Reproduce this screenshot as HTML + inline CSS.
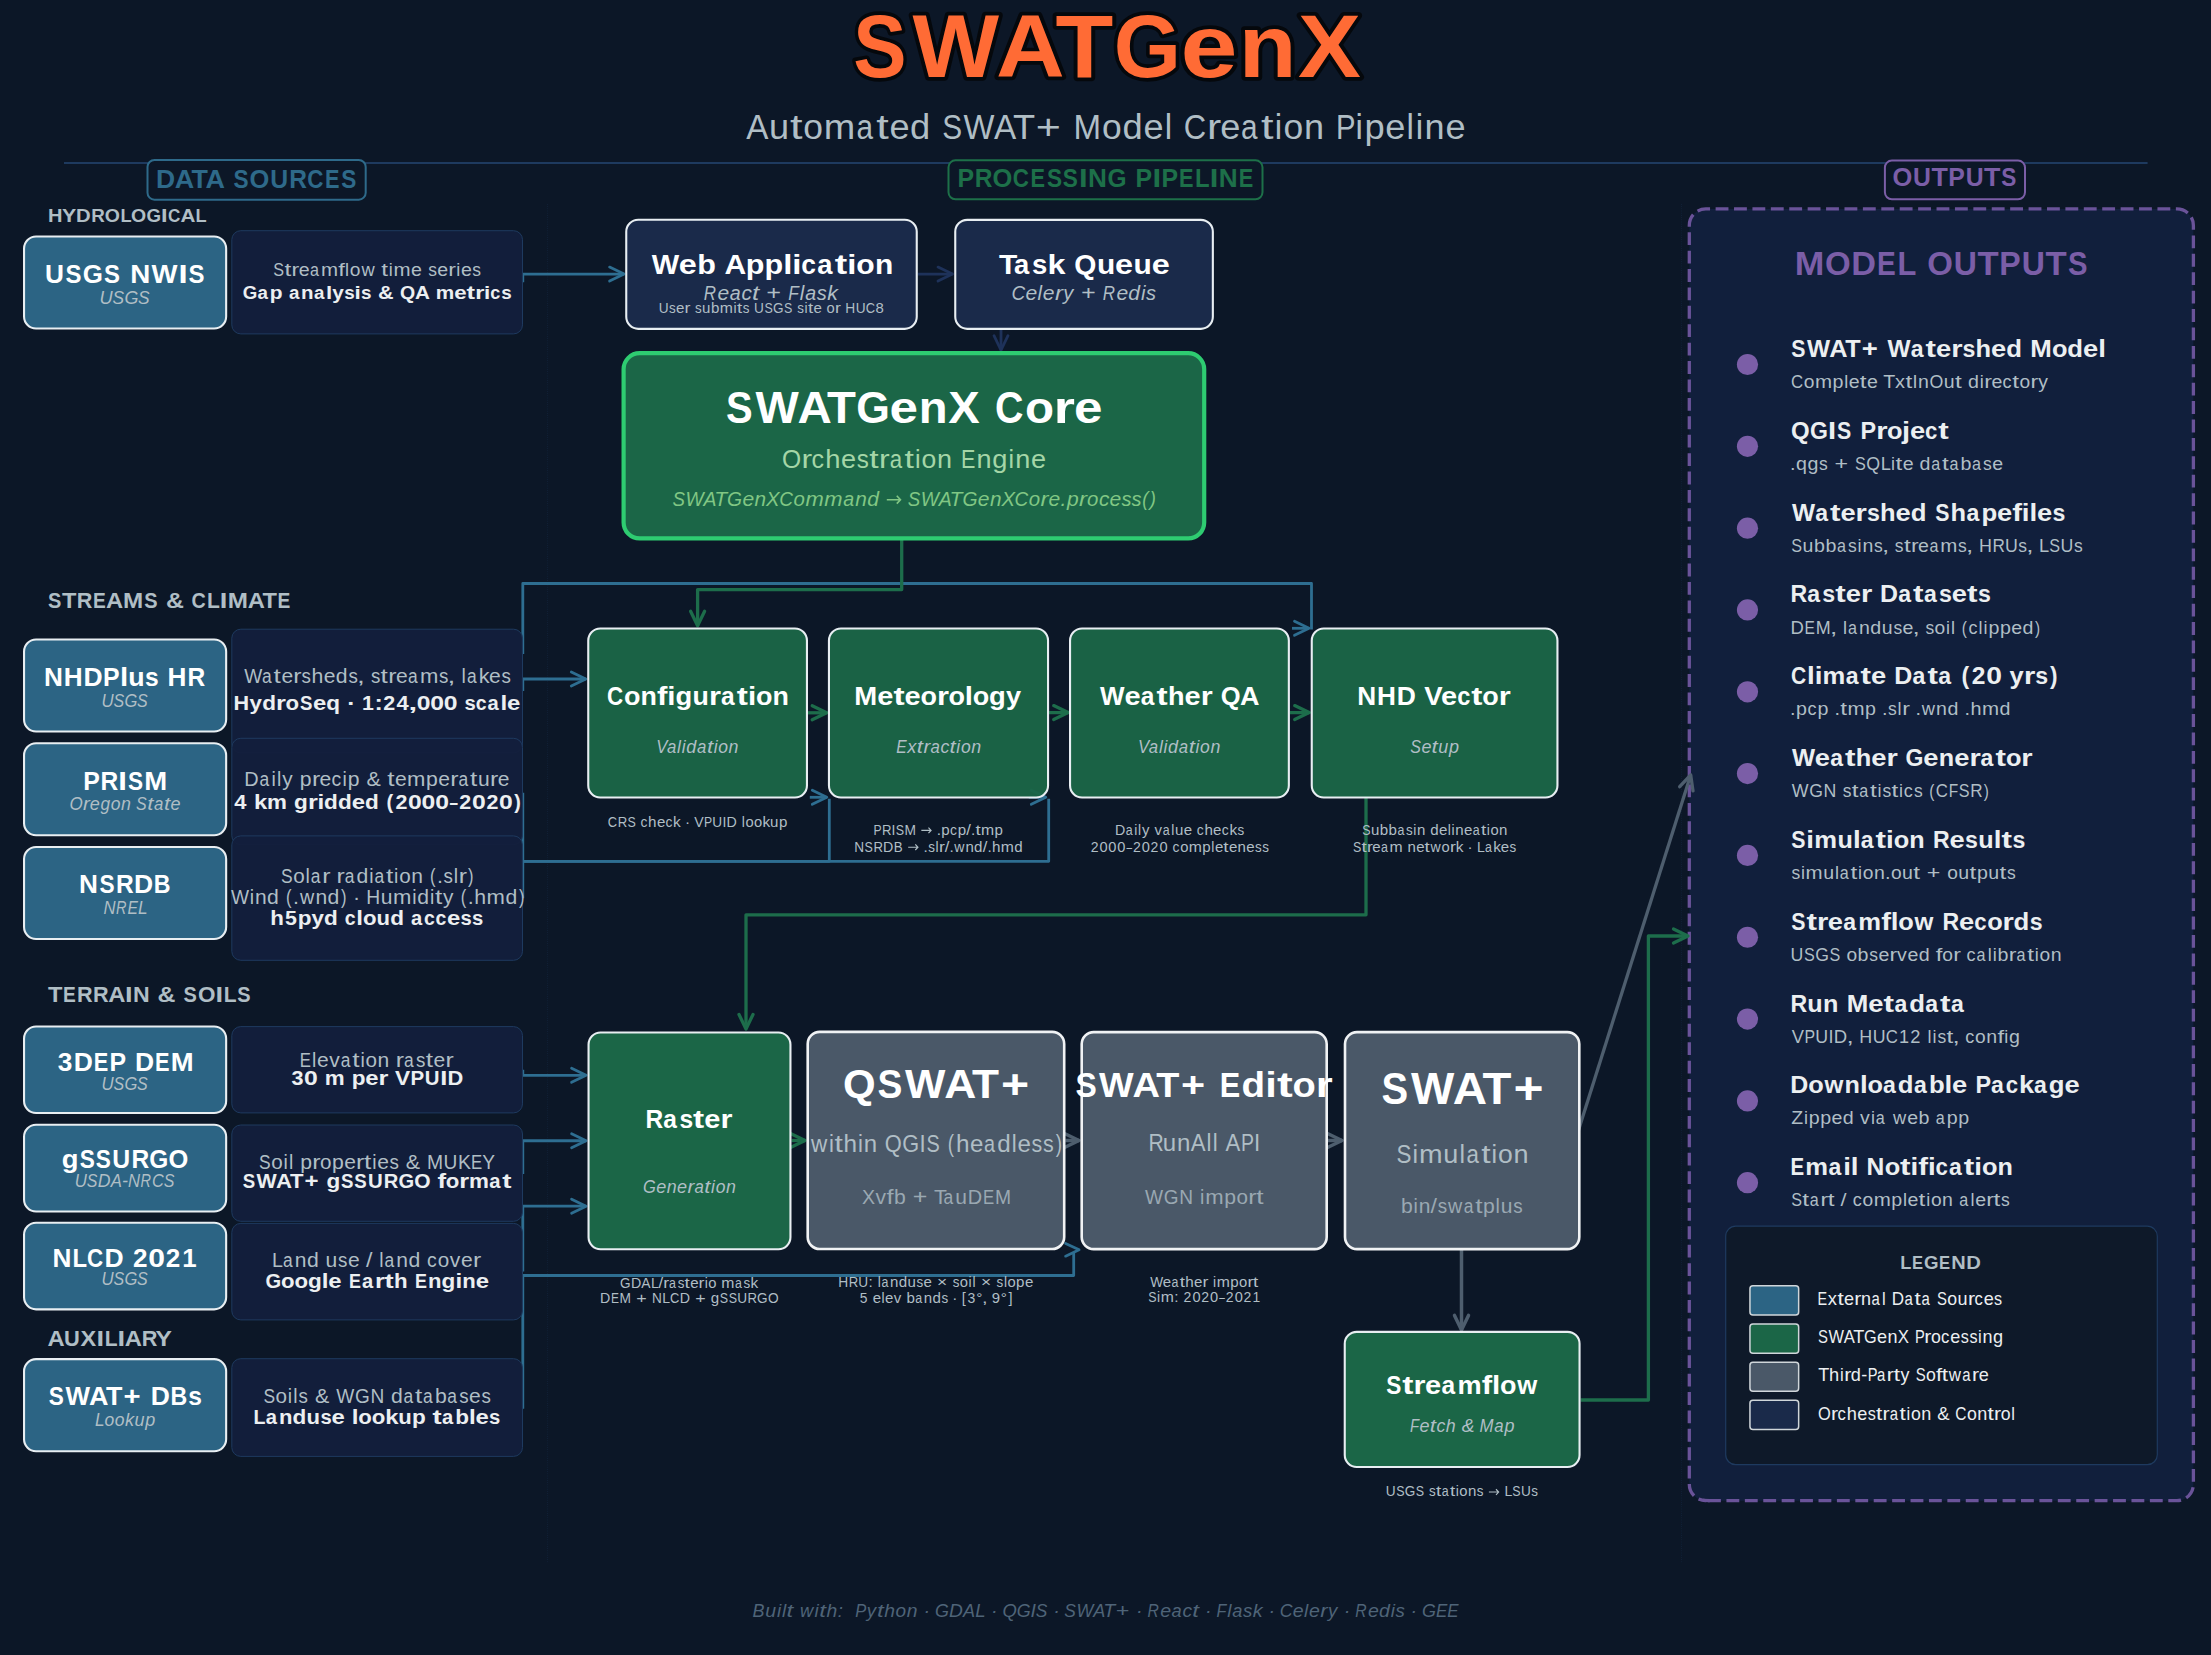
<!DOCTYPE html>
<html><head><meta charset="utf-8"><title>SWATGenX</title>
<style>html,body{margin:0;padding:0;background:#0c1727;}svg{display:block}text{font-family:"Liberation Sans", sans-serif;white-space:pre}</style>
</head><body>
<svg width="2211" height="1655" viewBox="0 0 2211 1655">
<rect x="0" y="0" width="2211" height="1655" fill="#0c1727"/>
<line x1="64" y1="163" x2="2147.6" y2="163" stroke="#1e3a5f" stroke-width="2"/>
<line x1="547.4" y1="204" x2="547.4" y2="1563" stroke="#1e3a5f" stroke-width="0.8" stroke-dasharray="0.8,1.4" opacity="0.45"/>
<line x1="1681.4" y1="204" x2="1681.4" y2="1563" stroke="#1e3a5f" stroke-width="0.8" stroke-dasharray="0.8,1.4" opacity="0.45"/>
<g font-size="88.33" font-weight="bold" fill="#05080c" stroke="#05080c" stroke-width="7.4" stroke-linejoin="round">
<text x="853.3" y="77.2" textLength="53.27" lengthAdjust="spacingAndGlyphs">S</text>
<text x="912.4" y="77.2" textLength="86.56" lengthAdjust="spacingAndGlyphs">W</text>
<text x="996.1" y="77.2" textLength="68.72" lengthAdjust="spacingAndGlyphs">A</text>
<text x="1055.6" y="77.2" textLength="57.81" lengthAdjust="spacingAndGlyphs">T</text>
<text x="1113.7" y="77.2" textLength="67.22" lengthAdjust="spacingAndGlyphs">G</text>
<text x="1180.6" y="77.2" textLength="56.97" lengthAdjust="spacingAndGlyphs">e</text>
<text x="1238.8" y="77.2" textLength="57.73" lengthAdjust="spacingAndGlyphs">n</text>
<text x="1297.9" y="77.2" textLength="62.91" lengthAdjust="spacingAndGlyphs">X</text>
</g>
<g font-size="88.33" font-weight="bold" fill="#ff6b35" >
<text x="853.3" y="77.2" textLength="53.27" lengthAdjust="spacingAndGlyphs">S</text>
<text x="912.4" y="77.2" textLength="86.56" lengthAdjust="spacingAndGlyphs">W</text>
<text x="996.1" y="77.2" textLength="68.72" lengthAdjust="spacingAndGlyphs">A</text>
<text x="1055.6" y="77.2" textLength="57.81" lengthAdjust="spacingAndGlyphs">T</text>
<text x="1113.7" y="77.2" textLength="67.22" lengthAdjust="spacingAndGlyphs">G</text>
<text x="1180.6" y="77.2" textLength="56.97" lengthAdjust="spacingAndGlyphs">e</text>
<text x="1238.8" y="77.2" textLength="57.73" lengthAdjust="spacingAndGlyphs">n</text>
<text x="1297.9" y="77.2" textLength="62.91" lengthAdjust="spacingAndGlyphs">X</text>
</g>
<g font-size="35.33" fill="#b0bec5" >
<text x="746.2" y="139.3" textLength="22.23" lengthAdjust="spacingAndGlyphs">A</text>
<text x="769.1" y="139.3" textLength="20.07" lengthAdjust="spacingAndGlyphs">u</text>
<text x="789.9" y="139.3" textLength="12.53" lengthAdjust="spacingAndGlyphs">t</text>
<text x="803.2" y="139.3" textLength="19.71" lengthAdjust="spacingAndGlyphs">o</text>
<text x="823.8" y="139.3" textLength="31.51" lengthAdjust="spacingAndGlyphs">m</text>
<text x="856.5" y="139.3" textLength="16.56" lengthAdjust="spacingAndGlyphs">a</text>
<text x="876.3" y="139.3" textLength="12.53" lengthAdjust="spacingAndGlyphs">t</text>
<text x="889.6" y="139.3" textLength="20.12" lengthAdjust="spacingAndGlyphs">e</text>
<text x="910.1" y="139.3" textLength="20.19" lengthAdjust="spacingAndGlyphs">d</text>
<text x="942.3" y="139.3" textLength="19.91" lengthAdjust="spacingAndGlyphs">S</text>
<text x="963.6" y="139.3" textLength="30.96" lengthAdjust="spacingAndGlyphs">W</text>
<text x="994.1" y="139.3" textLength="22.23" lengthAdjust="spacingAndGlyphs">A</text>
<text x="1013.1" y="139.3" textLength="22.15" lengthAdjust="spacingAndGlyphs">T</text>
<text x="1035.7" y="139.3" textLength="25.09" lengthAdjust="spacingAndGlyphs">+</text>
<text x="1073.5" y="139.3" textLength="27.56" lengthAdjust="spacingAndGlyphs">M</text>
<text x="1102.0" y="139.3" textLength="19.71" lengthAdjust="spacingAndGlyphs">o</text>
<text x="1122.4" y="139.3" textLength="20.19" lengthAdjust="spacingAndGlyphs">d</text>
<text x="1143.6" y="139.3" textLength="20.12" lengthAdjust="spacingAndGlyphs">e</text>
<text x="1164.7" y="139.3" textLength="7.41" lengthAdjust="spacingAndGlyphs">l</text>
<text x="1183.8" y="139.3" textLength="22.37" lengthAdjust="spacingAndGlyphs">C</text>
<text x="1207.0" y="139.3" textLength="14.21" lengthAdjust="spacingAndGlyphs">r</text>
<text x="1220.2" y="139.3" textLength="20.12" lengthAdjust="spacingAndGlyphs">e</text>
<text x="1241.1" y="139.3" textLength="16.56" lengthAdjust="spacingAndGlyphs">a</text>
<text x="1260.9" y="139.3" textLength="12.53" lengthAdjust="spacingAndGlyphs">t</text>
<text x="1274.8" y="139.3" textLength="7.41" lengthAdjust="spacingAndGlyphs">i</text>
<text x="1283.5" y="139.3" textLength="19.71" lengthAdjust="spacingAndGlyphs">o</text>
<text x="1304.1" y="139.3" textLength="20.07" lengthAdjust="spacingAndGlyphs">n</text>
<text x="1336.1" y="139.3" textLength="19.53" lengthAdjust="spacingAndGlyphs">P</text>
<text x="1355.5" y="139.3" textLength="7.41" lengthAdjust="spacingAndGlyphs">i</text>
<text x="1364.4" y="139.3" textLength="20.19" lengthAdjust="spacingAndGlyphs">p</text>
<text x="1385.3" y="139.3" textLength="20.12" lengthAdjust="spacingAndGlyphs">e</text>
<text x="1406.5" y="139.3" textLength="7.41" lengthAdjust="spacingAndGlyphs">l</text>
<text x="1415.7" y="139.3" textLength="7.41" lengthAdjust="spacingAndGlyphs">i</text>
<text x="1424.6" y="139.3" textLength="20.07" lengthAdjust="spacingAndGlyphs">n</text>
<text x="1445.5" y="139.3" textLength="20.12" lengthAdjust="spacingAndGlyphs">e</text>
</g>
<rect x="147.50" y="160.00" width="218.20" height="39.70" rx="7" ry="7" fill="#0c1727" stroke="#2e6a8a" stroke-width="2" />
<g font-size="25.03" font-weight="bold" fill="#2e6a8a" >
<text x="156.1" y="187.6" textLength="19.13" lengthAdjust="spacingAndGlyphs">D</text>
<text x="174.7" y="187.6" textLength="19.47" lengthAdjust="spacingAndGlyphs">A</text>
<text x="191.6" y="187.6" textLength="16.38" lengthAdjust="spacingAndGlyphs">T</text>
<text x="205.4" y="187.6" textLength="19.47" lengthAdjust="spacingAndGlyphs">A</text>
<text x="233.5" y="187.6" textLength="15.09" lengthAdjust="spacingAndGlyphs">S</text>
<text x="249.6" y="187.6" textLength="19.82" lengthAdjust="spacingAndGlyphs">O</text>
<text x="270.2" y="187.6" textLength="17.90" lengthAdjust="spacingAndGlyphs">U</text>
<text x="289.3" y="187.6" textLength="17.72" lengthAdjust="spacingAndGlyphs">R</text>
<text x="307.2" y="187.6" textLength="16.14" lengthAdjust="spacingAndGlyphs">C</text>
<text x="325.0" y="187.6" textLength="14.49" lengthAdjust="spacingAndGlyphs">E</text>
<text x="341.3" y="187.6" textLength="15.09" lengthAdjust="spacingAndGlyphs">S</text>
</g>
<rect x="948.50" y="160.30" width="314.00" height="39.00" rx="7" ry="7" fill="#0c1727" stroke="#1d7049" stroke-width="2" />
<g font-size="25.03" font-weight="bold" fill="#1d7049" >
<text x="957.4" y="187.1" textLength="16.58" lengthAdjust="spacingAndGlyphs">P</text>
<text x="974.7" y="187.1" textLength="17.72" lengthAdjust="spacingAndGlyphs">R</text>
<text x="992.5" y="187.1" textLength="19.82" lengthAdjust="spacingAndGlyphs">O</text>
<text x="1012.7" y="187.1" textLength="16.14" lengthAdjust="spacingAndGlyphs">C</text>
<text x="1030.5" y="187.1" textLength="14.49" lengthAdjust="spacingAndGlyphs">E</text>
<text x="1046.9" y="187.1" textLength="15.09" lengthAdjust="spacingAndGlyphs">S</text>
<text x="1062.8" y="187.1" textLength="15.09" lengthAdjust="spacingAndGlyphs">S</text>
<text x="1079.0" y="187.1" textLength="8.60" lengthAdjust="spacingAndGlyphs">I</text>
<text x="1088.0" y="187.1" textLength="18.93" lengthAdjust="spacingAndGlyphs">N</text>
<text x="1107.6" y="187.1" textLength="19.05" lengthAdjust="spacingAndGlyphs">G</text>
<text x="1135.5" y="187.1" textLength="16.58" lengthAdjust="spacingAndGlyphs">P</text>
<text x="1152.4" y="187.1" textLength="8.60" lengthAdjust="spacingAndGlyphs">I</text>
<text x="1161.6" y="187.1" textLength="16.58" lengthAdjust="spacingAndGlyphs">P</text>
<text x="1179.1" y="187.1" textLength="14.49" lengthAdjust="spacingAndGlyphs">E</text>
<text x="1195.1" y="187.1" textLength="14.56" lengthAdjust="spacingAndGlyphs">L</text>
<text x="1209.7" y="187.1" textLength="8.60" lengthAdjust="spacingAndGlyphs">I</text>
<text x="1218.8" y="187.1" textLength="18.93" lengthAdjust="spacingAndGlyphs">N</text>
<text x="1238.8" y="187.1" textLength="14.49" lengthAdjust="spacingAndGlyphs">E</text>
</g>
<rect x="1884.90" y="160.60" width="140.10" height="38.70" rx="7" ry="7" fill="#0c1727" stroke="#7b5ea7" stroke-width="2" />
<g font-size="25.03" font-weight="bold" fill="#7b5ea7" >
<text x="1892.6" y="186.2" textLength="19.82" lengthAdjust="spacingAndGlyphs">O</text>
<text x="1913.1" y="186.2" textLength="17.90" lengthAdjust="spacingAndGlyphs">U</text>
<text x="1931.5" y="186.2" textLength="16.38" lengthAdjust="spacingAndGlyphs">T</text>
<text x="1948.3" y="186.2" textLength="16.58" lengthAdjust="spacingAndGlyphs">P</text>
<text x="1965.7" y="186.2" textLength="17.90" lengthAdjust="spacingAndGlyphs">U</text>
<text x="1984.1" y="186.2" textLength="16.38" lengthAdjust="spacingAndGlyphs">T</text>
<text x="2001.3" y="186.2" textLength="15.09" lengthAdjust="spacingAndGlyphs">S</text>
</g>
<path d="M1705.8,1500.7 L2176.9,1500.7 A16.5,16.5 0 0 0 2193.4,1484.2 L2193.4,225.4 A16.5,16.5 0 0 0 2176.9,208.9 L1705.8,208.9 A16.5,16.5 0 0 0 1689.3,225.4 L1689.3,1484.2 A16.5,16.5 0 0 0 1705.8,1500.7 Z" fill="#111f3c" stroke="#6a5399" stroke-width="3.3" stroke-dasharray="12.85,5.56" stroke-dashoffset="-2.23"/>
<path d="M1702.8,1500.4 L1709.8,1500.7" stroke="#6a5399" stroke-width="3.3" fill="none"/>
<path d="M522.80,282.30 L522.80,274.10 L624.10,274.10" fill="none" stroke="#2e6e91" stroke-width="2.8" stroke-linejoin="round" />
<path d="M609.60,281.10 L624.10,274.10 L609.60,267.10" fill="none" stroke="#2e6e91" stroke-width="2.8" stroke-linecap="round" stroke-linejoin="round"/>
<path d="M522.80,691.00 L522.80,679.00 L585.80,679.00" fill="none" stroke="#2e6e91" stroke-width="2.8" stroke-linejoin="round" />
<path d="M571.30,686.00 L585.80,679.00 L571.30,672.00" fill="none" stroke="#2e6e91" stroke-width="2.8" stroke-linecap="round" stroke-linejoin="round"/>
<path d="M522.80,654.00 L522.80,583.50 L1311.50,583.50 L1311.50,629.50" fill="none" stroke="#2e6e91" stroke-width="2.8" stroke-linejoin="round" />
<path d="M1292.00,628.30 L1309.00,628.30" fill="none" stroke="#2e6e91" stroke-width="2.8" stroke-linejoin="round" />
<path d="M1294.50,635.30 L1309.00,628.30 L1294.50,621.30" fill="none" stroke="#2e6e91" stroke-width="2.8" stroke-linecap="round" stroke-linejoin="round"/>
<path d="M522.80,792.70 L522.80,861.30 L829.30,861.30 L829.30,798.80" fill="none" stroke="#2e6e91" stroke-width="2.8" stroke-linejoin="round" />
<path d="M809.80,797.30 L826.80,797.30" fill="none" stroke="#2e6e91" stroke-width="2.8" stroke-linejoin="round" />
<path d="M812.30,804.30 L826.80,797.30 L812.30,790.30" fill="none" stroke="#2e6e91" stroke-width="2.8" stroke-linecap="round" stroke-linejoin="round"/>
<path d="M522.80,898.20 L522.80,861.30 L1048.70,861.30 L1048.70,798.80" fill="none" stroke="#2e6e91" stroke-width="2.8" stroke-linejoin="round" />
<path d="M1028.80,797.30 L1045.80,797.30" fill="none" stroke="#2e6e91" stroke-width="2.8" stroke-linejoin="round" />
<path d="M1031.30,804.30 L1045.80,797.30 L1031.30,790.30" fill="none" stroke="#2e6e91" stroke-width="2.8" stroke-linecap="round" stroke-linejoin="round"/>
<path d="M522.80,1069.70 L522.80,1075.30 L586.10,1075.30" fill="none" stroke="#2e6e91" stroke-width="2.8" stroke-linejoin="round" />
<path d="M571.60,1082.30 L586.10,1075.30 L571.60,1068.30" fill="none" stroke="#2e6e91" stroke-width="2.8" stroke-linecap="round" stroke-linejoin="round"/>
<path d="M522.80,1174.10 L522.80,1140.75 L586.10,1140.75" fill="none" stroke="#2e6e91" stroke-width="2.8" stroke-linejoin="round" />
<path d="M571.60,1147.75 L586.10,1140.75 L571.60,1133.75" fill="none" stroke="#2e6e91" stroke-width="2.8" stroke-linecap="round" stroke-linejoin="round"/>
<path d="M522.80,1271.40 L522.80,1206.20 L586.10,1206.20" fill="none" stroke="#2e6e91" stroke-width="2.8" stroke-linejoin="round" />
<path d="M571.60,1213.20 L586.10,1206.20 L571.60,1199.20" fill="none" stroke="#2e6e91" stroke-width="2.8" stroke-linecap="round" stroke-linejoin="round"/>
<path d="M522.80,1408.80 L522.80,1275.50 L1073.70,1275.50 L1073.70,1252.50" fill="none" stroke="#2e6e91" stroke-width="2.8" stroke-linejoin="round" />
<path d="M1065.60,1256.15 L1079.10,1249.85 L1065.60,1243.55" fill="none" stroke="#2e6e91" stroke-width="2.8" stroke-linecap="round" stroke-linejoin="round"/>
<path d="M901.70,540.00 L901.70,589.60 L697.60,589.60 L697.60,625.70" fill="none" stroke="#1d6d4b" stroke-width="3.3" stroke-linejoin="round" />
<path d="M690.60,611.20 L697.60,625.70 L704.60,611.20" fill="none" stroke="#1d6d4b" stroke-width="3.3" stroke-linecap="round" stroke-linejoin="round"/>
<path d="M808.00,712.80 L826.70,712.80" fill="none" stroke="#1d6d4b" stroke-width="3.3" stroke-linejoin="round" />
<path d="M812.20,719.80 L826.70,712.80 L812.20,705.80" fill="none" stroke="#1d6d4b" stroke-width="3.3" stroke-linecap="round" stroke-linejoin="round"/>
<path d="M1049.00,712.60 L1068.20,712.60" fill="none" stroke="#1d6d4b" stroke-width="3.3" stroke-linejoin="round" />
<path d="M1053.70,719.60 L1068.20,712.60 L1053.70,705.60" fill="none" stroke="#1d6d4b" stroke-width="3.3" stroke-linecap="round" stroke-linejoin="round"/>
<path d="M1290.00,712.60 L1309.20,712.60" fill="none" stroke="#1d6d4b" stroke-width="3.3" stroke-linejoin="round" />
<path d="M1294.70,719.60 L1309.20,712.60 L1294.70,705.60" fill="none" stroke="#1d6d4b" stroke-width="3.3" stroke-linecap="round" stroke-linejoin="round"/>
<path d="M1366.00,798.00 L1366.00,914.80 L746.00,914.80 L746.00,1029.00" fill="none" stroke="#1d6d4b" stroke-width="3.3" stroke-linejoin="round" />
<path d="M739.00,1014.50 L746.00,1029.00 L753.00,1014.50" fill="none" stroke="#1d6d4b" stroke-width="3.3" stroke-linecap="round" stroke-linejoin="round"/>
<path d="M791.50,1140.50 L805.00,1140.50" fill="none" stroke="#1d6d4b" stroke-width="3.3" stroke-linejoin="round" />
<path d="M790.50,1147.50 L805.00,1140.50 L790.50,1133.50" fill="none" stroke="#1d6d4b" stroke-width="3.3" stroke-linecap="round" stroke-linejoin="round"/>
<path d="M1580.60,1400.00 L1648.40,1400.00 L1648.40,936.00 L1688.00,936.00" fill="none" stroke="#1d6d4b" stroke-width="3.3" stroke-linejoin="round" />
<path d="M1673.50,943.00 L1688.00,936.00 L1673.50,929.00" fill="none" stroke="#1d6d4b" stroke-width="3.3" stroke-linecap="round" stroke-linejoin="round"/>
<path d="M1065.50,1140.50 L1079.00,1140.50" fill="none" stroke="#4e5e6e" stroke-width="3.5" stroke-linejoin="round" />
<path d="M1064.50,1147.50 L1079.00,1140.50 L1064.50,1133.50" fill="none" stroke="#4e5e6e" stroke-width="3.5" stroke-linecap="round" stroke-linejoin="round"/>
<path d="M1328.00,1140.50 L1342.00,1140.50" fill="none" stroke="#4e5e6e" stroke-width="3.5" stroke-linejoin="round" />
<path d="M1327.50,1147.50 L1342.00,1140.50 L1327.50,1133.50" fill="none" stroke="#4e5e6e" stroke-width="3.5" stroke-linecap="round" stroke-linejoin="round"/>
<path d="M1461.50,1250.00 L1461.50,1329.90" fill="none" stroke="#4e5e6e" stroke-width="3.5" stroke-linejoin="round" />
<path d="M1454.50,1315.40 L1461.50,1329.90 L1468.50,1315.40" fill="none" stroke="#4e5e6e" stroke-width="3.5" stroke-linecap="round" stroke-linejoin="round"/>
<path d="M1578.40,1130.40 L1690.70,775.00" fill="none" stroke="#4e5e6e" stroke-width="3.3" stroke-linejoin="round" />
<path d="M1693.01,790.94 L1690.70,775.00 L1679.66,786.72" fill="none" stroke="#4e5e6e" stroke-width="3.3" stroke-linecap="round" stroke-linejoin="round"/>
<path d="M917.80,274.10 L952.50,274.10" fill="none" stroke="#1e325a" stroke-width="2.8" stroke-linejoin="round" />
<path d="M938.00,281.10 L952.50,274.10 L938.00,267.10" fill="none" stroke="#1e325a" stroke-width="2.8" stroke-linecap="round" stroke-linejoin="round"/>
<path d="M1001.00,329.90 L1001.00,350.20" fill="none" stroke="#1e325a" stroke-width="2.8" stroke-linejoin="round" />
<path d="M994.00,335.70 L1001.00,350.20 L1008.00,335.70" fill="none" stroke="#1e325a" stroke-width="2.8" stroke-linecap="round" stroke-linejoin="round"/>
<g font-size="19.14" font-weight="bold" fill="#b0bec5" >
<text x="47.9" y="221.5" textLength="14.48" lengthAdjust="spacingAndGlyphs">H</text>
<text x="62.1" y="221.5" textLength="14.24" lengthAdjust="spacingAndGlyphs">Y</text>
<text x="76.1" y="221.5" textLength="14.63" lengthAdjust="spacingAndGlyphs">D</text>
<text x="91.2" y="221.5" textLength="13.55" lengthAdjust="spacingAndGlyphs">R</text>
<text x="104.8" y="221.5" textLength="15.16" lengthAdjust="spacingAndGlyphs">O</text>
<text x="120.4" y="221.5" textLength="11.14" lengthAdjust="spacingAndGlyphs">L</text>
<text x="131.0" y="221.5" textLength="15.16" lengthAdjust="spacingAndGlyphs">O</text>
<text x="146.4" y="221.5" textLength="14.56" lengthAdjust="spacingAndGlyphs">G</text>
<text x="161.1" y="221.5" textLength="6.57" lengthAdjust="spacingAndGlyphs">I</text>
<text x="168.0" y="221.5" textLength="12.34" lengthAdjust="spacingAndGlyphs">C</text>
<text x="180.6" y="221.5" textLength="14.89" lengthAdjust="spacingAndGlyphs">A</text>
<text x="195.4" y="221.5" textLength="11.14" lengthAdjust="spacingAndGlyphs">L</text>
</g>
<g font-size="22.08" font-weight="bold" fill="#b0bec5" >
<text x="48.0" y="607.9" textLength="13.32" lengthAdjust="spacingAndGlyphs">S</text>
<text x="62.0" y="607.9" textLength="14.45" lengthAdjust="spacingAndGlyphs">T</text>
<text x="76.8" y="607.9" textLength="15.64" lengthAdjust="spacingAndGlyphs">R</text>
<text x="93.0" y="607.9" textLength="12.79" lengthAdjust="spacingAndGlyphs">E</text>
<text x="106.1" y="607.9" textLength="17.18" lengthAdjust="spacingAndGlyphs">A</text>
<text x="123.1" y="607.9" textLength="20.21" lengthAdjust="spacingAndGlyphs">M</text>
<text x="144.3" y="607.9" textLength="13.32" lengthAdjust="spacingAndGlyphs">S</text>
<text x="165.9" y="607.9" textLength="17.96" lengthAdjust="spacingAndGlyphs">&amp;</text>
<text x="191.4" y="607.9" textLength="14.24" lengthAdjust="spacingAndGlyphs">C</text>
<text x="207.0" y="607.9" textLength="12.85" lengthAdjust="spacingAndGlyphs">L</text>
<text x="219.8" y="607.9" textLength="7.58" lengthAdjust="spacingAndGlyphs">I</text>
<text x="227.8" y="607.9" textLength="20.21" lengthAdjust="spacingAndGlyphs">M</text>
<text x="247.7" y="607.9" textLength="17.18" lengthAdjust="spacingAndGlyphs">A</text>
<text x="262.6" y="607.9" textLength="14.45" lengthAdjust="spacingAndGlyphs">T</text>
<text x="277.6" y="607.9" textLength="12.79" lengthAdjust="spacingAndGlyphs">E</text>
</g>
<g font-size="22.08" font-weight="bold" fill="#b0bec5" >
<text x="48.1" y="1001.7" textLength="14.45" lengthAdjust="spacingAndGlyphs">T</text>
<text x="63.0" y="1001.7" textLength="12.79" lengthAdjust="spacingAndGlyphs">E</text>
<text x="77.1" y="1001.7" textLength="15.64" lengthAdjust="spacingAndGlyphs">R</text>
<text x="93.1" y="1001.7" textLength="15.64" lengthAdjust="spacingAndGlyphs">R</text>
<text x="108.2" y="1001.7" textLength="17.18" lengthAdjust="spacingAndGlyphs">A</text>
<text x="124.9" y="1001.7" textLength="7.58" lengthAdjust="spacingAndGlyphs">I</text>
<text x="133.0" y="1001.7" textLength="16.70" lengthAdjust="spacingAndGlyphs">N</text>
<text x="157.4" y="1001.7" textLength="17.96" lengthAdjust="spacingAndGlyphs">&amp;</text>
<text x="183.6" y="1001.7" textLength="13.32" lengthAdjust="spacingAndGlyphs">S</text>
<text x="197.9" y="1001.7" textLength="17.49" lengthAdjust="spacingAndGlyphs">O</text>
<text x="215.5" y="1001.7" textLength="7.58" lengthAdjust="spacingAndGlyphs">I</text>
<text x="223.7" y="1001.7" textLength="12.85" lengthAdjust="spacingAndGlyphs">L</text>
<text x="237.3" y="1001.7" textLength="13.32" lengthAdjust="spacingAndGlyphs">S</text>
</g>
<g font-size="22.08" font-weight="bold" fill="#b0bec5" >
<text x="47.5" y="1346.2" textLength="17.18" lengthAdjust="spacingAndGlyphs">A</text>
<text x="64.0" y="1346.2" textLength="15.80" lengthAdjust="spacingAndGlyphs">U</text>
<text x="80.6" y="1346.2" textLength="15.73" lengthAdjust="spacingAndGlyphs">X</text>
<text x="96.6" y="1346.2" textLength="7.58" lengthAdjust="spacingAndGlyphs">I</text>
<text x="104.7" y="1346.2" textLength="12.85" lengthAdjust="spacingAndGlyphs">L</text>
<text x="117.6" y="1346.2" textLength="7.58" lengthAdjust="spacingAndGlyphs">I</text>
<text x="124.7" y="1346.2" textLength="17.18" lengthAdjust="spacingAndGlyphs">A</text>
<text x="141.8" y="1346.2" textLength="15.64" lengthAdjust="spacingAndGlyphs">R</text>
<text x="155.6" y="1346.2" textLength="16.43" lengthAdjust="spacingAndGlyphs">Y</text>
</g>
<rect x="24.05" y="236.45" width="202.10" height="92.10" rx="12" ry="12" fill="#2c6484" stroke="#e8eef2" stroke-width="2.1" />
<g font-size="26.50" font-weight="bold" fill="#ffffff" >
<text x="44.9" y="282.6" textLength="18.96" lengthAdjust="spacingAndGlyphs">U</text>
<text x="65.6" y="282.6" textLength="15.98" lengthAdjust="spacingAndGlyphs">S</text>
<text x="82.8" y="282.6" textLength="20.17" lengthAdjust="spacingAndGlyphs">G</text>
<text x="104.1" y="282.6" textLength="15.98" lengthAdjust="spacingAndGlyphs">S</text>
<text x="130.2" y="282.6" textLength="20.04" lengthAdjust="spacingAndGlyphs">N</text>
<text x="151.5" y="282.6" textLength="25.97" lengthAdjust="spacingAndGlyphs">W</text>
<text x="178.4" y="282.6" textLength="9.10" lengthAdjust="spacingAndGlyphs">I</text>
<text x="188.6" y="282.6" textLength="15.98" lengthAdjust="spacingAndGlyphs">S</text>
</g>
<g font-size="19.14" font-style="italic" fill="#b0bec5" >
<text x="99.5" y="303.8" textLength="13.14" lengthAdjust="spacingAndGlyphs">U</text>
<text x="112.5" y="303.8" textLength="11.56" lengthAdjust="spacingAndGlyphs">S</text>
<text x="124.4" y="303.8" textLength="13.94" lengthAdjust="spacingAndGlyphs">G</text>
<text x="138.0" y="303.8" textLength="11.56" lengthAdjust="spacingAndGlyphs">S</text>
</g>
<rect x="24.05" y="639.55" width="202.10" height="92.00" rx="12" ry="12" fill="#2c6484" stroke="#e8eef2" stroke-width="2.1" />
<g font-size="25.03" font-weight="bold" fill="#ffffff" >
<text x="43.9" y="686.1" textLength="18.93" lengthAdjust="spacingAndGlyphs">N</text>
<text x="63.7" y="686.1" textLength="18.93" lengthAdjust="spacingAndGlyphs">H</text>
<text x="83.4" y="686.1" textLength="19.13" lengthAdjust="spacingAndGlyphs">D</text>
<text x="103.1" y="686.1" textLength="16.58" lengthAdjust="spacingAndGlyphs">P</text>
<text x="119.9" y="686.1" textLength="8.20" lengthAdjust="spacingAndGlyphs">l</text>
<text x="128.3" y="686.1" textLength="16.36" lengthAdjust="spacingAndGlyphs">u</text>
<text x="145.1" y="686.1" textLength="13.68" lengthAdjust="spacingAndGlyphs">s</text>
<text x="167.5" y="686.1" textLength="18.93" lengthAdjust="spacingAndGlyphs">H</text>
<text x="187.4" y="686.1" textLength="17.72" lengthAdjust="spacingAndGlyphs">R</text>
</g>
<g font-size="17.67" font-style="italic" fill="#b0bec5" >
<text x="101.5" y="706.9" textLength="12.13" lengthAdjust="spacingAndGlyphs">U</text>
<text x="113.5" y="706.9" textLength="10.67" lengthAdjust="spacingAndGlyphs">S</text>
<text x="124.4" y="706.9" textLength="12.87" lengthAdjust="spacingAndGlyphs">G</text>
<text x="137.0" y="706.9" textLength="10.67" lengthAdjust="spacingAndGlyphs">S</text>
</g>
<rect x="24.05" y="743.25" width="202.10" height="92.00" rx="12" ry="12" fill="#2c6484" stroke="#e8eef2" stroke-width="2.1" />
<g font-size="25.03" font-weight="bold" fill="#ffffff" >
<text x="83.2" y="789.5" textLength="16.58" lengthAdjust="spacingAndGlyphs">P</text>
<text x="100.6" y="789.5" textLength="17.72" lengthAdjust="spacingAndGlyphs">R</text>
<text x="118.3" y="789.5" textLength="8.60" lengthAdjust="spacingAndGlyphs">I</text>
<text x="128.0" y="789.5" textLength="15.09" lengthAdjust="spacingAndGlyphs">S</text>
<text x="144.3" y="789.5" textLength="22.90" lengthAdjust="spacingAndGlyphs">M</text>
</g>
<g font-size="17.67" font-style="italic" fill="#b0bec5" >
<text x="69.4" y="810.0" textLength="13.24" lengthAdjust="spacingAndGlyphs">O</text>
<text x="83.0" y="810.0" textLength="6.82" lengthAdjust="spacingAndGlyphs">r</text>
<text x="89.7" y="810.0" textLength="10.03" lengthAdjust="spacingAndGlyphs">e</text>
<text x="100.4" y="810.0" textLength="9.61" lengthAdjust="spacingAndGlyphs">g</text>
<text x="110.7" y="810.0" textLength="9.74" lengthAdjust="spacingAndGlyphs">o</text>
<text x="121.0" y="810.0" textLength="9.92" lengthAdjust="spacingAndGlyphs">n</text>
<text x="136.1" y="810.0" textLength="10.67" lengthAdjust="spacingAndGlyphs">S</text>
<text x="147.2" y="810.0" textLength="6.17" lengthAdjust="spacingAndGlyphs">t</text>
<text x="154.0" y="810.0" textLength="9.36" lengthAdjust="spacingAndGlyphs">a</text>
<text x="163.9" y="810.0" textLength="6.17" lengthAdjust="spacingAndGlyphs">t</text>
<text x="170.5" y="810.0" textLength="10.03" lengthAdjust="spacingAndGlyphs">e</text>
</g>
<rect x="24.05" y="847.05" width="202.10" height="92.00" rx="12" ry="12" fill="#2c6484" stroke="#e8eef2" stroke-width="2.1" />
<g font-size="25.03" font-weight="bold" fill="#ffffff" >
<text x="79.0" y="893.2" textLength="18.93" lengthAdjust="spacingAndGlyphs">N</text>
<text x="99.4" y="893.2" textLength="15.09" lengthAdjust="spacingAndGlyphs">S</text>
<text x="115.9" y="893.2" textLength="17.72" lengthAdjust="spacingAndGlyphs">R</text>
<text x="134.0" y="893.2" textLength="19.13" lengthAdjust="spacingAndGlyphs">D</text>
<text x="153.8" y="893.2" textLength="16.77" lengthAdjust="spacingAndGlyphs">B</text>
</g>
<g font-size="17.67" font-style="italic" fill="#b0bec5" >
<text x="103.4" y="914.2" textLength="12.04" lengthAdjust="spacingAndGlyphs">N</text>
<text x="115.9" y="914.2" textLength="10.49" lengthAdjust="spacingAndGlyphs">R</text>
<text x="127.5" y="914.2" textLength="10.43" lengthAdjust="spacingAndGlyphs">E</text>
<text x="138.0" y="914.2" textLength="9.58" lengthAdjust="spacingAndGlyphs">L</text>
</g>
<rect x="24.05" y="1026.55" width="202.10" height="86.50" rx="12" ry="12" fill="#2c6484" stroke="#e8eef2" stroke-width="2.1" />
<g font-size="25.03" font-weight="bold" fill="#ffffff" >
<text x="57.8" y="1071.2" textLength="14.59" lengthAdjust="spacingAndGlyphs">3</text>
<text x="73.8" y="1071.2" textLength="19.13" lengthAdjust="spacingAndGlyphs">D</text>
<text x="93.7" y="1071.2" textLength="14.49" lengthAdjust="spacingAndGlyphs">E</text>
<text x="109.6" y="1071.2" textLength="16.58" lengthAdjust="spacingAndGlyphs">P</text>
<text x="135.0" y="1071.2" textLength="19.13" lengthAdjust="spacingAndGlyphs">D</text>
<text x="154.9" y="1071.2" textLength="14.49" lengthAdjust="spacingAndGlyphs">E</text>
<text x="170.7" y="1071.2" textLength="22.90" lengthAdjust="spacingAndGlyphs">M</text>
</g>
<g font-size="17.67" font-style="italic" fill="#b0bec5" >
<text x="101.5" y="1089.6" textLength="12.13" lengthAdjust="spacingAndGlyphs">U</text>
<text x="113.5" y="1089.6" textLength="10.67" lengthAdjust="spacingAndGlyphs">S</text>
<text x="124.4" y="1089.6" textLength="12.87" lengthAdjust="spacingAndGlyphs">G</text>
<text x="137.0" y="1089.6" textLength="10.67" lengthAdjust="spacingAndGlyphs">S</text>
</g>
<rect x="24.05" y="1124.75" width="202.10" height="86.70" rx="12" ry="12" fill="#2c6484" stroke="#e8eef2" stroke-width="2.1" />
<g font-size="25.03" font-weight="bold" fill="#ffffff" >
<text x="61.8" y="1168.3" textLength="16.71" lengthAdjust="spacingAndGlyphs">g</text>
<text x="79.7" y="1168.3" textLength="15.09" lengthAdjust="spacingAndGlyphs">S</text>
<text x="95.7" y="1168.3" textLength="15.09" lengthAdjust="spacingAndGlyphs">S</text>
<text x="112.3" y="1168.3" textLength="17.90" lengthAdjust="spacingAndGlyphs">U</text>
<text x="131.4" y="1168.3" textLength="17.72" lengthAdjust="spacingAndGlyphs">R</text>
<text x="149.2" y="1168.3" textLength="19.05" lengthAdjust="spacingAndGlyphs">G</text>
<text x="168.6" y="1168.3" textLength="19.82" lengthAdjust="spacingAndGlyphs">O</text>
</g>
<g font-size="17.67" font-style="italic" fill="#b0bec5" >
<text x="74.8" y="1187.0" textLength="12.13" lengthAdjust="spacingAndGlyphs">U</text>
<text x="86.8" y="1187.0" textLength="10.67" lengthAdjust="spacingAndGlyphs">S</text>
<text x="97.7" y="1187.0" textLength="12.77" lengthAdjust="spacingAndGlyphs">D</text>
<text x="110.7" y="1187.0" textLength="11.12" lengthAdjust="spacingAndGlyphs">A</text>
<text x="121.9" y="1187.0" textLength="5.98" lengthAdjust="spacingAndGlyphs">-</text>
<text x="128.0" y="1187.0" textLength="12.04" lengthAdjust="spacingAndGlyphs">N</text>
<text x="140.5" y="1187.0" textLength="10.49" lengthAdjust="spacingAndGlyphs">R</text>
<text x="151.9" y="1187.0" textLength="11.77" lengthAdjust="spacingAndGlyphs">C</text>
<text x="163.7" y="1187.0" textLength="10.67" lengthAdjust="spacingAndGlyphs">S</text>
</g>
<rect x="24.05" y="1222.75" width="202.10" height="86.60" rx="12" ry="12" fill="#2c6484" stroke="#e8eef2" stroke-width="2.1" />
<g font-size="25.03" font-weight="bold" fill="#ffffff" >
<text x="52.5" y="1266.6" textLength="18.93" lengthAdjust="spacingAndGlyphs">N</text>
<text x="72.4" y="1266.6" textLength="14.56" lengthAdjust="spacingAndGlyphs">L</text>
<text x="87.1" y="1266.6" textLength="16.14" lengthAdjust="spacingAndGlyphs">C</text>
<text x="104.6" y="1266.6" textLength="19.13" lengthAdjust="spacingAndGlyphs">D</text>
<text x="133.0" y="1266.6" textLength="14.50" lengthAdjust="spacingAndGlyphs">2</text>
<text x="148.3" y="1266.6" textLength="16.73" lengthAdjust="spacingAndGlyphs">0</text>
<text x="165.8" y="1266.6" textLength="14.50" lengthAdjust="spacingAndGlyphs">2</text>
<text x="182.3" y="1266.6" textLength="14.39" lengthAdjust="spacingAndGlyphs">1</text>
</g>
<g font-size="17.67" font-style="italic" fill="#b0bec5" >
<text x="101.5" y="1285.3" textLength="12.13" lengthAdjust="spacingAndGlyphs">U</text>
<text x="113.5" y="1285.3" textLength="10.67" lengthAdjust="spacingAndGlyphs">S</text>
<text x="124.4" y="1285.3" textLength="12.87" lengthAdjust="spacingAndGlyphs">G</text>
<text x="137.0" y="1285.3" textLength="10.67" lengthAdjust="spacingAndGlyphs">S</text>
</g>
<rect x="24.05" y="1359.15" width="202.10" height="92.10" rx="12" ry="12" fill="#2c6484" stroke="#e8eef2" stroke-width="2.1" />
<g font-size="25.03" font-weight="bold" fill="#ffffff" >
<text x="48.7" y="1405.0" textLength="15.09" lengthAdjust="spacingAndGlyphs">S</text>
<text x="65.4" y="1405.0" textLength="24.53" lengthAdjust="spacingAndGlyphs">W</text>
<text x="89.1" y="1405.0" textLength="19.47" lengthAdjust="spacingAndGlyphs">A</text>
<text x="106.0" y="1405.0" textLength="16.38" lengthAdjust="spacingAndGlyphs">T</text>
<text x="123.6" y="1405.0" textLength="17.06" lengthAdjust="spacingAndGlyphs">+</text>
<text x="150.7" y="1405.0" textLength="19.13" lengthAdjust="spacingAndGlyphs">D</text>
<text x="170.5" y="1405.0" textLength="16.77" lengthAdjust="spacingAndGlyphs">B</text>
<text x="188.2" y="1405.0" textLength="13.68" lengthAdjust="spacingAndGlyphs">s</text>
</g>
<g font-size="17.67" font-style="italic" fill="#b0bec5" >
<text x="94.9" y="1426.0" textLength="9.58" lengthAdjust="spacingAndGlyphs">L</text>
<text x="104.5" y="1426.0" textLength="9.74" lengthAdjust="spacingAndGlyphs">o</text>
<text x="114.7" y="1426.0" textLength="9.74" lengthAdjust="spacingAndGlyphs">o</text>
<text x="125.0" y="1426.0" textLength="9.13" lengthAdjust="spacingAndGlyphs">k</text>
<text x="134.6" y="1426.0" textLength="10.02" lengthAdjust="spacingAndGlyphs">u</text>
<text x="145.3" y="1426.0" textLength="10.03" lengthAdjust="spacingAndGlyphs">p</text>
</g>
<rect x="231.80" y="230.70" width="290.70" height="103.20" rx="9" ry="9" fill="#131f3c" stroke="#1e3a5f" stroke-width="1.0" fill-opacity="0.95"/>
<g font-size="19.14" fill="#b0bec5" >
<text x="273.3" y="276.2" textLength="10.79" lengthAdjust="spacingAndGlyphs">S</text>
<text x="284.4" y="276.2" textLength="6.79" lengthAdjust="spacingAndGlyphs">t</text>
<text x="291.6" y="276.2" textLength="7.70" lengthAdjust="spacingAndGlyphs">r</text>
<text x="298.7" y="276.2" textLength="10.90" lengthAdjust="spacingAndGlyphs">e</text>
<text x="310.0" y="276.2" textLength="8.97" lengthAdjust="spacingAndGlyphs">a</text>
<text x="320.9" y="276.2" textLength="17.07" lengthAdjust="spacingAndGlyphs">m</text>
<text x="338.2" y="276.2" textLength="6.62" lengthAdjust="spacingAndGlyphs">f</text>
<text x="345.1" y="276.2" textLength="4.01" lengthAdjust="spacingAndGlyphs">l</text>
<text x="349.8" y="276.2" textLength="10.68" lengthAdjust="spacingAndGlyphs">o</text>
<text x="361.4" y="276.2" textLength="13.22" lengthAdjust="spacingAndGlyphs">w</text>
<text x="381.2" y="276.2" textLength="6.79" lengthAdjust="spacingAndGlyphs">t</text>
<text x="388.8" y="276.2" textLength="4.01" lengthAdjust="spacingAndGlyphs">i</text>
<text x="393.5" y="276.2" textLength="17.07" lengthAdjust="spacingAndGlyphs">m</text>
<text x="411.0" y="276.2" textLength="10.90" lengthAdjust="spacingAndGlyphs">e</text>
<text x="428.2" y="276.2" textLength="8.72" lengthAdjust="spacingAndGlyphs">s</text>
<text x="437.3" y="276.2" textLength="10.90" lengthAdjust="spacingAndGlyphs">e</text>
<text x="448.3" y="276.2" textLength="7.70" lengthAdjust="spacingAndGlyphs">r</text>
<text x="456.2" y="276.2" textLength="4.01" lengthAdjust="spacingAndGlyphs">i</text>
<text x="460.9" y="276.2" textLength="10.90" lengthAdjust="spacingAndGlyphs">e</text>
<text x="472.2" y="276.2" textLength="8.72" lengthAdjust="spacingAndGlyphs">s</text>
</g>
<g font-size="19.14" font-weight="bold" fill="#eceff1" >
<text x="242.7" y="298.9" textLength="14.56" lengthAdjust="spacingAndGlyphs">G</text>
<text x="257.5" y="298.9" textLength="10.42" lengthAdjust="spacingAndGlyphs">a</text>
<text x="269.7" y="298.9" textLength="12.78" lengthAdjust="spacingAndGlyphs">p</text>
<text x="288.9" y="298.9" textLength="10.42" lengthAdjust="spacingAndGlyphs">a</text>
<text x="301.1" y="298.9" textLength="12.51" lengthAdjust="spacingAndGlyphs">n</text>
<text x="314.0" y="298.9" textLength="10.42" lengthAdjust="spacingAndGlyphs">a</text>
<text x="325.9" y="298.9" textLength="6.27" lengthAdjust="spacingAndGlyphs">l</text>
<text x="332.2" y="298.9" textLength="11.53" lengthAdjust="spacingAndGlyphs">y</text>
<text x="344.2" y="298.9" textLength="10.46" lengthAdjust="spacingAndGlyphs">s</text>
<text x="354.6" y="298.9" textLength="6.27" lengthAdjust="spacingAndGlyphs">i</text>
<text x="361.1" y="298.9" textLength="10.46" lengthAdjust="spacingAndGlyphs">s</text>
<text x="378.0" y="298.9" textLength="15.57" lengthAdjust="spacingAndGlyphs">&amp;</text>
<text x="400.1" y="298.9" textLength="15.16" lengthAdjust="spacingAndGlyphs">Q</text>
<text x="414.9" y="298.9" textLength="14.89" lengthAdjust="spacingAndGlyphs">A</text>
<text x="435.7" y="298.9" textLength="18.47" lengthAdjust="spacingAndGlyphs">m</text>
<text x="454.2" y="298.9" textLength="12.34" lengthAdjust="spacingAndGlyphs">e</text>
<text x="466.6" y="298.9" textLength="8.54" lengthAdjust="spacingAndGlyphs">t</text>
<text x="475.2" y="298.9" textLength="9.18" lengthAdjust="spacingAndGlyphs">r</text>
<text x="484.1" y="298.9" textLength="6.27" lengthAdjust="spacingAndGlyphs">i</text>
<text x="490.3" y="298.9" textLength="10.04" lengthAdjust="spacingAndGlyphs">c</text>
<text x="501.3" y="298.9" textLength="10.46" lengthAdjust="spacingAndGlyphs">s</text>
</g>
<rect x="231.80" y="629.20" width="290.70" height="123.70" rx="9" ry="9" fill="#131f3c" stroke="#1e3a5f" stroke-width="1.0" fill-opacity="0.95"/>
<g font-size="20.61" fill="#b0bec5" >
<text x="244.2" y="682.6" textLength="18.06" lengthAdjust="spacingAndGlyphs">W</text>
<text x="262.1" y="682.6" textLength="9.66" lengthAdjust="spacingAndGlyphs">a</text>
<text x="273.6" y="682.6" textLength="7.31" lengthAdjust="spacingAndGlyphs">t</text>
<text x="281.4" y="682.6" textLength="11.73" lengthAdjust="spacingAndGlyphs">e</text>
<text x="293.3" y="682.6" textLength="8.29" lengthAdjust="spacingAndGlyphs">r</text>
<text x="301.6" y="682.6" textLength="9.39" lengthAdjust="spacingAndGlyphs">s</text>
<text x="311.5" y="682.6" textLength="11.84" lengthAdjust="spacingAndGlyphs">h</text>
<text x="323.8" y="682.6" textLength="11.73" lengthAdjust="spacingAndGlyphs">e</text>
<text x="335.8" y="682.6" textLength="11.78" lengthAdjust="spacingAndGlyphs">d</text>
<text x="348.4" y="682.6" textLength="9.39" lengthAdjust="spacingAndGlyphs">s</text>
<text x="356.9" y="682.6" textLength="7.83" lengthAdjust="spacingAndGlyphs">,</text>
<text x="370.9" y="682.6" textLength="9.39" lengthAdjust="spacingAndGlyphs">s</text>
<text x="380.6" y="682.6" textLength="7.31" lengthAdjust="spacingAndGlyphs">t</text>
<text x="388.3" y="682.6" textLength="8.29" lengthAdjust="spacingAndGlyphs">r</text>
<text x="395.9" y="682.6" textLength="11.73" lengthAdjust="spacingAndGlyphs">e</text>
<text x="408.1" y="682.6" textLength="9.66" lengthAdjust="spacingAndGlyphs">a</text>
<text x="419.9" y="682.6" textLength="18.38" lengthAdjust="spacingAndGlyphs">m</text>
<text x="439.0" y="682.6" textLength="9.39" lengthAdjust="spacingAndGlyphs">s</text>
<text x="447.6" y="682.6" textLength="7.83" lengthAdjust="spacingAndGlyphs">,</text>
<text x="461.6" y="682.6" textLength="4.32" lengthAdjust="spacingAndGlyphs">l</text>
<text x="466.9" y="682.6" textLength="9.66" lengthAdjust="spacingAndGlyphs">a</text>
<text x="478.7" y="682.6" textLength="10.84" lengthAdjust="spacingAndGlyphs">k</text>
<text x="489.1" y="682.6" textLength="11.73" lengthAdjust="spacingAndGlyphs">e</text>
<text x="501.4" y="682.6" textLength="9.39" lengthAdjust="spacingAndGlyphs">s</text>
</g>
<g font-size="20.61" font-weight="bold" fill="#eceff1" >
<text x="233.6" y="710.4" textLength="15.59" lengthAdjust="spacingAndGlyphs">H</text>
<text x="249.6" y="710.4" textLength="12.42" lengthAdjust="spacingAndGlyphs">y</text>
<text x="262.2" y="710.4" textLength="13.76" lengthAdjust="spacingAndGlyphs">d</text>
<text x="276.1" y="710.4" textLength="9.89" lengthAdjust="spacingAndGlyphs">r</text>
<text x="285.6" y="710.4" textLength="13.56" lengthAdjust="spacingAndGlyphs">o</text>
<text x="299.9" y="710.4" textLength="12.43" lengthAdjust="spacingAndGlyphs">S</text>
<text x="312.9" y="710.4" textLength="13.29" lengthAdjust="spacingAndGlyphs">e</text>
<text x="326.3" y="710.4" textLength="13.76" lengthAdjust="spacingAndGlyphs">q</text>
<text x="347.2" y="710.4" textLength="8.33" lengthAdjust="spacingAndGlyphs">·</text>
<text x="362.0" y="710.4" textLength="11.85" lengthAdjust="spacingAndGlyphs">1</text>
<text x="374.4" y="710.4" textLength="8.33" lengthAdjust="spacingAndGlyphs">:</text>
<text x="383.2" y="710.4" textLength="11.94" lengthAdjust="spacingAndGlyphs">2</text>
<text x="396.5" y="710.4" textLength="12.23" lengthAdjust="spacingAndGlyphs">4</text>
<text x="408.4" y="710.4" textLength="8.68" lengthAdjust="spacingAndGlyphs">,</text>
<text x="416.8" y="710.4" textLength="13.77" lengthAdjust="spacingAndGlyphs">0</text>
<text x="430.3" y="710.4" textLength="13.77" lengthAdjust="spacingAndGlyphs">0</text>
<text x="443.8" y="710.4" textLength="13.77" lengthAdjust="spacingAndGlyphs">0</text>
<text x="464.5" y="710.4" textLength="11.27" lengthAdjust="spacingAndGlyphs">s</text>
<text x="475.8" y="710.4" textLength="10.81" lengthAdjust="spacingAndGlyphs">c</text>
<text x="487.5" y="710.4" textLength="11.22" lengthAdjust="spacingAndGlyphs">a</text>
<text x="500.4" y="710.4" textLength="6.75" lengthAdjust="spacingAndGlyphs">l</text>
<text x="506.9" y="710.4" textLength="13.29" lengthAdjust="spacingAndGlyphs">e</text>
</g>
<rect x="231.80" y="738.30" width="290.70" height="106.40" rx="9" ry="9" fill="#131f3c" stroke="#1e3a5f" stroke-width="1.0" fill-opacity="0.95"/>
<g font-size="20.61" fill="#b0bec5" >
<text x="244.3" y="785.7" textLength="14.40" lengthAdjust="spacingAndGlyphs">D</text>
<text x="259.4" y="785.7" textLength="9.66" lengthAdjust="spacingAndGlyphs">a</text>
<text x="271.5" y="785.7" textLength="4.32" lengthAdjust="spacingAndGlyphs">i</text>
<text x="276.9" y="785.7" textLength="4.32" lengthAdjust="spacingAndGlyphs">l</text>
<text x="282.2" y="785.7" textLength="10.41" lengthAdjust="spacingAndGlyphs">y</text>
<text x="299.8" y="785.7" textLength="11.78" lengthAdjust="spacingAndGlyphs">p</text>
<text x="311.9" y="785.7" textLength="8.29" lengthAdjust="spacingAndGlyphs">r</text>
<text x="319.5" y="785.7" textLength="11.73" lengthAdjust="spacingAndGlyphs">e</text>
<text x="331.5" y="785.7" textLength="9.72" lengthAdjust="spacingAndGlyphs">c</text>
<text x="342.5" y="785.7" textLength="4.32" lengthAdjust="spacingAndGlyphs">i</text>
<text x="347.7" y="785.7" textLength="11.78" lengthAdjust="spacingAndGlyphs">p</text>
<text x="366.4" y="785.7" textLength="14.34" lengthAdjust="spacingAndGlyphs">&amp;</text>
<text x="387.3" y="785.7" textLength="7.31" lengthAdjust="spacingAndGlyphs">t</text>
<text x="395.1" y="785.7" textLength="11.73" lengthAdjust="spacingAndGlyphs">e</text>
<text x="407.1" y="785.7" textLength="18.38" lengthAdjust="spacingAndGlyphs">m</text>
<text x="426.1" y="785.7" textLength="11.78" lengthAdjust="spacingAndGlyphs">p</text>
<text x="438.3" y="785.7" textLength="11.73" lengthAdjust="spacingAndGlyphs">e</text>
<text x="450.2" y="785.7" textLength="8.29" lengthAdjust="spacingAndGlyphs">r</text>
<text x="458.5" y="785.7" textLength="9.66" lengthAdjust="spacingAndGlyphs">a</text>
<text x="470.0" y="785.7" textLength="7.31" lengthAdjust="spacingAndGlyphs">t</text>
<text x="477.9" y="785.7" textLength="11.71" lengthAdjust="spacingAndGlyphs">u</text>
<text x="490.0" y="785.7" textLength="8.29" lengthAdjust="spacingAndGlyphs">r</text>
<text x="497.7" y="785.7" textLength="11.73" lengthAdjust="spacingAndGlyphs">e</text>
</g>
<g font-size="20.61" font-weight="bold" fill="#eceff1" >
<text x="234.2" y="809.2" textLength="12.23" lengthAdjust="spacingAndGlyphs">4</text>
<text x="254.0" y="809.2" textLength="13.27" lengthAdjust="spacingAndGlyphs">k</text>
<text x="267.1" y="809.2" textLength="19.89" lengthAdjust="spacingAndGlyphs">m</text>
<text x="293.9" y="809.2" textLength="13.76" lengthAdjust="spacingAndGlyphs">g</text>
<text x="307.9" y="809.2" textLength="9.89" lengthAdjust="spacingAndGlyphs">r</text>
<text x="317.4" y="809.2" textLength="6.75" lengthAdjust="spacingAndGlyphs">i</text>
<text x="324.1" y="809.2" textLength="13.76" lengthAdjust="spacingAndGlyphs">d</text>
<text x="338.0" y="809.2" textLength="13.76" lengthAdjust="spacingAndGlyphs">d</text>
<text x="351.8" y="809.2" textLength="13.29" lengthAdjust="spacingAndGlyphs">e</text>
<text x="365.1" y="809.2" textLength="13.76" lengthAdjust="spacingAndGlyphs">d</text>
<text x="386.5" y="809.2" textLength="6.71" lengthAdjust="spacingAndGlyphs">(</text>
<text x="395.5" y="809.2" textLength="11.94" lengthAdjust="spacingAndGlyphs">2</text>
<text x="408.1" y="809.2" textLength="13.77" lengthAdjust="spacingAndGlyphs">0</text>
<text x="421.6" y="809.2" textLength="13.77" lengthAdjust="spacingAndGlyphs">0</text>
<text x="435.2" y="809.2" textLength="13.77" lengthAdjust="spacingAndGlyphs">0</text>
<text x="449.4" y="809.2" textLength="8.52" lengthAdjust="spacingAndGlyphs">–</text>
<text x="459.3" y="809.2" textLength="11.94" lengthAdjust="spacingAndGlyphs">2</text>
<text x="472.0" y="809.2" textLength="13.77" lengthAdjust="spacingAndGlyphs">0</text>
<text x="486.4" y="809.2" textLength="11.94" lengthAdjust="spacingAndGlyphs">2</text>
<text x="499.0" y="809.2" textLength="13.77" lengthAdjust="spacingAndGlyphs">0</text>
<text x="514.2" y="809.2" textLength="6.59" lengthAdjust="spacingAndGlyphs">)</text>
</g>
<rect x="231.80" y="835.90" width="290.70" height="124.40" rx="9" ry="9" fill="#131f3c" stroke="#1e3a5f" stroke-width="1.0" fill-opacity="0.95"/>
<g font-size="20.61" fill="#b0bec5" >
<text x="281.1" y="882.7" textLength="11.62" lengthAdjust="spacingAndGlyphs">S</text>
<text x="293.2" y="882.7" textLength="11.50" lengthAdjust="spacingAndGlyphs">o</text>
<text x="305.4" y="882.7" textLength="4.32" lengthAdjust="spacingAndGlyphs">l</text>
<text x="310.7" y="882.7" textLength="9.66" lengthAdjust="spacingAndGlyphs">a</text>
<text x="322.3" y="882.7" textLength="8.29" lengthAdjust="spacingAndGlyphs">r</text>
<text x="336.5" y="882.7" textLength="8.29" lengthAdjust="spacingAndGlyphs">r</text>
<text x="344.8" y="882.7" textLength="9.66" lengthAdjust="spacingAndGlyphs">a</text>
<text x="356.5" y="882.7" textLength="11.78" lengthAdjust="spacingAndGlyphs">d</text>
<text x="369.2" y="882.7" textLength="4.32" lengthAdjust="spacingAndGlyphs">i</text>
<text x="374.4" y="882.7" textLength="9.66" lengthAdjust="spacingAndGlyphs">a</text>
<text x="386.0" y="882.7" textLength="7.31" lengthAdjust="spacingAndGlyphs">t</text>
<text x="394.1" y="882.7" textLength="4.32" lengthAdjust="spacingAndGlyphs">i</text>
<text x="399.2" y="882.7" textLength="11.50" lengthAdjust="spacingAndGlyphs">o</text>
<text x="411.2" y="882.7" textLength="11.71" lengthAdjust="spacingAndGlyphs">n</text>
<text x="430.0" y="882.7" textLength="5.50" lengthAdjust="spacingAndGlyphs">(</text>
<text x="437.0" y="882.7" textLength="5.97" lengthAdjust="spacingAndGlyphs">.</text>
<text x="443.6" y="882.7" textLength="9.39" lengthAdjust="spacingAndGlyphs">s</text>
<text x="453.8" y="882.7" textLength="4.32" lengthAdjust="spacingAndGlyphs">l</text>
<text x="458.8" y="882.7" textLength="8.29" lengthAdjust="spacingAndGlyphs">r</text>
<text x="468.1" y="882.7" textLength="5.50" lengthAdjust="spacingAndGlyphs">)</text>
</g>
<g font-size="20.61" fill="#b0bec5" >
<text x="230.9" y="903.7" textLength="18.06" lengthAdjust="spacingAndGlyphs">W</text>
<text x="249.7" y="903.7" textLength="4.32" lengthAdjust="spacingAndGlyphs">i</text>
<text x="254.9" y="903.7" textLength="11.71" lengthAdjust="spacingAndGlyphs">n</text>
<text x="267.0" y="903.7" textLength="11.78" lengthAdjust="spacingAndGlyphs">d</text>
<text x="286.0" y="903.7" textLength="5.50" lengthAdjust="spacingAndGlyphs">(</text>
<text x="293.0" y="903.7" textLength="5.97" lengthAdjust="spacingAndGlyphs">.</text>
<text x="299.9" y="903.7" textLength="14.24" lengthAdjust="spacingAndGlyphs">w</text>
<text x="315.4" y="903.7" textLength="11.71" lengthAdjust="spacingAndGlyphs">n</text>
<text x="327.5" y="903.7" textLength="11.78" lengthAdjust="spacingAndGlyphs">d</text>
<text x="341.1" y="903.7" textLength="5.50" lengthAdjust="spacingAndGlyphs">)</text>
<text x="352.9" y="903.7" textLength="7.16" lengthAdjust="spacingAndGlyphs">·</text>
<text x="366.2" y="903.7" textLength="13.92" lengthAdjust="spacingAndGlyphs">H</text>
<text x="380.7" y="903.7" textLength="11.71" lengthAdjust="spacingAndGlyphs">u</text>
<text x="393.1" y="903.7" textLength="18.38" lengthAdjust="spacingAndGlyphs">m</text>
<text x="412.3" y="903.7" textLength="4.32" lengthAdjust="spacingAndGlyphs">i</text>
<text x="417.3" y="903.7" textLength="11.78" lengthAdjust="spacingAndGlyphs">d</text>
<text x="430.0" y="903.7" textLength="4.32" lengthAdjust="spacingAndGlyphs">i</text>
<text x="434.9" y="903.7" textLength="7.31" lengthAdjust="spacingAndGlyphs">t</text>
<text x="442.9" y="903.7" textLength="10.41" lengthAdjust="spacingAndGlyphs">y</text>
<text x="460.8" y="903.7" textLength="5.50" lengthAdjust="spacingAndGlyphs">(</text>
<text x="467.8" y="903.7" textLength="5.97" lengthAdjust="spacingAndGlyphs">.</text>
<text x="474.2" y="903.7" textLength="11.84" lengthAdjust="spacingAndGlyphs">h</text>
<text x="486.5" y="903.7" textLength="18.38" lengthAdjust="spacingAndGlyphs">m</text>
<text x="505.4" y="903.7" textLength="11.78" lengthAdjust="spacingAndGlyphs">d</text>
<text x="519.0" y="903.7" textLength="5.50" lengthAdjust="spacingAndGlyphs">)</text>
</g>
<g font-size="20.61" font-weight="bold" fill="#eceff1" >
<text x="270.3" y="924.5" textLength="13.61" lengthAdjust="spacingAndGlyphs">h</text>
<text x="284.9" y="924.5" textLength="11.90" lengthAdjust="spacingAndGlyphs">5</text>
<text x="297.8" y="924.5" textLength="13.76" lengthAdjust="spacingAndGlyphs">p</text>
<text x="311.6" y="924.5" textLength="12.42" lengthAdjust="spacingAndGlyphs">y</text>
<text x="324.1" y="924.5" textLength="13.76" lengthAdjust="spacingAndGlyphs">d</text>
<text x="344.8" y="924.5" textLength="10.81" lengthAdjust="spacingAndGlyphs">c</text>
<text x="356.3" y="924.5" textLength="6.75" lengthAdjust="spacingAndGlyphs">l</text>
<text x="362.9" y="924.5" textLength="13.56" lengthAdjust="spacingAndGlyphs">o</text>
<text x="376.6" y="924.5" textLength="13.47" lengthAdjust="spacingAndGlyphs">u</text>
<text x="390.2" y="924.5" textLength="13.76" lengthAdjust="spacingAndGlyphs">d</text>
<text x="411.1" y="924.5" textLength="11.22" lengthAdjust="spacingAndGlyphs">a</text>
<text x="424.0" y="924.5" textLength="10.81" lengthAdjust="spacingAndGlyphs">c</text>
<text x="435.6" y="924.5" textLength="10.81" lengthAdjust="spacingAndGlyphs">c</text>
<text x="446.9" y="924.5" textLength="13.29" lengthAdjust="spacingAndGlyphs">e</text>
<text x="460.6" y="924.5" textLength="11.27" lengthAdjust="spacingAndGlyphs">s</text>
<text x="472.1" y="924.5" textLength="11.27" lengthAdjust="spacingAndGlyphs">s</text>
</g>
<rect x="231.80" y="1026.60" width="290.70" height="86.30" rx="9" ry="9" fill="#131f3c" stroke="#1e3a5f" stroke-width="1.0" fill-opacity="0.95"/>
<g font-size="20.61" fill="#b0bec5" >
<text x="299.8" y="1066.6" textLength="11.19" lengthAdjust="spacingAndGlyphs">E</text>
<text x="312.0" y="1066.6" textLength="4.32" lengthAdjust="spacingAndGlyphs">l</text>
<text x="317.1" y="1066.6" textLength="11.73" lengthAdjust="spacingAndGlyphs">e</text>
<text x="329.3" y="1066.6" textLength="10.52" lengthAdjust="spacingAndGlyphs">v</text>
<text x="340.8" y="1066.6" textLength="9.66" lengthAdjust="spacingAndGlyphs">a</text>
<text x="352.3" y="1066.6" textLength="7.31" lengthAdjust="spacingAndGlyphs">t</text>
<text x="360.5" y="1066.6" textLength="4.32" lengthAdjust="spacingAndGlyphs">i</text>
<text x="365.5" y="1066.6" textLength="11.50" lengthAdjust="spacingAndGlyphs">o</text>
<text x="377.6" y="1066.6" textLength="11.71" lengthAdjust="spacingAndGlyphs">n</text>
<text x="395.8" y="1066.6" textLength="8.29" lengthAdjust="spacingAndGlyphs">r</text>
<text x="404.1" y="1066.6" textLength="9.66" lengthAdjust="spacingAndGlyphs">a</text>
<text x="416.1" y="1066.6" textLength="9.39" lengthAdjust="spacingAndGlyphs">s</text>
<text x="425.8" y="1066.6" textLength="7.31" lengthAdjust="spacingAndGlyphs">t</text>
<text x="433.6" y="1066.6" textLength="11.73" lengthAdjust="spacingAndGlyphs">e</text>
<text x="445.4" y="1066.6" textLength="8.29" lengthAdjust="spacingAndGlyphs">r</text>
</g>
<g font-size="20.61" font-weight="bold" fill="#eceff1" >
<text x="291.4" y="1084.8" textLength="12.02" lengthAdjust="spacingAndGlyphs">3</text>
<text x="304.1" y="1084.8" textLength="13.77" lengthAdjust="spacingAndGlyphs">0</text>
<text x="324.7" y="1084.8" textLength="19.89" lengthAdjust="spacingAndGlyphs">m</text>
<text x="351.7" y="1084.8" textLength="13.76" lengthAdjust="spacingAndGlyphs">p</text>
<text x="365.3" y="1084.8" textLength="13.29" lengthAdjust="spacingAndGlyphs">e</text>
<text x="378.6" y="1084.8" textLength="9.89" lengthAdjust="spacingAndGlyphs">r</text>
<text x="395.0" y="1084.8" textLength="15.15" lengthAdjust="spacingAndGlyphs">V</text>
<text x="410.5" y="1084.8" textLength="13.65" lengthAdjust="spacingAndGlyphs">P</text>
<text x="424.8" y="1084.8" textLength="14.74" lengthAdjust="spacingAndGlyphs">U</text>
<text x="440.2" y="1084.8" textLength="7.08" lengthAdjust="spacingAndGlyphs">I</text>
<text x="447.6" y="1084.8" textLength="15.76" lengthAdjust="spacingAndGlyphs">D</text>
</g>
<rect x="231.80" y="1125.00" width="290.70" height="96.30" rx="9" ry="9" fill="#131f3c" stroke="#1e3a5f" stroke-width="1.0" fill-opacity="0.95"/>
<g font-size="20.61" fill="#b0bec5" >
<text x="259.1" y="1168.7" textLength="11.62" lengthAdjust="spacingAndGlyphs">S</text>
<text x="271.2" y="1168.7" textLength="11.50" lengthAdjust="spacingAndGlyphs">o</text>
<text x="283.5" y="1168.7" textLength="4.32" lengthAdjust="spacingAndGlyphs">i</text>
<text x="288.9" y="1168.7" textLength="4.32" lengthAdjust="spacingAndGlyphs">l</text>
<text x="300.2" y="1168.7" textLength="11.78" lengthAdjust="spacingAndGlyphs">p</text>
<text x="312.3" y="1168.7" textLength="8.29" lengthAdjust="spacingAndGlyphs">r</text>
<text x="320.0" y="1168.7" textLength="11.50" lengthAdjust="spacingAndGlyphs">o</text>
<text x="332.0" y="1168.7" textLength="11.78" lengthAdjust="spacingAndGlyphs">p</text>
<text x="344.2" y="1168.7" textLength="11.73" lengthAdjust="spacingAndGlyphs">e</text>
<text x="356.1" y="1168.7" textLength="8.29" lengthAdjust="spacingAndGlyphs">r</text>
<text x="364.0" y="1168.7" textLength="7.31" lengthAdjust="spacingAndGlyphs">t</text>
<text x="372.2" y="1168.7" textLength="4.32" lengthAdjust="spacingAndGlyphs">i</text>
<text x="377.2" y="1168.7" textLength="11.73" lengthAdjust="spacingAndGlyphs">e</text>
<text x="389.5" y="1168.7" textLength="9.39" lengthAdjust="spacingAndGlyphs">s</text>
<text x="405.8" y="1168.7" textLength="14.34" lengthAdjust="spacingAndGlyphs">&amp;</text>
<text x="427.0" y="1168.7" textLength="16.08" lengthAdjust="spacingAndGlyphs">M</text>
<text x="443.6" y="1168.7" textLength="13.80" lengthAdjust="spacingAndGlyphs">U</text>
<text x="458.0" y="1168.7" textLength="12.97" lengthAdjust="spacingAndGlyphs">K</text>
<text x="471.0" y="1168.7" textLength="11.19" lengthAdjust="spacingAndGlyphs">E</text>
<text x="482.2" y="1168.7" textLength="12.76" lengthAdjust="spacingAndGlyphs">Y</text>
</g>
<g font-size="20.61" font-weight="bold" fill="#eceff1" >
<text x="242.7" y="1188.4" textLength="12.43" lengthAdjust="spacingAndGlyphs">S</text>
<text x="256.5" y="1188.4" textLength="20.20" lengthAdjust="spacingAndGlyphs">W</text>
<text x="276.1" y="1188.4" textLength="16.03" lengthAdjust="spacingAndGlyphs">A</text>
<text x="289.9" y="1188.4" textLength="13.49" lengthAdjust="spacingAndGlyphs">T</text>
<text x="304.4" y="1188.4" textLength="14.05" lengthAdjust="spacingAndGlyphs">+</text>
<text x="326.4" y="1188.4" textLength="13.76" lengthAdjust="spacingAndGlyphs">g</text>
<text x="341.1" y="1188.4" textLength="12.43" lengthAdjust="spacingAndGlyphs">S</text>
<text x="354.2" y="1188.4" textLength="12.43" lengthAdjust="spacingAndGlyphs">S</text>
<text x="368.0" y="1188.4" textLength="14.74" lengthAdjust="spacingAndGlyphs">U</text>
<text x="383.7" y="1188.4" textLength="14.60" lengthAdjust="spacingAndGlyphs">R</text>
<text x="398.4" y="1188.4" textLength="15.68" lengthAdjust="spacingAndGlyphs">G</text>
<text x="414.3" y="1188.4" textLength="16.32" lengthAdjust="spacingAndGlyphs">O</text>
<text x="437.5" y="1188.4" textLength="8.60" lengthAdjust="spacingAndGlyphs">f</text>
<text x="445.8" y="1188.4" textLength="13.56" lengthAdjust="spacingAndGlyphs">o</text>
<text x="459.3" y="1188.4" textLength="9.89" lengthAdjust="spacingAndGlyphs">r</text>
<text x="469.1" y="1188.4" textLength="19.89" lengthAdjust="spacingAndGlyphs">m</text>
<text x="489.3" y="1188.4" textLength="11.22" lengthAdjust="spacingAndGlyphs">a</text>
<text x="502.3" y="1188.4" textLength="9.19" lengthAdjust="spacingAndGlyphs">t</text>
</g>
<rect x="231.80" y="1223.40" width="290.70" height="96.50" rx="9" ry="9" fill="#131f3c" stroke="#1e3a5f" stroke-width="1.0" fill-opacity="0.95"/>
<g font-size="20.61" fill="#b0bec5" >
<text x="272.0" y="1266.6" textLength="10.94" lengthAdjust="spacingAndGlyphs">L</text>
<text x="283.0" y="1266.6" textLength="9.66" lengthAdjust="spacingAndGlyphs">a</text>
<text x="294.8" y="1266.6" textLength="11.71" lengthAdjust="spacingAndGlyphs">n</text>
<text x="307.0" y="1266.6" textLength="11.78" lengthAdjust="spacingAndGlyphs">d</text>
<text x="325.5" y="1266.6" textLength="11.71" lengthAdjust="spacingAndGlyphs">u</text>
<text x="338.1" y="1266.6" textLength="9.39" lengthAdjust="spacingAndGlyphs">s</text>
<text x="347.9" y="1266.6" textLength="11.73" lengthAdjust="spacingAndGlyphs">e</text>
<text x="365.9" y="1266.6" textLength="6.46" lengthAdjust="spacingAndGlyphs">/</text>
<text x="379.2" y="1266.6" textLength="4.32" lengthAdjust="spacingAndGlyphs">l</text>
<text x="384.5" y="1266.6" textLength="9.66" lengthAdjust="spacingAndGlyphs">a</text>
<text x="396.3" y="1266.6" textLength="11.71" lengthAdjust="spacingAndGlyphs">n</text>
<text x="408.5" y="1266.6" textLength="11.78" lengthAdjust="spacingAndGlyphs">d</text>
<text x="427.0" y="1266.6" textLength="9.72" lengthAdjust="spacingAndGlyphs">c</text>
<text x="437.7" y="1266.6" textLength="11.50" lengthAdjust="spacingAndGlyphs">o</text>
<text x="449.8" y="1266.6" textLength="10.52" lengthAdjust="spacingAndGlyphs">v</text>
<text x="461.1" y="1266.6" textLength="11.73" lengthAdjust="spacingAndGlyphs">e</text>
<text x="472.9" y="1266.6" textLength="8.29" lengthAdjust="spacingAndGlyphs">r</text>
</g>
<g font-size="20.61" font-weight="bold" fill="#eceff1" >
<text x="265.4" y="1287.7" textLength="15.68" lengthAdjust="spacingAndGlyphs">G</text>
<text x="281.1" y="1287.7" textLength="13.56" lengthAdjust="spacingAndGlyphs">o</text>
<text x="294.5" y="1287.7" textLength="13.56" lengthAdjust="spacingAndGlyphs">o</text>
<text x="307.9" y="1287.7" textLength="13.76" lengthAdjust="spacingAndGlyphs">g</text>
<text x="321.8" y="1287.7" textLength="6.75" lengthAdjust="spacingAndGlyphs">l</text>
<text x="328.3" y="1287.7" textLength="13.29" lengthAdjust="spacingAndGlyphs">e</text>
<text x="349.1" y="1287.7" textLength="11.94" lengthAdjust="spacingAndGlyphs">E</text>
<text x="361.9" y="1287.7" textLength="11.22" lengthAdjust="spacingAndGlyphs">a</text>
<text x="374.9" y="1287.7" textLength="9.89" lengthAdjust="spacingAndGlyphs">r</text>
<text x="384.5" y="1287.7" textLength="9.19" lengthAdjust="spacingAndGlyphs">t</text>
<text x="393.9" y="1287.7" textLength="13.61" lengthAdjust="spacingAndGlyphs">h</text>
<text x="415.0" y="1287.7" textLength="11.94" lengthAdjust="spacingAndGlyphs">E</text>
<text x="427.9" y="1287.7" textLength="13.47" lengthAdjust="spacingAndGlyphs">n</text>
<text x="441.5" y="1287.7" textLength="13.76" lengthAdjust="spacingAndGlyphs">g</text>
<text x="455.4" y="1287.7" textLength="6.75" lengthAdjust="spacingAndGlyphs">i</text>
<text x="462.3" y="1287.7" textLength="13.47" lengthAdjust="spacingAndGlyphs">n</text>
<text x="475.7" y="1287.7" textLength="13.29" lengthAdjust="spacingAndGlyphs">e</text>
</g>
<rect x="231.80" y="1358.70" width="290.70" height="97.70" rx="9" ry="9" fill="#131f3c" stroke="#1e3a5f" stroke-width="1.0" fill-opacity="0.95"/>
<g font-size="20.61" fill="#b0bec5" >
<text x="263.5" y="1403.2" textLength="11.62" lengthAdjust="spacingAndGlyphs">S</text>
<text x="275.6" y="1403.2" textLength="11.50" lengthAdjust="spacingAndGlyphs">o</text>
<text x="287.8" y="1403.2" textLength="4.32" lengthAdjust="spacingAndGlyphs">i</text>
<text x="293.2" y="1403.2" textLength="4.32" lengthAdjust="spacingAndGlyphs">l</text>
<text x="298.6" y="1403.2" textLength="9.39" lengthAdjust="spacingAndGlyphs">s</text>
<text x="314.9" y="1403.2" textLength="14.34" lengthAdjust="spacingAndGlyphs">&amp;</text>
<text x="336.3" y="1403.2" textLength="18.06" lengthAdjust="spacingAndGlyphs">W</text>
<text x="355.1" y="1403.2" textLength="14.78" lengthAdjust="spacingAndGlyphs">G</text>
<text x="370.4" y="1403.2" textLength="13.79" lengthAdjust="spacingAndGlyphs">N</text>
<text x="391.0" y="1403.2" textLength="11.78" lengthAdjust="spacingAndGlyphs">d</text>
<text x="403.5" y="1403.2" textLength="9.66" lengthAdjust="spacingAndGlyphs">a</text>
<text x="415.1" y="1403.2" textLength="7.31" lengthAdjust="spacingAndGlyphs">t</text>
<text x="423.1" y="1403.2" textLength="9.66" lengthAdjust="spacingAndGlyphs">a</text>
<text x="434.9" y="1403.2" textLength="11.78" lengthAdjust="spacingAndGlyphs">b</text>
<text x="447.3" y="1403.2" textLength="9.66" lengthAdjust="spacingAndGlyphs">a</text>
<text x="459.3" y="1403.2" textLength="9.39" lengthAdjust="spacingAndGlyphs">s</text>
<text x="469.1" y="1403.2" textLength="11.73" lengthAdjust="spacingAndGlyphs">e</text>
<text x="481.4" y="1403.2" textLength="9.39" lengthAdjust="spacingAndGlyphs">s</text>
</g>
<g font-size="20.61" font-weight="bold" fill="#eceff1" >
<text x="253.6" y="1424.0" textLength="11.99" lengthAdjust="spacingAndGlyphs">L</text>
<text x="265.7" y="1424.0" textLength="11.22" lengthAdjust="spacingAndGlyphs">a</text>
<text x="278.9" y="1424.0" textLength="13.47" lengthAdjust="spacingAndGlyphs">n</text>
<text x="292.5" y="1424.0" textLength="13.76" lengthAdjust="spacingAndGlyphs">d</text>
<text x="306.6" y="1424.0" textLength="13.47" lengthAdjust="spacingAndGlyphs">u</text>
<text x="320.5" y="1424.0" textLength="11.27" lengthAdjust="spacingAndGlyphs">s</text>
<text x="331.6" y="1424.0" textLength="13.29" lengthAdjust="spacingAndGlyphs">e</text>
<text x="351.7" y="1424.0" textLength="6.75" lengthAdjust="spacingAndGlyphs">l</text>
<text x="358.3" y="1424.0" textLength="13.56" lengthAdjust="spacingAndGlyphs">o</text>
<text x="371.7" y="1424.0" textLength="13.56" lengthAdjust="spacingAndGlyphs">o</text>
<text x="385.2" y="1424.0" textLength="13.27" lengthAdjust="spacingAndGlyphs">k</text>
<text x="398.3" y="1424.0" textLength="13.47" lengthAdjust="spacingAndGlyphs">u</text>
<text x="412.1" y="1424.0" textLength="13.76" lengthAdjust="spacingAndGlyphs">p</text>
<text x="432.6" y="1424.0" textLength="9.19" lengthAdjust="spacingAndGlyphs">t</text>
<text x="442.1" y="1424.0" textLength="11.22" lengthAdjust="spacingAndGlyphs">a</text>
<text x="455.2" y="1424.0" textLength="13.76" lengthAdjust="spacingAndGlyphs">b</text>
<text x="468.9" y="1424.0" textLength="6.75" lengthAdjust="spacingAndGlyphs">l</text>
<text x="475.5" y="1424.0" textLength="13.29" lengthAdjust="spacingAndGlyphs">e</text>
<text x="489.1" y="1424.0" textLength="11.27" lengthAdjust="spacingAndGlyphs">s</text>
</g>
<rect x="626.25" y="219.75" width="290.50" height="109.10" rx="12" ry="12" fill="#1a2a4a" stroke="#e8eef2" stroke-width="2.1" />
<g font-size="27.97" font-weight="bold" fill="#ffffff" >
<text x="651.7" y="273.6" textLength="27.41" lengthAdjust="spacingAndGlyphs">W</text>
<text x="678.8" y="273.6" textLength="18.04" lengthAdjust="spacingAndGlyphs">e</text>
<text x="697.2" y="273.6" textLength="18.67" lengthAdjust="spacingAndGlyphs">b</text>
<text x="724.4" y="273.6" textLength="21.76" lengthAdjust="spacingAndGlyphs">A</text>
<text x="745.7" y="273.6" textLength="18.67" lengthAdjust="spacingAndGlyphs">p</text>
<text x="764.6" y="273.6" textLength="18.67" lengthAdjust="spacingAndGlyphs">p</text>
<text x="783.2" y="273.6" textLength="9.16" lengthAdjust="spacingAndGlyphs">l</text>
<text x="792.2" y="273.6" textLength="9.16" lengthAdjust="spacingAndGlyphs">i</text>
<text x="801.3" y="273.6" textLength="14.68" lengthAdjust="spacingAndGlyphs">c</text>
<text x="817.2" y="273.6" textLength="15.23" lengthAdjust="spacingAndGlyphs">a</text>
<text x="834.8" y="273.6" textLength="12.47" lengthAdjust="spacingAndGlyphs">t</text>
<text x="847.3" y="273.6" textLength="9.16" lengthAdjust="spacingAndGlyphs">i</text>
<text x="856.3" y="273.6" textLength="18.40" lengthAdjust="spacingAndGlyphs">o</text>
<text x="874.9" y="273.6" textLength="18.28" lengthAdjust="spacingAndGlyphs">n</text>
</g>
<g font-size="20.61" font-style="italic" fill="#b0bec5" >
<text x="703.8" y="299.6" textLength="12.23" lengthAdjust="spacingAndGlyphs">R</text>
<text x="717.5" y="299.6" textLength="11.71" lengthAdjust="spacingAndGlyphs">e</text>
<text x="729.7" y="299.6" textLength="10.92" lengthAdjust="spacingAndGlyphs">a</text>
<text x="741.5" y="299.6" textLength="10.36" lengthAdjust="spacingAndGlyphs">c</text>
<text x="752.0" y="299.6" textLength="7.20" lengthAdjust="spacingAndGlyphs">t</text>
<text x="766.1" y="299.6" textLength="14.63" lengthAdjust="spacingAndGlyphs">+</text>
<text x="788.2" y="299.6" textLength="10.56" lengthAdjust="spacingAndGlyphs">F</text>
<text x="799.7" y="299.6" textLength="4.51" lengthAdjust="spacingAndGlyphs">l</text>
<text x="805.2" y="299.6" textLength="10.92" lengthAdjust="spacingAndGlyphs">a</text>
<text x="816.8" y="299.6" textLength="10.03" lengthAdjust="spacingAndGlyphs">s</text>
<text x="827.2" y="299.6" textLength="10.65" lengthAdjust="spacingAndGlyphs">k</text>
</g>
<g font-size="14.72" fill="#b0bec5" >
<text x="658.7" y="312.7" textLength="9.85" lengthAdjust="spacingAndGlyphs">U</text>
<text x="669.1" y="312.7" textLength="6.70" lengthAdjust="spacingAndGlyphs">s</text>
<text x="676.1" y="312.7" textLength="8.38" lengthAdjust="spacingAndGlyphs">e</text>
<text x="684.6" y="312.7" textLength="5.92" lengthAdjust="spacingAndGlyphs">r</text>
<text x="695.0" y="312.7" textLength="6.70" lengthAdjust="spacingAndGlyphs">s</text>
<text x="702.1" y="312.7" textLength="8.36" lengthAdjust="spacingAndGlyphs">u</text>
<text x="710.9" y="312.7" textLength="8.41" lengthAdjust="spacingAndGlyphs">b</text>
<text x="719.7" y="312.7" textLength="13.13" lengthAdjust="spacingAndGlyphs">m</text>
<text x="733.4" y="312.7" textLength="3.09" lengthAdjust="spacingAndGlyphs">i</text>
<text x="736.9" y="312.7" textLength="5.22" lengthAdjust="spacingAndGlyphs">t</text>
<text x="742.7" y="312.7" textLength="6.70" lengthAdjust="spacingAndGlyphs">s</text>
<text x="754.1" y="312.7" textLength="9.85" lengthAdjust="spacingAndGlyphs">U</text>
<text x="764.5" y="312.7" textLength="8.30" lengthAdjust="spacingAndGlyphs">S</text>
<text x="773.0" y="312.7" textLength="10.56" lengthAdjust="spacingAndGlyphs">G</text>
<text x="784.0" y="312.7" textLength="8.30" lengthAdjust="spacingAndGlyphs">S</text>
<text x="797.3" y="312.7" textLength="6.70" lengthAdjust="spacingAndGlyphs">s</text>
<text x="804.6" y="312.7" textLength="3.09" lengthAdjust="spacingAndGlyphs">i</text>
<text x="808.1" y="312.7" textLength="5.22" lengthAdjust="spacingAndGlyphs">t</text>
<text x="813.6" y="312.7" textLength="8.38" lengthAdjust="spacingAndGlyphs">e</text>
<text x="826.6" y="312.7" textLength="8.21" lengthAdjust="spacingAndGlyphs">o</text>
<text x="835.0" y="312.7" textLength="5.92" lengthAdjust="spacingAndGlyphs">r</text>
<text x="845.3" y="312.7" textLength="9.94" lengthAdjust="spacingAndGlyphs">H</text>
<text x="855.7" y="312.7" textLength="9.85" lengthAdjust="spacingAndGlyphs">U</text>
<text x="865.8" y="312.7" textLength="9.32" lengthAdjust="spacingAndGlyphs">C</text>
<text x="875.6" y="312.7" textLength="8.30" lengthAdjust="spacingAndGlyphs">8</text>
</g>
<rect x="955.25" y="219.85" width="257.60" height="109.00" rx="12" ry="12" fill="#1a2a4a" stroke="#e8eef2" stroke-width="2.1" />
<g font-size="27.97" font-weight="bold" fill="#ffffff" >
<text x="999.1" y="274.1" textLength="18.31" lengthAdjust="spacingAndGlyphs">T</text>
<text x="1014.1" y="274.1" textLength="15.23" lengthAdjust="spacingAndGlyphs">a</text>
<text x="1032.1" y="274.1" textLength="15.29" lengthAdjust="spacingAndGlyphs">s</text>
<text x="1047.4" y="274.1" textLength="18.01" lengthAdjust="spacingAndGlyphs">k</text>
<text x="1074.3" y="274.1" textLength="22.15" lengthAdjust="spacingAndGlyphs">Q</text>
<text x="1096.9" y="274.1" textLength="18.28" lengthAdjust="spacingAndGlyphs">u</text>
<text x="1115.1" y="274.1" textLength="18.04" lengthAdjust="spacingAndGlyphs">e</text>
<text x="1133.6" y="274.1" textLength="18.28" lengthAdjust="spacingAndGlyphs">u</text>
<text x="1151.8" y="274.1" textLength="18.04" lengthAdjust="spacingAndGlyphs">e</text>
</g>
<g font-size="20.61" font-style="italic" fill="#b0bec5" >
<text x="1011.4" y="300.0" textLength="13.73" lengthAdjust="spacingAndGlyphs">C</text>
<text x="1025.4" y="300.0" textLength="11.71" lengthAdjust="spacingAndGlyphs">e</text>
<text x="1037.6" y="300.0" textLength="4.51" lengthAdjust="spacingAndGlyphs">l</text>
<text x="1042.7" y="300.0" textLength="11.71" lengthAdjust="spacingAndGlyphs">e</text>
<text x="1054.9" y="300.0" textLength="7.96" lengthAdjust="spacingAndGlyphs">r</text>
<text x="1063.2" y="300.0" textLength="10.04" lengthAdjust="spacingAndGlyphs">y</text>
<text x="1080.7" y="300.0" textLength="14.63" lengthAdjust="spacingAndGlyphs">+</text>
<text x="1102.7" y="300.0" textLength="12.23" lengthAdjust="spacingAndGlyphs">R</text>
<text x="1116.4" y="300.0" textLength="11.71" lengthAdjust="spacingAndGlyphs">e</text>
<text x="1128.3" y="300.0" textLength="11.70" lengthAdjust="spacingAndGlyphs">d</text>
<text x="1140.9" y="300.0" textLength="4.51" lengthAdjust="spacingAndGlyphs">i</text>
<text x="1146.0" y="300.0" textLength="10.03" lengthAdjust="spacingAndGlyphs">s</text>
</g>
<rect x="623.60" y="353.20" width="580.60" height="185.20" rx="16" ry="16" fill="#1b6647" stroke="#2ecc71" stroke-width="4.2" />
<g font-size="44.17" font-weight="bold" fill="#ffffff" >
<text x="726.0" y="423.0" textLength="26.63" lengthAdjust="spacingAndGlyphs">S</text>
<text x="755.6" y="423.0" textLength="43.28" lengthAdjust="spacingAndGlyphs">W</text>
<text x="797.4" y="423.0" textLength="34.36" lengthAdjust="spacingAndGlyphs">A</text>
<text x="827.1" y="423.0" textLength="28.90" lengthAdjust="spacingAndGlyphs">T</text>
<text x="856.2" y="423.0" textLength="33.61" lengthAdjust="spacingAndGlyphs">G</text>
<text x="889.6" y="423.0" textLength="28.48" lengthAdjust="spacingAndGlyphs">e</text>
<text x="918.8" y="423.0" textLength="28.86" lengthAdjust="spacingAndGlyphs">n</text>
<text x="948.3" y="423.0" textLength="31.46" lengthAdjust="spacingAndGlyphs">X</text>
<text x="995.1" y="423.0" textLength="28.48" lengthAdjust="spacingAndGlyphs">C</text>
<text x="1024.9" y="423.0" textLength="29.05" lengthAdjust="spacingAndGlyphs">o</text>
<text x="1053.8" y="423.0" textLength="21.18" lengthAdjust="spacingAndGlyphs">r</text>
<text x="1074.0" y="423.0" textLength="28.48" lengthAdjust="spacingAndGlyphs">e</text>
</g>
<g font-size="26.50" fill="#a5d6a7" >
<text x="781.9" y="467.5" textLength="19.16" lengthAdjust="spacingAndGlyphs">O</text>
<text x="801.5" y="467.5" textLength="10.66" lengthAdjust="spacingAndGlyphs">r</text>
<text x="811.5" y="467.5" textLength="12.50" lengthAdjust="spacingAndGlyphs">c</text>
<text x="825.2" y="467.5" textLength="15.23" lengthAdjust="spacingAndGlyphs">h</text>
<text x="841.0" y="467.5" textLength="15.09" lengthAdjust="spacingAndGlyphs">e</text>
<text x="856.7" y="467.5" textLength="12.07" lengthAdjust="spacingAndGlyphs">s</text>
<text x="869.2" y="467.5" textLength="9.40" lengthAdjust="spacingAndGlyphs">t</text>
<text x="879.1" y="467.5" textLength="10.66" lengthAdjust="spacingAndGlyphs">r</text>
<text x="889.8" y="467.5" textLength="12.42" lengthAdjust="spacingAndGlyphs">a</text>
<text x="904.6" y="467.5" textLength="9.40" lengthAdjust="spacingAndGlyphs">t</text>
<text x="915.0" y="467.5" textLength="5.55" lengthAdjust="spacingAndGlyphs">i</text>
<text x="921.5" y="467.5" textLength="14.78" lengthAdjust="spacingAndGlyphs">o</text>
<text x="937.0" y="467.5" textLength="15.05" lengthAdjust="spacingAndGlyphs">n</text>
<text x="961.1" y="467.5" textLength="14.38" lengthAdjust="spacingAndGlyphs">E</text>
<text x="976.6" y="467.5" textLength="15.05" lengthAdjust="spacingAndGlyphs">n</text>
<text x="992.2" y="467.5" textLength="15.14" lengthAdjust="spacingAndGlyphs">g</text>
<text x="1008.6" y="467.5" textLength="5.55" lengthAdjust="spacingAndGlyphs">i</text>
<text x="1015.3" y="467.5" textLength="15.05" lengthAdjust="spacingAndGlyphs">n</text>
<text x="1030.9" y="467.5" textLength="15.09" lengthAdjust="spacingAndGlyphs">e</text>
</g>
<g font-size="20.61" font-style="italic" fill="#81c784" >
<text x="672.4" y="505.8" textLength="12.45" lengthAdjust="spacingAndGlyphs">S</text>
<text x="685.4" y="505.8" textLength="18.16" lengthAdjust="spacingAndGlyphs">W</text>
<text x="703.5" y="505.8" textLength="12.97" lengthAdjust="spacingAndGlyphs">A</text>
<text x="714.3" y="505.8" textLength="12.90" lengthAdjust="spacingAndGlyphs">T</text>
<text x="727.1" y="505.8" textLength="15.01" lengthAdjust="spacingAndGlyphs">G</text>
<text x="742.4" y="505.8" textLength="11.71" lengthAdjust="spacingAndGlyphs">e</text>
<text x="754.6" y="505.8" textLength="11.58" lengthAdjust="spacingAndGlyphs">n</text>
<text x="766.1" y="505.8" textLength="13.52" lengthAdjust="spacingAndGlyphs">X</text>
<text x="779.3" y="505.8" textLength="13.73" lengthAdjust="spacingAndGlyphs">C</text>
<text x="793.4" y="505.8" textLength="11.36" lengthAdjust="spacingAndGlyphs">o</text>
<text x="805.4" y="505.8" textLength="18.30" lengthAdjust="spacingAndGlyphs">m</text>
<text x="824.3" y="505.8" textLength="18.30" lengthAdjust="spacingAndGlyphs">m</text>
<text x="843.3" y="505.8" textLength="10.92" lengthAdjust="spacingAndGlyphs">a</text>
<text x="855.2" y="505.8" textLength="11.58" lengthAdjust="spacingAndGlyphs">n</text>
<text x="867.3" y="505.8" textLength="11.70" lengthAdjust="spacingAndGlyphs">d</text>
<path d="M886.80,499.69 L900.27,499.69 M896.77,495.81 L900.46,499.69 L896.77,503.58" fill="none" stroke="#81c784" stroke-width="1.60" stroke-linejoin="miter" stroke-miterlimit="2"/>
<text x="907.7" y="505.8" textLength="12.45" lengthAdjust="spacingAndGlyphs">S</text>
<text x="920.7" y="505.8" textLength="18.16" lengthAdjust="spacingAndGlyphs">W</text>
<text x="938.8" y="505.8" textLength="12.97" lengthAdjust="spacingAndGlyphs">A</text>
<text x="949.6" y="505.8" textLength="12.90" lengthAdjust="spacingAndGlyphs">T</text>
<text x="962.4" y="505.8" textLength="15.01" lengthAdjust="spacingAndGlyphs">G</text>
<text x="977.7" y="505.8" textLength="11.71" lengthAdjust="spacingAndGlyphs">e</text>
<text x="989.9" y="505.8" textLength="11.58" lengthAdjust="spacingAndGlyphs">n</text>
<text x="1001.4" y="505.8" textLength="13.52" lengthAdjust="spacingAndGlyphs">X</text>
<text x="1014.6" y="505.8" textLength="13.73" lengthAdjust="spacingAndGlyphs">C</text>
<text x="1028.7" y="505.8" textLength="11.36" lengthAdjust="spacingAndGlyphs">o</text>
<text x="1040.6" y="505.8" textLength="7.96" lengthAdjust="spacingAndGlyphs">r</text>
<text x="1048.5" y="505.8" textLength="11.71" lengthAdjust="spacingAndGlyphs">e</text>
<text x="1060.6" y="505.8" textLength="5.87" lengthAdjust="spacingAndGlyphs">.</text>
<text x="1066.9" y="505.8" textLength="11.70" lengthAdjust="spacingAndGlyphs">p</text>
<text x="1079.1" y="505.8" textLength="7.96" lengthAdjust="spacingAndGlyphs">r</text>
<text x="1087.1" y="505.8" textLength="11.36" lengthAdjust="spacingAndGlyphs">o</text>
<text x="1099.0" y="505.8" textLength="10.36" lengthAdjust="spacingAndGlyphs">c</text>
<text x="1109.5" y="505.8" textLength="11.71" lengthAdjust="spacingAndGlyphs">e</text>
<text x="1121.4" y="505.8" textLength="10.03" lengthAdjust="spacingAndGlyphs">s</text>
<text x="1131.6" y="505.8" textLength="10.03" lengthAdjust="spacingAndGlyphs">s</text>
<text x="1142.2" y="505.8" textLength="6.13" lengthAdjust="spacingAndGlyphs">(</text>
<text x="1149.8" y="505.8" textLength="6.13" lengthAdjust="spacingAndGlyphs">)</text>
</g>
<rect x="588.25" y="628.45" width="218.70" height="169.00" rx="12" ry="12" fill="#1b6647" stroke="#e8eef2" stroke-width="2.1" fill-opacity="0.96"/>
<g font-size="25.03" font-weight="bold" fill="#ffffff" >
<text x="607.0" y="705.2" textLength="16.14" lengthAdjust="spacingAndGlyphs">C</text>
<text x="623.9" y="705.2" textLength="16.46" lengthAdjust="spacingAndGlyphs">o</text>
<text x="640.5" y="705.2" textLength="16.36" lengthAdjust="spacingAndGlyphs">n</text>
<text x="657.1" y="705.2" textLength="10.44" lengthAdjust="spacingAndGlyphs">f</text>
<text x="667.3" y="705.2" textLength="8.20" lengthAdjust="spacingAndGlyphs">i</text>
<text x="675.4" y="705.2" textLength="16.71" lengthAdjust="spacingAndGlyphs">g</text>
<text x="692.6" y="705.2" textLength="16.36" lengthAdjust="spacingAndGlyphs">u</text>
<text x="709.1" y="705.2" textLength="12.00" lengthAdjust="spacingAndGlyphs">r</text>
<text x="721.0" y="705.2" textLength="13.62" lengthAdjust="spacingAndGlyphs">a</text>
<text x="736.7" y="705.2" textLength="11.16" lengthAdjust="spacingAndGlyphs">t</text>
<text x="747.9" y="705.2" textLength="8.20" lengthAdjust="spacingAndGlyphs">i</text>
<text x="756.0" y="705.2" textLength="16.46" lengthAdjust="spacingAndGlyphs">o</text>
<text x="772.6" y="705.2" textLength="16.36" lengthAdjust="spacingAndGlyphs">n</text>
</g>
<g font-size="17.67" font-style="italic" fill="#b0bec5" >
<text x="656.2" y="753.0" textLength="11.12" lengthAdjust="spacingAndGlyphs">V</text>
<text x="666.9" y="753.0" textLength="9.36" lengthAdjust="spacingAndGlyphs">a</text>
<text x="677.1" y="753.0" textLength="3.86" lengthAdjust="spacingAndGlyphs">l</text>
<text x="681.7" y="753.0" textLength="3.86" lengthAdjust="spacingAndGlyphs">i</text>
<text x="686.2" y="753.0" textLength="10.03" lengthAdjust="spacingAndGlyphs">d</text>
<text x="697.0" y="753.0" textLength="9.36" lengthAdjust="spacingAndGlyphs">a</text>
<text x="706.9" y="753.0" textLength="6.17" lengthAdjust="spacingAndGlyphs">t</text>
<text x="713.7" y="753.0" textLength="3.86" lengthAdjust="spacingAndGlyphs">i</text>
<text x="718.2" y="753.0" textLength="9.74" lengthAdjust="spacingAndGlyphs">o</text>
<text x="728.5" y="753.0" textLength="9.92" lengthAdjust="spacingAndGlyphs">n</text>
</g>
<rect x="828.95" y="628.45" width="219.10" height="169.00" rx="12" ry="12" fill="#1b6647" stroke="#e8eef2" stroke-width="2.1" fill-opacity="0.96"/>
<g font-size="25.03" font-weight="bold" fill="#ffffff" >
<text x="854.2" y="705.2" textLength="22.90" lengthAdjust="spacingAndGlyphs">M</text>
<text x="877.2" y="705.2" textLength="16.14" lengthAdjust="spacingAndGlyphs">e</text>
<text x="893.4" y="705.2" textLength="11.16" lengthAdjust="spacingAndGlyphs">t</text>
<text x="904.5" y="705.2" textLength="16.14" lengthAdjust="spacingAndGlyphs">e</text>
<text x="920.6" y="705.2" textLength="16.46" lengthAdjust="spacingAndGlyphs">o</text>
<text x="936.9" y="705.2" textLength="12.00" lengthAdjust="spacingAndGlyphs">r</text>
<text x="948.4" y="705.2" textLength="16.46" lengthAdjust="spacingAndGlyphs">o</text>
<text x="964.7" y="705.2" textLength="8.20" lengthAdjust="spacingAndGlyphs">l</text>
<text x="972.7" y="705.2" textLength="16.46" lengthAdjust="spacingAndGlyphs">o</text>
<text x="989.1" y="705.2" textLength="16.71" lengthAdjust="spacingAndGlyphs">g</text>
<text x="1006.1" y="705.2" textLength="15.08" lengthAdjust="spacingAndGlyphs">y</text>
</g>
<g font-size="17.67" font-style="italic" fill="#b0bec5" >
<text x="896.3" y="753.0" textLength="10.43" lengthAdjust="spacingAndGlyphs">E</text>
<text x="907.2" y="753.0" textLength="9.14" lengthAdjust="spacingAndGlyphs">x</text>
<text x="916.8" y="753.0" textLength="6.17" lengthAdjust="spacingAndGlyphs">t</text>
<text x="923.5" y="753.0" textLength="6.82" lengthAdjust="spacingAndGlyphs">r</text>
<text x="930.4" y="753.0" textLength="9.36" lengthAdjust="spacingAndGlyphs">a</text>
<text x="940.5" y="753.0" textLength="8.88" lengthAdjust="spacingAndGlyphs">c</text>
<text x="949.6" y="753.0" textLength="6.17" lengthAdjust="spacingAndGlyphs">t</text>
<text x="956.3" y="753.0" textLength="3.86" lengthAdjust="spacingAndGlyphs">i</text>
<text x="960.9" y="753.0" textLength="9.74" lengthAdjust="spacingAndGlyphs">o</text>
<text x="971.2" y="753.0" textLength="9.92" lengthAdjust="spacingAndGlyphs">n</text>
</g>
<rect x="1070.05" y="628.45" width="218.80" height="169.00" rx="12" ry="12" fill="#1b6647" stroke="#e8eef2" stroke-width="2.1" fill-opacity="0.96"/>
<g font-size="25.03" font-weight="bold" fill="#ffffff" >
<text x="1100.1" y="705.2" textLength="24.53" lengthAdjust="spacingAndGlyphs">W</text>
<text x="1124.4" y="705.2" textLength="16.14" lengthAdjust="spacingAndGlyphs">e</text>
<text x="1140.8" y="705.2" textLength="13.62" lengthAdjust="spacingAndGlyphs">a</text>
<text x="1156.6" y="705.2" textLength="11.16" lengthAdjust="spacingAndGlyphs">t</text>
<text x="1168.0" y="705.2" textLength="16.53" lengthAdjust="spacingAndGlyphs">h</text>
<text x="1184.4" y="705.2" textLength="16.14" lengthAdjust="spacingAndGlyphs">e</text>
<text x="1200.7" y="705.2" textLength="12.00" lengthAdjust="spacingAndGlyphs">r</text>
<text x="1220.7" y="705.2" textLength="19.82" lengthAdjust="spacingAndGlyphs">Q</text>
<text x="1240.0" y="705.2" textLength="19.47" lengthAdjust="spacingAndGlyphs">A</text>
</g>
<g font-size="17.67" font-style="italic" fill="#b0bec5" >
<text x="1138.0" y="753.0" textLength="11.12" lengthAdjust="spacingAndGlyphs">V</text>
<text x="1148.8" y="753.0" textLength="9.36" lengthAdjust="spacingAndGlyphs">a</text>
<text x="1159.0" y="753.0" textLength="3.86" lengthAdjust="spacingAndGlyphs">l</text>
<text x="1163.6" y="753.0" textLength="3.86" lengthAdjust="spacingAndGlyphs">i</text>
<text x="1168.0" y="753.0" textLength="10.03" lengthAdjust="spacingAndGlyphs">d</text>
<text x="1178.8" y="753.0" textLength="9.36" lengthAdjust="spacingAndGlyphs">a</text>
<text x="1188.8" y="753.0" textLength="6.17" lengthAdjust="spacingAndGlyphs">t</text>
<text x="1195.6" y="753.0" textLength="3.86" lengthAdjust="spacingAndGlyphs">i</text>
<text x="1200.1" y="753.0" textLength="9.74" lengthAdjust="spacingAndGlyphs">o</text>
<text x="1210.4" y="753.0" textLength="9.92" lengthAdjust="spacingAndGlyphs">n</text>
</g>
<rect x="1311.75" y="628.45" width="245.70" height="169.00" rx="12" ry="12" fill="#1b6647" stroke="#e8eef2" stroke-width="2.1" fill-opacity="0.96"/>
<g font-size="25.03" font-weight="bold" fill="#ffffff" >
<text x="1357.3" y="705.2" textLength="18.93" lengthAdjust="spacingAndGlyphs">N</text>
<text x="1377.0" y="705.2" textLength="18.93" lengthAdjust="spacingAndGlyphs">H</text>
<text x="1396.8" y="705.2" textLength="19.13" lengthAdjust="spacingAndGlyphs">D</text>
<text x="1424.2" y="705.2" textLength="18.39" lengthAdjust="spacingAndGlyphs">V</text>
<text x="1440.9" y="705.2" textLength="16.14" lengthAdjust="spacingAndGlyphs">e</text>
<text x="1457.2" y="705.2" textLength="13.13" lengthAdjust="spacingAndGlyphs">c</text>
<text x="1471.2" y="705.2" textLength="11.16" lengthAdjust="spacingAndGlyphs">t</text>
<text x="1482.3" y="705.2" textLength="16.46" lengthAdjust="spacingAndGlyphs">o</text>
<text x="1498.7" y="705.2" textLength="12.00" lengthAdjust="spacingAndGlyphs">r</text>
</g>
<g font-size="17.67" font-style="italic" fill="#b0bec5" >
<text x="1410.3" y="753.0" textLength="10.67" lengthAdjust="spacingAndGlyphs">S</text>
<text x="1421.4" y="753.0" textLength="10.03" lengthAdjust="spacingAndGlyphs">e</text>
<text x="1431.6" y="753.0" textLength="6.17" lengthAdjust="spacingAndGlyphs">t</text>
<text x="1438.2" y="753.0" textLength="10.02" lengthAdjust="spacingAndGlyphs">u</text>
<text x="1449.0" y="753.0" textLength="10.03" lengthAdjust="spacingAndGlyphs">p</text>
</g>
<g font-size="14.72" fill="#b0bec5" >
<text x="607.8" y="827.1" textLength="9.32" lengthAdjust="spacingAndGlyphs">C</text>
<text x="617.7" y="827.1" textLength="9.52" lengthAdjust="spacingAndGlyphs">R</text>
<text x="627.4" y="827.1" textLength="8.30" lengthAdjust="spacingAndGlyphs">S</text>
<text x="640.5" y="827.1" textLength="6.94" lengthAdjust="spacingAndGlyphs">c</text>
<text x="648.1" y="827.1" textLength="8.46" lengthAdjust="spacingAndGlyphs">h</text>
<text x="656.9" y="827.1" textLength="8.38" lengthAdjust="spacingAndGlyphs">e</text>
<text x="665.5" y="827.1" textLength="6.94" lengthAdjust="spacingAndGlyphs">c</text>
<text x="673.1" y="827.1" textLength="7.74" lengthAdjust="spacingAndGlyphs">k</text>
<text x="685.0" y="827.1" textLength="5.11" lengthAdjust="spacingAndGlyphs">·</text>
<text x="694.2" y="827.1" textLength="9.41" lengthAdjust="spacingAndGlyphs">V</text>
<text x="704.1" y="827.1" textLength="8.14" lengthAdjust="spacingAndGlyphs">P</text>
<text x="712.2" y="827.1" textLength="9.85" lengthAdjust="spacingAndGlyphs">U</text>
<text x="722.4" y="827.1" textLength="3.86" lengthAdjust="spacingAndGlyphs">I</text>
<text x="726.6" y="827.1" textLength="10.28" lengthAdjust="spacingAndGlyphs">D</text>
<text x="741.8" y="827.1" textLength="3.09" lengthAdjust="spacingAndGlyphs">l</text>
<text x="745.5" y="827.1" textLength="8.21" lengthAdjust="spacingAndGlyphs">o</text>
<text x="754.0" y="827.1" textLength="8.21" lengthAdjust="spacingAndGlyphs">o</text>
<text x="762.5" y="827.1" textLength="7.74" lengthAdjust="spacingAndGlyphs">k</text>
<text x="770.1" y="827.1" textLength="8.36" lengthAdjust="spacingAndGlyphs">u</text>
<text x="779.0" y="827.1" textLength="8.41" lengthAdjust="spacingAndGlyphs">p</text>
</g>
<g font-size="14.72" fill="#b0bec5" >
<text x="873.6" y="834.8" textLength="8.14" lengthAdjust="spacingAndGlyphs">P</text>
<text x="881.9" y="834.8" textLength="9.52" lengthAdjust="spacingAndGlyphs">R</text>
<text x="891.4" y="834.8" textLength="3.86" lengthAdjust="spacingAndGlyphs">I</text>
<text x="895.7" y="834.8" textLength="8.30" lengthAdjust="spacingAndGlyphs">S</text>
<text x="904.4" y="834.8" textLength="11.48" lengthAdjust="spacingAndGlyphs">M</text>
<path d="M921.34,830.44 L930.96,830.44 M928.46,827.66 L931.10,830.44 L928.46,833.22" fill="none" stroke="#b0bec5" stroke-width="1.15" stroke-linejoin="miter" stroke-miterlimit="2"/>
<text x="936.7" y="834.8" textLength="4.26" lengthAdjust="spacingAndGlyphs">.</text>
<text x="941.3" y="834.8" textLength="8.41" lengthAdjust="spacingAndGlyphs">p</text>
<text x="950.0" y="834.8" textLength="6.94" lengthAdjust="spacingAndGlyphs">c</text>
<text x="957.7" y="834.8" textLength="8.41" lengthAdjust="spacingAndGlyphs">p</text>
<text x="966.3" y="834.8" textLength="4.62" lengthAdjust="spacingAndGlyphs">/</text>
<text x="971.0" y="834.8" textLength="4.26" lengthAdjust="spacingAndGlyphs">.</text>
<text x="975.4" y="834.8" textLength="5.22" lengthAdjust="spacingAndGlyphs">t</text>
<text x="981.0" y="834.8" textLength="13.13" lengthAdjust="spacingAndGlyphs">m</text>
<text x="994.6" y="834.8" textLength="8.41" lengthAdjust="spacingAndGlyphs">p</text>
</g>
<g font-size="14.72" fill="#b0bec5" >
<text x="854.2" y="851.6" textLength="9.85" lengthAdjust="spacingAndGlyphs">N</text>
<text x="864.6" y="851.6" textLength="8.30" lengthAdjust="spacingAndGlyphs">S</text>
<text x="873.4" y="851.6" textLength="9.52" lengthAdjust="spacingAndGlyphs">R</text>
<text x="883.0" y="851.6" textLength="10.28" lengthAdjust="spacingAndGlyphs">D</text>
<text x="893.8" y="851.6" textLength="8.92" lengthAdjust="spacingAndGlyphs">B</text>
<path d="M908.18,847.24 L917.80,847.24 M915.30,844.46 L917.94,847.24 L915.30,850.02" fill="none" stroke="#b0bec5" stroke-width="1.15" stroke-linejoin="miter" stroke-miterlimit="2"/>
<text x="923.5" y="851.6" textLength="4.26" lengthAdjust="spacingAndGlyphs">.</text>
<text x="928.2" y="851.6" textLength="6.70" lengthAdjust="spacingAndGlyphs">s</text>
<text x="935.5" y="851.6" textLength="3.09" lengthAdjust="spacingAndGlyphs">l</text>
<text x="939.0" y="851.6" textLength="5.92" lengthAdjust="spacingAndGlyphs">r</text>
<text x="944.7" y="851.6" textLength="4.62" lengthAdjust="spacingAndGlyphs">/</text>
<text x="949.4" y="851.6" textLength="4.26" lengthAdjust="spacingAndGlyphs">.</text>
<text x="954.3" y="851.6" textLength="10.17" lengthAdjust="spacingAndGlyphs">w</text>
<text x="965.4" y="851.6" textLength="8.36" lengthAdjust="spacingAndGlyphs">n</text>
<text x="974.1" y="851.6" textLength="8.41" lengthAdjust="spacingAndGlyphs">d</text>
<text x="982.7" y="851.6" textLength="4.62" lengthAdjust="spacingAndGlyphs">/</text>
<text x="987.5" y="851.6" textLength="4.26" lengthAdjust="spacingAndGlyphs">.</text>
<text x="992.0" y="851.6" textLength="8.46" lengthAdjust="spacingAndGlyphs">h</text>
<text x="1000.8" y="851.6" textLength="13.13" lengthAdjust="spacingAndGlyphs">m</text>
<text x="1014.3" y="851.6" textLength="8.41" lengthAdjust="spacingAndGlyphs">d</text>
</g>
<g font-size="14.72" fill="#b0bec5" >
<text x="1114.9" y="834.8" textLength="10.28" lengthAdjust="spacingAndGlyphs">D</text>
<text x="1125.7" y="834.8" textLength="6.90" lengthAdjust="spacingAndGlyphs">a</text>
<text x="1134.2" y="834.8" textLength="3.09" lengthAdjust="spacingAndGlyphs">i</text>
<text x="1138.1" y="834.8" textLength="3.09" lengthAdjust="spacingAndGlyphs">l</text>
<text x="1141.9" y="834.8" textLength="7.44" lengthAdjust="spacingAndGlyphs">y</text>
<text x="1154.5" y="834.8" textLength="7.51" lengthAdjust="spacingAndGlyphs">v</text>
<text x="1162.7" y="834.8" textLength="6.90" lengthAdjust="spacingAndGlyphs">a</text>
<text x="1171.3" y="834.8" textLength="3.09" lengthAdjust="spacingAndGlyphs">l</text>
<text x="1175.0" y="834.8" textLength="8.36" lengthAdjust="spacingAndGlyphs">u</text>
<text x="1183.7" y="834.8" textLength="8.38" lengthAdjust="spacingAndGlyphs">e</text>
<text x="1196.7" y="834.8" textLength="6.94" lengthAdjust="spacingAndGlyphs">c</text>
<text x="1204.4" y="834.8" textLength="8.46" lengthAdjust="spacingAndGlyphs">h</text>
<text x="1213.1" y="834.8" textLength="8.38" lengthAdjust="spacingAndGlyphs">e</text>
<text x="1221.7" y="834.8" textLength="6.94" lengthAdjust="spacingAndGlyphs">c</text>
<text x="1229.4" y="834.8" textLength="7.74" lengthAdjust="spacingAndGlyphs">k</text>
<text x="1237.6" y="834.8" textLength="6.70" lengthAdjust="spacingAndGlyphs">s</text>
</g>
<g font-size="14.72" fill="#b0bec5" >
<text x="1090.7" y="851.6" textLength="7.81" lengthAdjust="spacingAndGlyphs">2</text>
<text x="1099.5" y="851.6" textLength="8.13" lengthAdjust="spacingAndGlyphs">0</text>
<text x="1108.3" y="851.6" textLength="8.13" lengthAdjust="spacingAndGlyphs">0</text>
<text x="1117.2" y="851.6" textLength="8.13" lengthAdjust="spacingAndGlyphs">0</text>
<text x="1126.4" y="851.6" textLength="5.57" lengthAdjust="spacingAndGlyphs">–</text>
<text x="1133.0" y="851.6" textLength="7.81" lengthAdjust="spacingAndGlyphs">2</text>
<text x="1141.8" y="851.6" textLength="8.13" lengthAdjust="spacingAndGlyphs">0</text>
<text x="1150.6" y="851.6" textLength="7.81" lengthAdjust="spacingAndGlyphs">2</text>
<text x="1159.4" y="851.6" textLength="8.13" lengthAdjust="spacingAndGlyphs">0</text>
<text x="1172.6" y="851.6" textLength="6.94" lengthAdjust="spacingAndGlyphs">c</text>
<text x="1180.2" y="851.6" textLength="8.21" lengthAdjust="spacingAndGlyphs">o</text>
<text x="1188.7" y="851.6" textLength="13.13" lengthAdjust="spacingAndGlyphs">m</text>
<text x="1202.3" y="851.6" textLength="8.41" lengthAdjust="spacingAndGlyphs">p</text>
<text x="1211.3" y="851.6" textLength="3.09" lengthAdjust="spacingAndGlyphs">l</text>
<text x="1214.9" y="851.6" textLength="8.38" lengthAdjust="spacingAndGlyphs">e</text>
<text x="1223.3" y="851.6" textLength="5.22" lengthAdjust="spacingAndGlyphs">t</text>
<text x="1228.9" y="851.6" textLength="8.38" lengthAdjust="spacingAndGlyphs">e</text>
<text x="1237.5" y="851.6" textLength="8.36" lengthAdjust="spacingAndGlyphs">n</text>
<text x="1246.2" y="851.6" textLength="8.38" lengthAdjust="spacingAndGlyphs">e</text>
<text x="1255.0" y="851.6" textLength="6.70" lengthAdjust="spacingAndGlyphs">s</text>
<text x="1262.2" y="851.6" textLength="6.70" lengthAdjust="spacingAndGlyphs">s</text>
</g>
<g font-size="14.72" fill="#b0bec5" >
<text x="1362.3" y="834.8" textLength="8.30" lengthAdjust="spacingAndGlyphs">S</text>
<text x="1370.9" y="834.8" textLength="8.36" lengthAdjust="spacingAndGlyphs">u</text>
<text x="1379.8" y="834.8" textLength="8.41" lengthAdjust="spacingAndGlyphs">b</text>
<text x="1388.6" y="834.8" textLength="8.41" lengthAdjust="spacingAndGlyphs">b</text>
<text x="1397.5" y="834.8" textLength="6.90" lengthAdjust="spacingAndGlyphs">a</text>
<text x="1406.0" y="834.8" textLength="6.70" lengthAdjust="spacingAndGlyphs">s</text>
<text x="1413.3" y="834.8" textLength="3.09" lengthAdjust="spacingAndGlyphs">i</text>
<text x="1417.1" y="834.8" textLength="8.36" lengthAdjust="spacingAndGlyphs">n</text>
<text x="1430.2" y="834.8" textLength="8.41" lengthAdjust="spacingAndGlyphs">d</text>
<text x="1439.0" y="834.8" textLength="8.38" lengthAdjust="spacingAndGlyphs">e</text>
<text x="1447.8" y="834.8" textLength="3.09" lengthAdjust="spacingAndGlyphs">l</text>
<text x="1451.6" y="834.8" textLength="3.09" lengthAdjust="spacingAndGlyphs">i</text>
<text x="1455.3" y="834.8" textLength="8.36" lengthAdjust="spacingAndGlyphs">n</text>
<text x="1464.0" y="834.8" textLength="8.38" lengthAdjust="spacingAndGlyphs">e</text>
<text x="1472.8" y="834.8" textLength="6.90" lengthAdjust="spacingAndGlyphs">a</text>
<text x="1481.0" y="834.8" textLength="5.22" lengthAdjust="spacingAndGlyphs">t</text>
<text x="1486.8" y="834.8" textLength="3.09" lengthAdjust="spacingAndGlyphs">i</text>
<text x="1490.4" y="834.8" textLength="8.21" lengthAdjust="spacingAndGlyphs">o</text>
<text x="1499.0" y="834.8" textLength="8.36" lengthAdjust="spacingAndGlyphs">n</text>
</g>
<g font-size="14.72" fill="#b0bec5" >
<text x="1352.9" y="851.6" textLength="8.30" lengthAdjust="spacingAndGlyphs">S</text>
<text x="1361.4" y="851.6" textLength="5.22" lengthAdjust="spacingAndGlyphs">t</text>
<text x="1366.9" y="851.6" textLength="5.92" lengthAdjust="spacingAndGlyphs">r</text>
<text x="1372.3" y="851.6" textLength="8.38" lengthAdjust="spacingAndGlyphs">e</text>
<text x="1381.1" y="851.6" textLength="6.90" lengthAdjust="spacingAndGlyphs">a</text>
<text x="1389.5" y="851.6" textLength="13.13" lengthAdjust="spacingAndGlyphs">m</text>
<text x="1407.5" y="851.6" textLength="8.36" lengthAdjust="spacingAndGlyphs">n</text>
<text x="1416.2" y="851.6" textLength="8.38" lengthAdjust="spacingAndGlyphs">e</text>
<text x="1424.6" y="851.6" textLength="5.22" lengthAdjust="spacingAndGlyphs">t</text>
<text x="1430.5" y="851.6" textLength="10.17" lengthAdjust="spacingAndGlyphs">w</text>
<text x="1441.5" y="851.6" textLength="8.21" lengthAdjust="spacingAndGlyphs">o</text>
<text x="1449.9" y="851.6" textLength="5.92" lengthAdjust="spacingAndGlyphs">r</text>
<text x="1455.8" y="851.6" textLength="7.74" lengthAdjust="spacingAndGlyphs">k</text>
<text x="1467.6" y="851.6" textLength="5.11" lengthAdjust="spacingAndGlyphs">·</text>
<text x="1477.1" y="851.6" textLength="7.81" lengthAdjust="spacingAndGlyphs">L</text>
<text x="1484.9" y="851.6" textLength="6.90" lengthAdjust="spacingAndGlyphs">a</text>
<text x="1493.3" y="851.6" textLength="7.74" lengthAdjust="spacingAndGlyphs">k</text>
<text x="1500.8" y="851.6" textLength="8.38" lengthAdjust="spacingAndGlyphs">e</text>
<text x="1509.5" y="851.6" textLength="6.70" lengthAdjust="spacingAndGlyphs">s</text>
</g>
<rect x="588.55" y="1032.45" width="201.90" height="216.80" rx="12" ry="12" fill="#1b6647" stroke="#e8eef2" stroke-width="2.1" />
<g font-size="25.03" font-weight="bold" fill="#ffffff" >
<text x="645.4" y="1128.0" textLength="17.72" lengthAdjust="spacingAndGlyphs">R</text>
<text x="663.3" y="1128.0" textLength="13.62" lengthAdjust="spacingAndGlyphs">a</text>
<text x="679.4" y="1128.0" textLength="13.68" lengthAdjust="spacingAndGlyphs">s</text>
<text x="693.1" y="1128.0" textLength="11.16" lengthAdjust="spacingAndGlyphs">t</text>
<text x="704.2" y="1128.0" textLength="16.14" lengthAdjust="spacingAndGlyphs">e</text>
<text x="720.4" y="1128.0" textLength="12.00" lengthAdjust="spacingAndGlyphs">r</text>
</g>
<g font-size="17.67" font-style="italic" fill="#b0bec5" >
<text x="643.1" y="1192.7" textLength="12.87" lengthAdjust="spacingAndGlyphs">G</text>
<text x="656.2" y="1192.7" textLength="10.03" lengthAdjust="spacingAndGlyphs">e</text>
<text x="666.7" y="1192.7" textLength="9.92" lengthAdjust="spacingAndGlyphs">n</text>
<text x="677.1" y="1192.7" textLength="10.03" lengthAdjust="spacingAndGlyphs">e</text>
<text x="687.5" y="1192.7" textLength="6.82" lengthAdjust="spacingAndGlyphs">r</text>
<text x="694.4" y="1192.7" textLength="9.36" lengthAdjust="spacingAndGlyphs">a</text>
<text x="704.3" y="1192.7" textLength="6.17" lengthAdjust="spacingAndGlyphs">t</text>
<text x="711.1" y="1192.7" textLength="3.86" lengthAdjust="spacingAndGlyphs">i</text>
<text x="715.7" y="1192.7" textLength="9.74" lengthAdjust="spacingAndGlyphs">o</text>
<text x="725.9" y="1192.7" textLength="9.92" lengthAdjust="spacingAndGlyphs">n</text>
</g>
<g font-size="14.72" fill="#b0bec5" >
<text x="620.0" y="1287.8" textLength="10.56" lengthAdjust="spacingAndGlyphs">G</text>
<text x="631.0" y="1287.8" textLength="10.28" lengthAdjust="spacingAndGlyphs">D</text>
<text x="641.3" y="1287.8" textLength="9.26" lengthAdjust="spacingAndGlyphs">A</text>
<text x="650.9" y="1287.8" textLength="7.81" lengthAdjust="spacingAndGlyphs">L</text>
<text x="658.4" y="1287.8" textLength="4.62" lengthAdjust="spacingAndGlyphs">/</text>
<text x="663.2" y="1287.8" textLength="5.92" lengthAdjust="spacingAndGlyphs">r</text>
<text x="669.1" y="1287.8" textLength="6.90" lengthAdjust="spacingAndGlyphs">a</text>
<text x="677.7" y="1287.8" textLength="6.70" lengthAdjust="spacingAndGlyphs">s</text>
<text x="684.6" y="1287.8" textLength="5.22" lengthAdjust="spacingAndGlyphs">t</text>
<text x="690.2" y="1287.8" textLength="8.38" lengthAdjust="spacingAndGlyphs">e</text>
<text x="698.6" y="1287.8" textLength="5.92" lengthAdjust="spacingAndGlyphs">r</text>
<text x="704.7" y="1287.8" textLength="3.09" lengthAdjust="spacingAndGlyphs">i</text>
<text x="708.3" y="1287.8" textLength="8.21" lengthAdjust="spacingAndGlyphs">o</text>
<text x="721.2" y="1287.8" textLength="13.13" lengthAdjust="spacingAndGlyphs">m</text>
<text x="734.9" y="1287.8" textLength="6.90" lengthAdjust="spacingAndGlyphs">a</text>
<text x="743.4" y="1287.8" textLength="6.70" lengthAdjust="spacingAndGlyphs">s</text>
<text x="750.5" y="1287.8" textLength="7.74" lengthAdjust="spacingAndGlyphs">k</text>
</g>
<g font-size="14.72" fill="#b0bec5" >
<text x="600.0" y="1302.8" textLength="10.28" lengthAdjust="spacingAndGlyphs">D</text>
<text x="610.9" y="1302.8" textLength="7.99" lengthAdjust="spacingAndGlyphs">E</text>
<text x="619.5" y="1302.8" textLength="11.48" lengthAdjust="spacingAndGlyphs">M</text>
<text x="636.2" y="1302.8" textLength="10.45" lengthAdjust="spacingAndGlyphs">+</text>
<text x="652.0" y="1302.8" textLength="9.85" lengthAdjust="spacingAndGlyphs">N</text>
<text x="662.3" y="1302.8" textLength="7.81" lengthAdjust="spacingAndGlyphs">L</text>
<text x="669.9" y="1302.8" textLength="9.32" lengthAdjust="spacingAndGlyphs">C</text>
<text x="679.8" y="1302.8" textLength="10.28" lengthAdjust="spacingAndGlyphs">D</text>
<text x="695.2" y="1302.8" textLength="10.45" lengthAdjust="spacingAndGlyphs">+</text>
<text x="710.8" y="1302.8" textLength="8.41" lengthAdjust="spacingAndGlyphs">g</text>
<text x="719.8" y="1302.8" textLength="8.30" lengthAdjust="spacingAndGlyphs">S</text>
<text x="728.7" y="1302.8" textLength="8.30" lengthAdjust="spacingAndGlyphs">S</text>
<text x="737.3" y="1302.8" textLength="9.85" lengthAdjust="spacingAndGlyphs">U</text>
<text x="747.6" y="1302.8" textLength="9.52" lengthAdjust="spacingAndGlyphs">R</text>
<text x="757.0" y="1302.8" textLength="10.56" lengthAdjust="spacingAndGlyphs">G</text>
<text x="767.9" y="1302.8" textLength="10.65" lengthAdjust="spacingAndGlyphs">O</text>
</g>
<rect x="807.70" y="1031.90" width="256.50" height="217.10" rx="12" ry="12" fill="#4a5868" stroke="#f0f2f4" stroke-width="2.6" />
<g font-size="41.22" font-weight="bold" fill="#ffffff" >
<text x="843.1" y="1097.5" textLength="32.64" lengthAdjust="spacingAndGlyphs">Q</text>
<text x="877.5" y="1097.5" textLength="24.86" lengthAdjust="spacingAndGlyphs">S</text>
<text x="905.1" y="1097.5" textLength="40.39" lengthAdjust="spacingAndGlyphs">W</text>
<text x="944.2" y="1097.5" textLength="32.07" lengthAdjust="spacingAndGlyphs">A</text>
<text x="971.9" y="1097.5" textLength="26.98" lengthAdjust="spacingAndGlyphs">T</text>
<text x="1000.9" y="1097.5" textLength="28.11" lengthAdjust="spacingAndGlyphs">+</text>
</g>
<g font-size="23.56" fill="#b0bec5" >
<text x="811.0" y="1151.9" textLength="16.27" lengthAdjust="spacingAndGlyphs">w</text>
<text x="828.9" y="1151.9" textLength="4.94" lengthAdjust="spacingAndGlyphs">i</text>
<text x="834.5" y="1151.9" textLength="8.35" lengthAdjust="spacingAndGlyphs">t</text>
<text x="843.4" y="1151.9" textLength="13.54" lengthAdjust="spacingAndGlyphs">h</text>
<text x="857.9" y="1151.9" textLength="4.94" lengthAdjust="spacingAndGlyphs">i</text>
<text x="863.8" y="1151.9" textLength="13.38" lengthAdjust="spacingAndGlyphs">n</text>
<text x="884.8" y="1151.9" textLength="17.03" lengthAdjust="spacingAndGlyphs">Q</text>
<text x="902.2" y="1151.9" textLength="16.89" lengthAdjust="spacingAndGlyphs">G</text>
<text x="919.5" y="1151.9" textLength="6.17" lengthAdjust="spacingAndGlyphs">I</text>
<text x="926.4" y="1151.9" textLength="13.28" lengthAdjust="spacingAndGlyphs">S</text>
<text x="947.7" y="1151.9" textLength="6.28" lengthAdjust="spacingAndGlyphs">(</text>
<text x="956.0" y="1151.9" textLength="13.54" lengthAdjust="spacingAndGlyphs">h</text>
<text x="970.0" y="1151.9" textLength="13.41" lengthAdjust="spacingAndGlyphs">e</text>
<text x="984.0" y="1151.9" textLength="11.04" lengthAdjust="spacingAndGlyphs">a</text>
<text x="997.3" y="1151.9" textLength="13.46" lengthAdjust="spacingAndGlyphs">d</text>
<text x="1011.8" y="1151.9" textLength="4.94" lengthAdjust="spacingAndGlyphs">l</text>
<text x="1017.6" y="1151.9" textLength="13.41" lengthAdjust="spacingAndGlyphs">e</text>
<text x="1031.6" y="1151.9" textLength="10.73" lengthAdjust="spacingAndGlyphs">s</text>
<text x="1043.1" y="1151.9" textLength="10.73" lengthAdjust="spacingAndGlyphs">s</text>
<text x="1055.8" y="1151.9" textLength="6.28" lengthAdjust="spacingAndGlyphs">)</text>
</g>
<g font-size="20.61" fill="#9aa8b2" >
<text x="861.9" y="1204.1" textLength="13.07" lengthAdjust="spacingAndGlyphs">X</text>
<text x="875.6" y="1204.1" textLength="10.52" lengthAdjust="spacingAndGlyphs">v</text>
<text x="886.6" y="1204.1" textLength="7.13" lengthAdjust="spacingAndGlyphs">f</text>
<text x="893.9" y="1204.1" textLength="11.78" lengthAdjust="spacingAndGlyphs">b</text>
<text x="912.8" y="1204.1" textLength="14.63" lengthAdjust="spacingAndGlyphs">+</text>
<text x="934.0" y="1204.1" textLength="12.92" lengthAdjust="spacingAndGlyphs">T</text>
<text x="943.6" y="1204.1" textLength="9.66" lengthAdjust="spacingAndGlyphs">a</text>
<text x="955.3" y="1204.1" textLength="11.71" lengthAdjust="spacingAndGlyphs">u</text>
<text x="967.7" y="1204.1" textLength="14.40" lengthAdjust="spacingAndGlyphs">D</text>
<text x="983.0" y="1204.1" textLength="11.19" lengthAdjust="spacingAndGlyphs">E</text>
<text x="995.0" y="1204.1" textLength="16.08" lengthAdjust="spacingAndGlyphs">M</text>
</g>
<g font-size="14.72" fill="#b0bec5" >
<text x="838.3" y="1287.0" textLength="9.94" lengthAdjust="spacingAndGlyphs">H</text>
<text x="848.7" y="1287.0" textLength="9.52" lengthAdjust="spacingAndGlyphs">R</text>
<text x="858.2" y="1287.0" textLength="9.85" lengthAdjust="spacingAndGlyphs">U</text>
<text x="868.4" y="1287.0" textLength="4.26" lengthAdjust="spacingAndGlyphs">:</text>
<text x="877.7" y="1287.0" textLength="3.09" lengthAdjust="spacingAndGlyphs">l</text>
<text x="881.5" y="1287.0" textLength="6.90" lengthAdjust="spacingAndGlyphs">a</text>
<text x="890.0" y="1287.0" textLength="8.36" lengthAdjust="spacingAndGlyphs">n</text>
<text x="898.7" y="1287.0" textLength="8.41" lengthAdjust="spacingAndGlyphs">d</text>
<text x="907.5" y="1287.0" textLength="8.36" lengthAdjust="spacingAndGlyphs">u</text>
<text x="916.5" y="1287.0" textLength="6.70" lengthAdjust="spacingAndGlyphs">s</text>
<text x="923.5" y="1287.0" textLength="8.38" lengthAdjust="spacingAndGlyphs">e</text>
<text x="937.0" y="1287.0" textLength="10.21" lengthAdjust="spacingAndGlyphs">×</text>
<text x="952.7" y="1287.0" textLength="6.70" lengthAdjust="spacingAndGlyphs">s</text>
<text x="959.8" y="1287.0" textLength="8.21" lengthAdjust="spacingAndGlyphs">o</text>
<text x="968.5" y="1287.0" textLength="3.09" lengthAdjust="spacingAndGlyphs">i</text>
<text x="972.4" y="1287.0" textLength="3.09" lengthAdjust="spacingAndGlyphs">l</text>
<text x="981.0" y="1287.0" textLength="10.21" lengthAdjust="spacingAndGlyphs">×</text>
<text x="996.6" y="1287.0" textLength="6.70" lengthAdjust="spacingAndGlyphs">s</text>
<text x="1003.9" y="1287.0" textLength="3.09" lengthAdjust="spacingAndGlyphs">l</text>
<text x="1007.6" y="1287.0" textLength="8.21" lengthAdjust="spacingAndGlyphs">o</text>
<text x="1016.1" y="1287.0" textLength="8.41" lengthAdjust="spacingAndGlyphs">p</text>
<text x="1024.9" y="1287.0" textLength="8.38" lengthAdjust="spacingAndGlyphs">e</text>
</g>
<g font-size="14.72" fill="#b0bec5" >
<text x="859.8" y="1302.8" textLength="7.72" lengthAdjust="spacingAndGlyphs">5</text>
<text x="872.7" y="1302.8" textLength="8.38" lengthAdjust="spacingAndGlyphs">e</text>
<text x="881.5" y="1302.8" textLength="3.09" lengthAdjust="spacingAndGlyphs">l</text>
<text x="885.1" y="1302.8" textLength="8.38" lengthAdjust="spacingAndGlyphs">e</text>
<text x="893.8" y="1302.8" textLength="7.51" lengthAdjust="spacingAndGlyphs">v</text>
<text x="906.4" y="1302.8" textLength="8.41" lengthAdjust="spacingAndGlyphs">b</text>
<text x="915.3" y="1302.8" textLength="6.90" lengthAdjust="spacingAndGlyphs">a</text>
<text x="923.7" y="1302.8" textLength="8.36" lengthAdjust="spacingAndGlyphs">n</text>
<text x="932.4" y="1302.8" textLength="8.41" lengthAdjust="spacingAndGlyphs">d</text>
<text x="941.4" y="1302.8" textLength="6.70" lengthAdjust="spacingAndGlyphs">s</text>
<text x="952.3" y="1302.8" textLength="5.11" lengthAdjust="spacingAndGlyphs">·</text>
<text x="961.7" y="1302.8" textLength="4.05" lengthAdjust="spacingAndGlyphs">[</text>
<text x="967.4" y="1302.8" textLength="7.81" lengthAdjust="spacingAndGlyphs">3</text>
<text x="976.2" y="1302.8" textLength="6.15" lengthAdjust="spacingAndGlyphs">°</text>
<text x="982.0" y="1302.8" textLength="5.59" lengthAdjust="spacingAndGlyphs">,</text>
<text x="991.8" y="1302.8" textLength="8.31" lengthAdjust="spacingAndGlyphs">9</text>
<text x="1000.8" y="1302.8" textLength="6.15" lengthAdjust="spacingAndGlyphs">°</text>
<text x="1008.6" y="1302.8" textLength="4.05" lengthAdjust="spacingAndGlyphs">]</text>
</g>
<rect x="1081.70" y="1032.10" width="245.00" height="217.00" rx="12" ry="12" fill="#4a5868" stroke="#f0f2f4" stroke-width="2.6" />
<g font-size="35.33" font-weight="bold" fill="#ffffff" >
<text x="1075.4" y="1096.8" textLength="21.31" lengthAdjust="spacingAndGlyphs">S</text>
<text x="1099.0" y="1096.8" textLength="34.62" lengthAdjust="spacingAndGlyphs">W</text>
<text x="1132.5" y="1096.8" textLength="27.49" lengthAdjust="spacingAndGlyphs">A</text>
<text x="1156.3" y="1096.8" textLength="23.12" lengthAdjust="spacingAndGlyphs">T</text>
<text x="1181.1" y="1096.8" textLength="24.09" lengthAdjust="spacingAndGlyphs">+</text>
<text x="1219.8" y="1096.8" textLength="20.46" lengthAdjust="spacingAndGlyphs">E</text>
<text x="1241.5" y="1096.8" textLength="23.59" lengthAdjust="spacingAndGlyphs">d</text>
<text x="1265.3" y="1096.8" textLength="11.58" lengthAdjust="spacingAndGlyphs">i</text>
<text x="1276.9" y="1096.8" textLength="15.76" lengthAdjust="spacingAndGlyphs">t</text>
<text x="1292.6" y="1096.8" textLength="23.24" lengthAdjust="spacingAndGlyphs">o</text>
<text x="1315.7" y="1096.8" textLength="16.95" lengthAdjust="spacingAndGlyphs">r</text>
</g>
<g font-size="23.56" fill="#b0bec5" >
<text x="1148.5" y="1150.8" textLength="15.24" lengthAdjust="spacingAndGlyphs">R</text>
<text x="1162.8" y="1150.8" textLength="13.38" lengthAdjust="spacingAndGlyphs">u</text>
<text x="1177.0" y="1150.8" textLength="13.38" lengthAdjust="spacingAndGlyphs">n</text>
<text x="1190.8" y="1150.8" textLength="14.82" lengthAdjust="spacingAndGlyphs">A</text>
<text x="1206.5" y="1150.8" textLength="4.94" lengthAdjust="spacingAndGlyphs">l</text>
<text x="1212.7" y="1150.8" textLength="4.94" lengthAdjust="spacingAndGlyphs">l</text>
<text x="1225.5" y="1150.8" textLength="14.82" lengthAdjust="spacingAndGlyphs">A</text>
<text x="1241.1" y="1150.8" textLength="13.02" lengthAdjust="spacingAndGlyphs">P</text>
<text x="1254.1" y="1150.8" textLength="6.17" lengthAdjust="spacingAndGlyphs">I</text>
</g>
<g font-size="20.61" fill="#9aa8b2" >
<text x="1145.0" y="1204.2" textLength="18.06" lengthAdjust="spacingAndGlyphs">W</text>
<text x="1163.8" y="1204.2" textLength="14.78" lengthAdjust="spacingAndGlyphs">G</text>
<text x="1179.2" y="1204.2" textLength="13.79" lengthAdjust="spacingAndGlyphs">N</text>
<text x="1200.1" y="1204.2" textLength="4.32" lengthAdjust="spacingAndGlyphs">i</text>
<text x="1205.2" y="1204.2" textLength="18.38" lengthAdjust="spacingAndGlyphs">m</text>
<text x="1224.2" y="1204.2" textLength="11.78" lengthAdjust="spacingAndGlyphs">p</text>
<text x="1236.4" y="1204.2" textLength="11.50" lengthAdjust="spacingAndGlyphs">o</text>
<text x="1248.2" y="1204.2" textLength="8.29" lengthAdjust="spacingAndGlyphs">r</text>
<text x="1256.2" y="1204.2" textLength="7.31" lengthAdjust="spacingAndGlyphs">t</text>
</g>
<g font-size="14.72" fill="#b0bec5" >
<text x="1150.2" y="1286.5" textLength="12.90" lengthAdjust="spacingAndGlyphs">W</text>
<text x="1162.8" y="1286.5" textLength="8.38" lengthAdjust="spacingAndGlyphs">e</text>
<text x="1171.5" y="1286.5" textLength="6.90" lengthAdjust="spacingAndGlyphs">a</text>
<text x="1179.8" y="1286.5" textLength="5.22" lengthAdjust="spacingAndGlyphs">t</text>
<text x="1185.3" y="1286.5" textLength="8.46" lengthAdjust="spacingAndGlyphs">h</text>
<text x="1194.1" y="1286.5" textLength="8.38" lengthAdjust="spacingAndGlyphs">e</text>
<text x="1202.6" y="1286.5" textLength="5.92" lengthAdjust="spacingAndGlyphs">r</text>
<text x="1213.0" y="1286.5" textLength="3.09" lengthAdjust="spacingAndGlyphs">i</text>
<text x="1216.7" y="1286.5" textLength="13.13" lengthAdjust="spacingAndGlyphs">m</text>
<text x="1230.3" y="1286.5" textLength="8.41" lengthAdjust="spacingAndGlyphs">p</text>
<text x="1239.0" y="1286.5" textLength="8.21" lengthAdjust="spacingAndGlyphs">o</text>
<text x="1247.4" y="1286.5" textLength="5.92" lengthAdjust="spacingAndGlyphs">r</text>
<text x="1253.1" y="1286.5" textLength="5.22" lengthAdjust="spacingAndGlyphs">t</text>
</g>
<g font-size="14.72" fill="#b0bec5" >
<text x="1148.3" y="1302.2" textLength="8.30" lengthAdjust="spacingAndGlyphs">S</text>
<text x="1157.1" y="1302.2" textLength="3.09" lengthAdjust="spacingAndGlyphs">i</text>
<text x="1160.8" y="1302.2" textLength="13.13" lengthAdjust="spacingAndGlyphs">m</text>
<text x="1174.3" y="1302.2" textLength="4.26" lengthAdjust="spacingAndGlyphs">:</text>
<text x="1183.6" y="1302.2" textLength="7.81" lengthAdjust="spacingAndGlyphs">2</text>
<text x="1192.4" y="1302.2" textLength="8.13" lengthAdjust="spacingAndGlyphs">0</text>
<text x="1201.2" y="1302.2" textLength="7.81" lengthAdjust="spacingAndGlyphs">2</text>
<text x="1210.0" y="1302.2" textLength="8.13" lengthAdjust="spacingAndGlyphs">0</text>
<text x="1219.3" y="1302.2" textLength="5.57" lengthAdjust="spacingAndGlyphs">–</text>
<text x="1225.8" y="1302.2" textLength="7.81" lengthAdjust="spacingAndGlyphs">2</text>
<text x="1234.7" y="1302.2" textLength="8.13" lengthAdjust="spacingAndGlyphs">0</text>
<text x="1243.5" y="1302.2" textLength="7.81" lengthAdjust="spacingAndGlyphs">2</text>
<text x="1252.5" y="1302.2" textLength="7.72" lengthAdjust="spacingAndGlyphs">1</text>
</g>
<rect x="1345.00" y="1032.10" width="234.30" height="217.00" rx="12" ry="12" fill="#4a5868" stroke="#f0f2f4" stroke-width="2.6" />
<g font-size="44.17" font-weight="bold" fill="#ffffff" >
<text x="1381.4" y="1103.7" textLength="26.63" lengthAdjust="spacingAndGlyphs">S</text>
<text x="1411.0" y="1103.7" textLength="43.28" lengthAdjust="spacingAndGlyphs">W</text>
<text x="1452.8" y="1103.7" textLength="34.36" lengthAdjust="spacingAndGlyphs">A</text>
<text x="1482.6" y="1103.7" textLength="28.90" lengthAdjust="spacingAndGlyphs">T</text>
<text x="1513.6" y="1103.7" textLength="30.11" lengthAdjust="spacingAndGlyphs">+</text>
</g>
<g font-size="26.50" fill="#b0bec5" >
<text x="1396.4" y="1162.7" textLength="14.94" lengthAdjust="spacingAndGlyphs">S</text>
<text x="1412.4" y="1162.7" textLength="5.55" lengthAdjust="spacingAndGlyphs">i</text>
<text x="1419.0" y="1162.7" textLength="23.63" lengthAdjust="spacingAndGlyphs">m</text>
<text x="1443.3" y="1162.7" textLength="15.05" lengthAdjust="spacingAndGlyphs">u</text>
<text x="1459.6" y="1162.7" textLength="5.55" lengthAdjust="spacingAndGlyphs">l</text>
<text x="1466.4" y="1162.7" textLength="12.42" lengthAdjust="spacingAndGlyphs">a</text>
<text x="1481.2" y="1162.7" textLength="9.40" lengthAdjust="spacingAndGlyphs">t</text>
<text x="1491.6" y="1162.7" textLength="5.55" lengthAdjust="spacingAndGlyphs">i</text>
<text x="1498.1" y="1162.7" textLength="14.78" lengthAdjust="spacingAndGlyphs">o</text>
<text x="1513.6" y="1162.7" textLength="15.05" lengthAdjust="spacingAndGlyphs">n</text>
</g>
<g font-size="20.61" fill="#9aa8b2" >
<text x="1400.9" y="1213.0" textLength="11.78" lengthAdjust="spacingAndGlyphs">b</text>
<text x="1413.5" y="1213.0" textLength="4.32" lengthAdjust="spacingAndGlyphs">i</text>
<text x="1418.7" y="1213.0" textLength="11.71" lengthAdjust="spacingAndGlyphs">n</text>
<text x="1430.6" y="1213.0" textLength="6.46" lengthAdjust="spacingAndGlyphs">/</text>
<text x="1437.7" y="1213.0" textLength="9.39" lengthAdjust="spacingAndGlyphs">s</text>
<text x="1448.1" y="1213.0" textLength="14.24" lengthAdjust="spacingAndGlyphs">w</text>
<text x="1463.7" y="1213.0" textLength="9.66" lengthAdjust="spacingAndGlyphs">a</text>
<text x="1475.2" y="1213.0" textLength="7.31" lengthAdjust="spacingAndGlyphs">t</text>
<text x="1483.1" y="1213.0" textLength="11.78" lengthAdjust="spacingAndGlyphs">p</text>
<text x="1495.6" y="1213.0" textLength="4.32" lengthAdjust="spacingAndGlyphs">l</text>
<text x="1500.7" y="1213.0" textLength="11.71" lengthAdjust="spacingAndGlyphs">u</text>
<text x="1513.3" y="1213.0" textLength="9.39" lengthAdjust="spacingAndGlyphs">s</text>
</g>
<rect x="1344.75" y="1331.85" width="234.80" height="135.20" rx="12" ry="12" fill="#1b6647" stroke="#e8eef2" stroke-width="2.1" />
<g font-size="25.03" font-weight="bold" fill="#ffffff" >
<text x="1386.3" y="1394.3" textLength="15.09" lengthAdjust="spacingAndGlyphs">S</text>
<text x="1402.3" y="1394.3" textLength="11.16" lengthAdjust="spacingAndGlyphs">t</text>
<text x="1413.6" y="1394.3" textLength="12.00" lengthAdjust="spacingAndGlyphs">r</text>
<text x="1425.0" y="1394.3" textLength="16.14" lengthAdjust="spacingAndGlyphs">e</text>
<text x="1441.4" y="1394.3" textLength="13.62" lengthAdjust="spacingAndGlyphs">a</text>
<text x="1457.4" y="1394.3" textLength="24.15" lengthAdjust="spacingAndGlyphs">m</text>
<text x="1481.8" y="1394.3" textLength="10.44" lengthAdjust="spacingAndGlyphs">f</text>
<text x="1492.0" y="1394.3" textLength="8.20" lengthAdjust="spacingAndGlyphs">l</text>
<text x="1500.0" y="1394.3" textLength="16.46" lengthAdjust="spacingAndGlyphs">o</text>
<text x="1517.3" y="1394.3" textLength="20.00" lengthAdjust="spacingAndGlyphs">w</text>
</g>
<g font-size="17.67" font-style="italic" fill="#b0bec5" >
<text x="1409.9" y="1432.0" textLength="9.05" lengthAdjust="spacingAndGlyphs">F</text>
<text x="1419.6" y="1432.0" textLength="10.03" lengthAdjust="spacingAndGlyphs">e</text>
<text x="1429.8" y="1432.0" textLength="6.17" lengthAdjust="spacingAndGlyphs">t</text>
<text x="1436.5" y="1432.0" textLength="8.88" lengthAdjust="spacingAndGlyphs">c</text>
<text x="1445.7" y="1432.0" textLength="9.92" lengthAdjust="spacingAndGlyphs">h</text>
<text x="1461.7" y="1432.0" textLength="12.78" lengthAdjust="spacingAndGlyphs">&amp;</text>
<text x="1479.5" y="1432.0" textLength="13.97" lengthAdjust="spacingAndGlyphs">M</text>
<text x="1494.3" y="1432.0" textLength="9.36" lengthAdjust="spacingAndGlyphs">a</text>
<text x="1504.5" y="1432.0" textLength="10.03" lengthAdjust="spacingAndGlyphs">p</text>
</g>
<g font-size="14.72" fill="#b0bec5" >
<text x="1385.8" y="1496.4" textLength="9.85" lengthAdjust="spacingAndGlyphs">U</text>
<text x="1396.2" y="1496.4" textLength="8.30" lengthAdjust="spacingAndGlyphs">S</text>
<text x="1404.7" y="1496.4" textLength="10.56" lengthAdjust="spacingAndGlyphs">G</text>
<text x="1415.8" y="1496.4" textLength="8.30" lengthAdjust="spacingAndGlyphs">S</text>
<text x="1429.0" y="1496.4" textLength="6.70" lengthAdjust="spacingAndGlyphs">s</text>
<text x="1435.9" y="1496.4" textLength="5.22" lengthAdjust="spacingAndGlyphs">t</text>
<text x="1441.7" y="1496.4" textLength="6.90" lengthAdjust="spacingAndGlyphs">a</text>
<text x="1449.9" y="1496.4" textLength="5.22" lengthAdjust="spacingAndGlyphs">t</text>
<text x="1455.7" y="1496.4" textLength="3.09" lengthAdjust="spacingAndGlyphs">i</text>
<text x="1459.3" y="1496.4" textLength="8.21" lengthAdjust="spacingAndGlyphs">o</text>
<text x="1467.9" y="1496.4" textLength="8.36" lengthAdjust="spacingAndGlyphs">n</text>
<text x="1476.8" y="1496.4" textLength="6.70" lengthAdjust="spacingAndGlyphs">s</text>
<path d="M1488.89,1492.04 L1498.50,1492.04 M1496.00,1489.26 L1498.64,1492.04 L1496.00,1494.82" fill="none" stroke="#b0bec5" stroke-width="1.15" stroke-linejoin="miter" stroke-miterlimit="2"/>
<text x="1504.4" y="1496.4" textLength="7.81" lengthAdjust="spacingAndGlyphs">L</text>
<text x="1512.2" y="1496.4" textLength="8.30" lengthAdjust="spacingAndGlyphs">S</text>
<text x="1520.9" y="1496.4" textLength="9.85" lengthAdjust="spacingAndGlyphs">U</text>
<text x="1531.2" y="1496.4" textLength="6.70" lengthAdjust="spacingAndGlyphs">s</text>
</g>
<g font-size="32.39" font-weight="bold" fill="#7b5ea7" >
<text x="1794.7" y="274.7" textLength="29.64" lengthAdjust="spacingAndGlyphs">M</text>
<text x="1824.9" y="274.7" textLength="25.65" lengthAdjust="spacingAndGlyphs">O</text>
<text x="1851.2" y="274.7" textLength="24.76" lengthAdjust="spacingAndGlyphs">D</text>
<text x="1876.9" y="274.7" textLength="18.76" lengthAdjust="spacingAndGlyphs">E</text>
<text x="1897.6" y="274.7" textLength="18.85" lengthAdjust="spacingAndGlyphs">L</text>
<text x="1927.2" y="274.7" textLength="25.65" lengthAdjust="spacingAndGlyphs">O</text>
<text x="1953.8" y="274.7" textLength="23.17" lengthAdjust="spacingAndGlyphs">U</text>
<text x="1977.6" y="274.7" textLength="21.20" lengthAdjust="spacingAndGlyphs">T</text>
<text x="1999.3" y="274.7" textLength="21.45" lengthAdjust="spacingAndGlyphs">P</text>
<text x="2021.8" y="274.7" textLength="23.17" lengthAdjust="spacingAndGlyphs">U</text>
<text x="2045.6" y="274.7" textLength="21.20" lengthAdjust="spacingAndGlyphs">T</text>
<text x="2067.9" y="274.7" textLength="19.53" lengthAdjust="spacingAndGlyphs">S</text>
</g>
<circle cx="1747.5" cy="364.50" r="10.6" fill="#7b5ea7"/>
<g font-size="23.56" font-weight="bold" fill="#eceff1" >
<text x="1791.3" y="356.9" textLength="14.21" lengthAdjust="spacingAndGlyphs">S</text>
<text x="1807.0" y="356.9" textLength="23.08" lengthAdjust="spacingAndGlyphs">W</text>
<text x="1829.3" y="356.9" textLength="18.32" lengthAdjust="spacingAndGlyphs">A</text>
<text x="1845.2" y="356.9" textLength="15.42" lengthAdjust="spacingAndGlyphs">T</text>
<text x="1861.7" y="356.9" textLength="16.06" lengthAdjust="spacingAndGlyphs">+</text>
<text x="1887.5" y="356.9" textLength="23.08" lengthAdjust="spacingAndGlyphs">W</text>
<text x="1910.8" y="356.9" textLength="12.82" lengthAdjust="spacingAndGlyphs">a</text>
<text x="1925.6" y="356.9" textLength="10.50" lengthAdjust="spacingAndGlyphs">t</text>
<text x="1936.0" y="356.9" textLength="15.19" lengthAdjust="spacingAndGlyphs">e</text>
<text x="1951.3" y="356.9" textLength="11.30" lengthAdjust="spacingAndGlyphs">r</text>
<text x="1962.5" y="356.9" textLength="12.87" lengthAdjust="spacingAndGlyphs">s</text>
<text x="1975.6" y="356.9" textLength="15.55" lengthAdjust="spacingAndGlyphs">h</text>
<text x="1991.1" y="356.9" textLength="15.19" lengthAdjust="spacingAndGlyphs">e</text>
<text x="2006.3" y="356.9" textLength="15.73" lengthAdjust="spacingAndGlyphs">d</text>
<text x="2030.3" y="356.9" textLength="21.55" lengthAdjust="spacingAndGlyphs">M</text>
<text x="2052.0" y="356.9" textLength="15.50" lengthAdjust="spacingAndGlyphs">o</text>
<text x="2067.3" y="356.9" textLength="15.73" lengthAdjust="spacingAndGlyphs">d</text>
<text x="2083.1" y="356.9" textLength="15.19" lengthAdjust="spacingAndGlyphs">e</text>
<text x="2098.3" y="356.9" textLength="7.72" lengthAdjust="spacingAndGlyphs">l</text>
</g>
<g font-size="19.14" fill="#b0bec5" >
<text x="1791.1" y="388.0" textLength="12.12" lengthAdjust="spacingAndGlyphs">C</text>
<text x="1803.7" y="388.0" textLength="10.68" lengthAdjust="spacingAndGlyphs">o</text>
<text x="1814.9" y="388.0" textLength="17.07" lengthAdjust="spacingAndGlyphs">m</text>
<text x="1832.5" y="388.0" textLength="10.93" lengthAdjust="spacingAndGlyphs">p</text>
<text x="1844.2" y="388.0" textLength="4.01" lengthAdjust="spacingAndGlyphs">l</text>
<text x="1848.8" y="388.0" textLength="10.90" lengthAdjust="spacingAndGlyphs">e</text>
<text x="1859.8" y="388.0" textLength="6.79" lengthAdjust="spacingAndGlyphs">t</text>
<text x="1867.0" y="388.0" textLength="10.90" lengthAdjust="spacingAndGlyphs">e</text>
<text x="1883.2" y="388.0" textLength="12.00" lengthAdjust="spacingAndGlyphs">T</text>
<text x="1895.0" y="388.0" textLength="9.97" lengthAdjust="spacingAndGlyphs">x</text>
<text x="1905.5" y="388.0" textLength="6.79" lengthAdjust="spacingAndGlyphs">t</text>
<text x="1912.6" y="388.0" textLength="5.02" lengthAdjust="spacingAndGlyphs">I</text>
<text x="1918.1" y="388.0" textLength="10.87" lengthAdjust="spacingAndGlyphs">n</text>
<text x="1929.4" y="388.0" textLength="13.84" lengthAdjust="spacingAndGlyphs">O</text>
<text x="1943.7" y="388.0" textLength="10.87" lengthAdjust="spacingAndGlyphs">u</text>
<text x="1955.0" y="388.0" textLength="6.79" lengthAdjust="spacingAndGlyphs">t</text>
<text x="1967.9" y="388.0" textLength="10.93" lengthAdjust="spacingAndGlyphs">d</text>
<text x="1979.7" y="388.0" textLength="4.01" lengthAdjust="spacingAndGlyphs">i</text>
<text x="1984.3" y="388.0" textLength="7.70" lengthAdjust="spacingAndGlyphs">r</text>
<text x="1991.4" y="388.0" textLength="10.90" lengthAdjust="spacingAndGlyphs">e</text>
<text x="2002.6" y="388.0" textLength="9.03" lengthAdjust="spacingAndGlyphs">c</text>
<text x="2012.3" y="388.0" textLength="6.79" lengthAdjust="spacingAndGlyphs">t</text>
<text x="2019.5" y="388.0" textLength="10.68" lengthAdjust="spacingAndGlyphs">o</text>
<text x="2030.5" y="388.0" textLength="7.70" lengthAdjust="spacingAndGlyphs">r</text>
<text x="2038.2" y="388.0" textLength="9.67" lengthAdjust="spacingAndGlyphs">y</text>
</g>
<circle cx="1747.5" cy="446.32" r="10.6" fill="#7b5ea7"/>
<g font-size="23.56" font-weight="bold" fill="#eceff1" >
<text x="1790.9" y="438.7" textLength="18.65" lengthAdjust="spacingAndGlyphs">Q</text>
<text x="1809.9" y="438.7" textLength="17.92" lengthAdjust="spacingAndGlyphs">G</text>
<text x="1828.0" y="438.7" textLength="8.09" lengthAdjust="spacingAndGlyphs">I</text>
<text x="1837.1" y="438.7" textLength="14.21" lengthAdjust="spacingAndGlyphs">S</text>
<text x="1860.4" y="438.7" textLength="15.60" lengthAdjust="spacingAndGlyphs">P</text>
<text x="1876.2" y="438.7" textLength="11.30" lengthAdjust="spacingAndGlyphs">r</text>
<text x="1887.0" y="438.7" textLength="15.50" lengthAdjust="spacingAndGlyphs">o</text>
<text x="1902.1" y="438.7" textLength="8.09" lengthAdjust="spacingAndGlyphs">j</text>
<text x="1909.9" y="438.7" textLength="15.19" lengthAdjust="spacingAndGlyphs">e</text>
<text x="1925.1" y="438.7" textLength="12.36" lengthAdjust="spacingAndGlyphs">c</text>
<text x="1938.3" y="438.7" textLength="10.50" lengthAdjust="spacingAndGlyphs">t</text>
</g>
<g font-size="19.14" fill="#b0bec5" >
<text x="1790.1" y="469.8" textLength="5.54" lengthAdjust="spacingAndGlyphs">.</text>
<text x="1796.0" y="469.8" textLength="10.93" lengthAdjust="spacingAndGlyphs">q</text>
<text x="1807.4" y="469.8" textLength="10.93" lengthAdjust="spacingAndGlyphs">g</text>
<text x="1819.1" y="469.8" textLength="8.72" lengthAdjust="spacingAndGlyphs">s</text>
<text x="1834.5" y="469.8" textLength="13.59" lengthAdjust="spacingAndGlyphs">+</text>
<text x="1855.1" y="469.8" textLength="10.79" lengthAdjust="spacingAndGlyphs">S</text>
<text x="1866.3" y="469.8" textLength="13.84" lengthAdjust="spacingAndGlyphs">Q</text>
<text x="1880.7" y="469.8" textLength="10.15" lengthAdjust="spacingAndGlyphs">L</text>
<text x="1891.0" y="469.8" textLength="4.01" lengthAdjust="spacingAndGlyphs">i</text>
<text x="1895.5" y="469.8" textLength="6.79" lengthAdjust="spacingAndGlyphs">t</text>
<text x="1902.7" y="469.8" textLength="10.90" lengthAdjust="spacingAndGlyphs">e</text>
<text x="1919.6" y="469.8" textLength="10.93" lengthAdjust="spacingAndGlyphs">d</text>
<text x="1931.3" y="469.8" textLength="8.97" lengthAdjust="spacingAndGlyphs">a</text>
<text x="1942.0" y="469.8" textLength="6.79" lengthAdjust="spacingAndGlyphs">t</text>
<text x="1949.4" y="469.8" textLength="8.97" lengthAdjust="spacingAndGlyphs">a</text>
<text x="1960.4" y="469.8" textLength="10.93" lengthAdjust="spacingAndGlyphs">b</text>
<text x="1971.9" y="469.8" textLength="8.97" lengthAdjust="spacingAndGlyphs">a</text>
<text x="1983.0" y="469.8" textLength="8.72" lengthAdjust="spacingAndGlyphs">s</text>
<text x="1992.2" y="469.8" textLength="10.90" lengthAdjust="spacingAndGlyphs">e</text>
</g>
<circle cx="1747.5" cy="528.14" r="10.6" fill="#7b5ea7"/>
<g font-size="23.56" font-weight="bold" fill="#eceff1" >
<text x="1791.9" y="520.5" textLength="23.08" lengthAdjust="spacingAndGlyphs">W</text>
<text x="1815.2" y="520.5" textLength="12.82" lengthAdjust="spacingAndGlyphs">a</text>
<text x="1830.0" y="520.5" textLength="10.50" lengthAdjust="spacingAndGlyphs">t</text>
<text x="1840.4" y="520.5" textLength="15.19" lengthAdjust="spacingAndGlyphs">e</text>
<text x="1855.6" y="520.5" textLength="11.30" lengthAdjust="spacingAndGlyphs">r</text>
<text x="1866.9" y="520.5" textLength="12.87" lengthAdjust="spacingAndGlyphs">s</text>
<text x="1879.9" y="520.5" textLength="15.55" lengthAdjust="spacingAndGlyphs">h</text>
<text x="1895.4" y="520.5" textLength="15.19" lengthAdjust="spacingAndGlyphs">e</text>
<text x="1910.7" y="520.5" textLength="15.73" lengthAdjust="spacingAndGlyphs">d</text>
<text x="1935.3" y="520.5" textLength="14.21" lengthAdjust="spacingAndGlyphs">S</text>
<text x="1950.5" y="520.5" textLength="15.55" lengthAdjust="spacingAndGlyphs">h</text>
<text x="1966.4" y="520.5" textLength="12.82" lengthAdjust="spacingAndGlyphs">a</text>
<text x="1981.4" y="520.5" textLength="15.73" lengthAdjust="spacingAndGlyphs">p</text>
<text x="1996.9" y="520.5" textLength="15.19" lengthAdjust="spacingAndGlyphs">e</text>
<text x="2012.2" y="520.5" textLength="9.83" lengthAdjust="spacingAndGlyphs">f</text>
<text x="2021.8" y="520.5" textLength="7.72" lengthAdjust="spacingAndGlyphs">i</text>
<text x="2029.4" y="520.5" textLength="7.72" lengthAdjust="spacingAndGlyphs">l</text>
<text x="2036.9" y="520.5" textLength="15.19" lengthAdjust="spacingAndGlyphs">e</text>
<text x="2052.4" y="520.5" textLength="12.87" lengthAdjust="spacingAndGlyphs">s</text>
</g>
<g font-size="19.14" fill="#b0bec5" >
<text x="1791.2" y="551.6" textLength="10.79" lengthAdjust="spacingAndGlyphs">S</text>
<text x="1802.5" y="551.6" textLength="10.87" lengthAdjust="spacingAndGlyphs">u</text>
<text x="1814.0" y="551.6" textLength="10.93" lengthAdjust="spacingAndGlyphs">b</text>
<text x="1825.4" y="551.6" textLength="10.93" lengthAdjust="spacingAndGlyphs">b</text>
<text x="1837.0" y="551.6" textLength="8.97" lengthAdjust="spacingAndGlyphs">a</text>
<text x="1848.1" y="551.6" textLength="8.72" lengthAdjust="spacingAndGlyphs">s</text>
<text x="1857.6" y="551.6" textLength="4.01" lengthAdjust="spacingAndGlyphs">i</text>
<text x="1862.4" y="551.6" textLength="10.87" lengthAdjust="spacingAndGlyphs">n</text>
<text x="1874.0" y="551.6" textLength="8.72" lengthAdjust="spacingAndGlyphs">s</text>
<text x="1881.9" y="551.6" textLength="7.27" lengthAdjust="spacingAndGlyphs">,</text>
<text x="1894.8" y="551.6" textLength="8.72" lengthAdjust="spacingAndGlyphs">s</text>
<text x="1903.9" y="551.6" textLength="6.79" lengthAdjust="spacingAndGlyphs">t</text>
<text x="1911.0" y="551.6" textLength="7.70" lengthAdjust="spacingAndGlyphs">r</text>
<text x="1918.1" y="551.6" textLength="10.90" lengthAdjust="spacingAndGlyphs">e</text>
<text x="1929.4" y="551.6" textLength="8.97" lengthAdjust="spacingAndGlyphs">a</text>
<text x="1940.3" y="551.6" textLength="17.07" lengthAdjust="spacingAndGlyphs">m</text>
<text x="1958.1" y="551.6" textLength="8.72" lengthAdjust="spacingAndGlyphs">s</text>
<text x="1966.0" y="551.6" textLength="7.27" lengthAdjust="spacingAndGlyphs">,</text>
<text x="1978.9" y="551.6" textLength="12.92" lengthAdjust="spacingAndGlyphs">H</text>
<text x="1992.5" y="551.6" textLength="12.38" lengthAdjust="spacingAndGlyphs">R</text>
<text x="2004.9" y="551.6" textLength="12.81" lengthAdjust="spacingAndGlyphs">U</text>
<text x="2018.3" y="551.6" textLength="8.72" lengthAdjust="spacingAndGlyphs">s</text>
<text x="2026.3" y="551.6" textLength="7.27" lengthAdjust="spacingAndGlyphs">,</text>
<text x="2039.1" y="551.6" textLength="10.15" lengthAdjust="spacingAndGlyphs">L</text>
<text x="2049.3" y="551.6" textLength="10.79" lengthAdjust="spacingAndGlyphs">S</text>
<text x="2060.5" y="551.6" textLength="12.81" lengthAdjust="spacingAndGlyphs">U</text>
<text x="2074.0" y="551.6" textLength="8.72" lengthAdjust="spacingAndGlyphs">s</text>
</g>
<circle cx="1747.5" cy="609.96" r="10.6" fill="#7b5ea7"/>
<g font-size="23.56" font-weight="bold" fill="#eceff1" >
<text x="1790.4" y="602.4" textLength="16.68" lengthAdjust="spacingAndGlyphs">R</text>
<text x="1807.2" y="602.4" textLength="12.82" lengthAdjust="spacingAndGlyphs">a</text>
<text x="1822.3" y="602.4" textLength="12.87" lengthAdjust="spacingAndGlyphs">s</text>
<text x="1835.3" y="602.4" textLength="10.50" lengthAdjust="spacingAndGlyphs">t</text>
<text x="1845.7" y="602.4" textLength="15.19" lengthAdjust="spacingAndGlyphs">e</text>
<text x="1860.9" y="602.4" textLength="11.30" lengthAdjust="spacingAndGlyphs">r</text>
<text x="1880.0" y="602.4" textLength="18.01" lengthAdjust="spacingAndGlyphs">D</text>
<text x="1898.3" y="602.4" textLength="12.82" lengthAdjust="spacingAndGlyphs">a</text>
<text x="1913.1" y="602.4" textLength="10.50" lengthAdjust="spacingAndGlyphs">t</text>
<text x="1923.9" y="602.4" textLength="12.82" lengthAdjust="spacingAndGlyphs">a</text>
<text x="1939.0" y="602.4" textLength="12.87" lengthAdjust="spacingAndGlyphs">s</text>
<text x="1951.7" y="602.4" textLength="15.19" lengthAdjust="spacingAndGlyphs">e</text>
<text x="1967.0" y="602.4" textLength="10.50" lengthAdjust="spacingAndGlyphs">t</text>
<text x="1977.9" y="602.4" textLength="12.87" lengthAdjust="spacingAndGlyphs">s</text>
</g>
<g font-size="19.14" fill="#b0bec5" >
<text x="1790.4" y="633.5" textLength="13.37" lengthAdjust="spacingAndGlyphs">D</text>
<text x="1804.6" y="633.5" textLength="10.39" lengthAdjust="spacingAndGlyphs">E</text>
<text x="1815.8" y="633.5" textLength="14.93" lengthAdjust="spacingAndGlyphs">M</text>
<text x="1830.0" y="633.5" textLength="7.27" lengthAdjust="spacingAndGlyphs">,</text>
<text x="1843.0" y="633.5" textLength="4.01" lengthAdjust="spacingAndGlyphs">l</text>
<text x="1847.9" y="633.5" textLength="8.97" lengthAdjust="spacingAndGlyphs">a</text>
<text x="1858.9" y="633.5" textLength="10.87" lengthAdjust="spacingAndGlyphs">n</text>
<text x="1870.2" y="633.5" textLength="10.93" lengthAdjust="spacingAndGlyphs">d</text>
<text x="1881.7" y="633.5" textLength="10.87" lengthAdjust="spacingAndGlyphs">u</text>
<text x="1893.4" y="633.5" textLength="8.72" lengthAdjust="spacingAndGlyphs">s</text>
<text x="1902.5" y="633.5" textLength="10.90" lengthAdjust="spacingAndGlyphs">e</text>
<text x="1912.4" y="633.5" textLength="7.27" lengthAdjust="spacingAndGlyphs">,</text>
<text x="1925.4" y="633.5" textLength="8.72" lengthAdjust="spacingAndGlyphs">s</text>
<text x="1934.5" y="633.5" textLength="10.68" lengthAdjust="spacingAndGlyphs">o</text>
<text x="1945.9" y="633.5" textLength="4.01" lengthAdjust="spacingAndGlyphs">i</text>
<text x="1950.9" y="633.5" textLength="4.01" lengthAdjust="spacingAndGlyphs">l</text>
<text x="1961.7" y="633.5" textLength="5.11" lengthAdjust="spacingAndGlyphs">(</text>
<text x="1968.4" y="633.5" textLength="9.03" lengthAdjust="spacingAndGlyphs">c</text>
<text x="1978.6" y="633.5" textLength="4.01" lengthAdjust="spacingAndGlyphs">l</text>
<text x="1983.6" y="633.5" textLength="4.01" lengthAdjust="spacingAndGlyphs">i</text>
<text x="1988.5" y="633.5" textLength="10.93" lengthAdjust="spacingAndGlyphs">p</text>
<text x="1999.9" y="633.5" textLength="10.93" lengthAdjust="spacingAndGlyphs">p</text>
<text x="2011.2" y="633.5" textLength="10.90" lengthAdjust="spacingAndGlyphs">e</text>
<text x="2022.4" y="633.5" textLength="10.93" lengthAdjust="spacingAndGlyphs">d</text>
<text x="2035.0" y="633.5" textLength="5.11" lengthAdjust="spacingAndGlyphs">)</text>
</g>
<circle cx="1747.5" cy="691.78" r="10.6" fill="#7b5ea7"/>
<g font-size="23.56" font-weight="bold" fill="#eceff1" >
<text x="1791.1" y="684.2" textLength="15.19" lengthAdjust="spacingAndGlyphs">C</text>
<text x="1807.0" y="684.2" textLength="7.72" lengthAdjust="spacingAndGlyphs">l</text>
<text x="1814.7" y="684.2" textLength="7.72" lengthAdjust="spacingAndGlyphs">i</text>
<text x="1822.6" y="684.2" textLength="22.73" lengthAdjust="spacingAndGlyphs">m</text>
<text x="1845.7" y="684.2" textLength="12.82" lengthAdjust="spacingAndGlyphs">a</text>
<text x="1860.5" y="684.2" textLength="10.50" lengthAdjust="spacingAndGlyphs">t</text>
<text x="1870.9" y="684.2" textLength="15.19" lengthAdjust="spacingAndGlyphs">e</text>
<text x="1894.3" y="684.2" textLength="18.01" lengthAdjust="spacingAndGlyphs">D</text>
<text x="1912.6" y="684.2" textLength="12.82" lengthAdjust="spacingAndGlyphs">a</text>
<text x="1927.4" y="684.2" textLength="10.50" lengthAdjust="spacingAndGlyphs">t</text>
<text x="1938.2" y="684.2" textLength="12.82" lengthAdjust="spacingAndGlyphs">a</text>
<text x="1961.4" y="684.2" textLength="7.67" lengthAdjust="spacingAndGlyphs">(</text>
<text x="1971.8" y="684.2" textLength="13.65" lengthAdjust="spacingAndGlyphs">2</text>
<text x="1986.2" y="684.2" textLength="15.74" lengthAdjust="spacingAndGlyphs">0</text>
<text x="2009.6" y="684.2" textLength="14.19" lengthAdjust="spacingAndGlyphs">y</text>
<text x="2024.0" y="684.2" textLength="11.30" lengthAdjust="spacingAndGlyphs">r</text>
<text x="2035.3" y="684.2" textLength="12.87" lengthAdjust="spacingAndGlyphs">s</text>
<text x="2050.0" y="684.2" textLength="7.53" lengthAdjust="spacingAndGlyphs">)</text>
</g>
<g font-size="19.14" fill="#b0bec5" >
<text x="1790.1" y="715.3" textLength="5.54" lengthAdjust="spacingAndGlyphs">.</text>
<text x="1796.1" y="715.3" textLength="10.93" lengthAdjust="spacingAndGlyphs">p</text>
<text x="1807.5" y="715.3" textLength="9.03" lengthAdjust="spacingAndGlyphs">c</text>
<text x="1817.5" y="715.3" textLength="10.93" lengthAdjust="spacingAndGlyphs">p</text>
<text x="1834.4" y="715.3" textLength="5.54" lengthAdjust="spacingAndGlyphs">.</text>
<text x="1840.2" y="715.3" textLength="6.79" lengthAdjust="spacingAndGlyphs">t</text>
<text x="1847.4" y="715.3" textLength="17.07" lengthAdjust="spacingAndGlyphs">m</text>
<text x="1865.1" y="715.3" textLength="10.93" lengthAdjust="spacingAndGlyphs">p</text>
<text x="1882.0" y="715.3" textLength="5.54" lengthAdjust="spacingAndGlyphs">.</text>
<text x="1888.1" y="715.3" textLength="8.72" lengthAdjust="spacingAndGlyphs">s</text>
<text x="1897.6" y="715.3" textLength="4.01" lengthAdjust="spacingAndGlyphs">l</text>
<text x="1902.2" y="715.3" textLength="7.70" lengthAdjust="spacingAndGlyphs">r</text>
<text x="1915.4" y="715.3" textLength="5.54" lengthAdjust="spacingAndGlyphs">.</text>
<text x="1921.7" y="715.3" textLength="13.22" lengthAdjust="spacingAndGlyphs">w</text>
<text x="1936.1" y="715.3" textLength="10.87" lengthAdjust="spacingAndGlyphs">n</text>
<text x="1947.4" y="715.3" textLength="10.93" lengthAdjust="spacingAndGlyphs">d</text>
<text x="1964.5" y="715.3" textLength="5.54" lengthAdjust="spacingAndGlyphs">.</text>
<text x="1970.4" y="715.3" textLength="11.00" lengthAdjust="spacingAndGlyphs">h</text>
<text x="1981.9" y="715.3" textLength="17.07" lengthAdjust="spacingAndGlyphs">m</text>
<text x="1999.4" y="715.3" textLength="10.93" lengthAdjust="spacingAndGlyphs">d</text>
</g>
<circle cx="1747.5" cy="773.60" r="10.6" fill="#7b5ea7"/>
<g font-size="23.56" font-weight="bold" fill="#eceff1" >
<text x="1791.9" y="766.0" textLength="23.08" lengthAdjust="spacingAndGlyphs">W</text>
<text x="1814.7" y="766.0" textLength="15.19" lengthAdjust="spacingAndGlyphs">e</text>
<text x="1830.2" y="766.0" textLength="12.82" lengthAdjust="spacingAndGlyphs">a</text>
<text x="1845.0" y="766.0" textLength="10.50" lengthAdjust="spacingAndGlyphs">t</text>
<text x="1855.7" y="766.0" textLength="15.55" lengthAdjust="spacingAndGlyphs">h</text>
<text x="1871.3" y="766.0" textLength="15.19" lengthAdjust="spacingAndGlyphs">e</text>
<text x="1886.5" y="766.0" textLength="11.30" lengthAdjust="spacingAndGlyphs">r</text>
<text x="1905.4" y="766.0" textLength="17.92" lengthAdjust="spacingAndGlyphs">G</text>
<text x="1923.3" y="766.0" textLength="15.19" lengthAdjust="spacingAndGlyphs">e</text>
<text x="1938.8" y="766.0" textLength="15.39" lengthAdjust="spacingAndGlyphs">n</text>
<text x="1954.2" y="766.0" textLength="15.19" lengthAdjust="spacingAndGlyphs">e</text>
<text x="1969.4" y="766.0" textLength="11.30" lengthAdjust="spacingAndGlyphs">r</text>
<text x="1980.6" y="766.0" textLength="12.82" lengthAdjust="spacingAndGlyphs">a</text>
<text x="1995.4" y="766.0" textLength="10.50" lengthAdjust="spacingAndGlyphs">t</text>
<text x="2005.9" y="766.0" textLength="15.50" lengthAdjust="spacingAndGlyphs">o</text>
<text x="2021.3" y="766.0" textLength="11.30" lengthAdjust="spacingAndGlyphs">r</text>
</g>
<g font-size="19.14" fill="#b0bec5" >
<text x="1791.8" y="797.1" textLength="16.77" lengthAdjust="spacingAndGlyphs">W</text>
<text x="1809.2" y="797.1" textLength="13.72" lengthAdjust="spacingAndGlyphs">G</text>
<text x="1823.5" y="797.1" textLength="12.81" lengthAdjust="spacingAndGlyphs">N</text>
<text x="1842.8" y="797.1" textLength="8.72" lengthAdjust="spacingAndGlyphs">s</text>
<text x="1851.8" y="797.1" textLength="6.79" lengthAdjust="spacingAndGlyphs">t</text>
<text x="1859.3" y="797.1" textLength="8.97" lengthAdjust="spacingAndGlyphs">a</text>
<text x="1870.0" y="797.1" textLength="6.79" lengthAdjust="spacingAndGlyphs">t</text>
<text x="1877.5" y="797.1" textLength="4.01" lengthAdjust="spacingAndGlyphs">i</text>
<text x="1882.5" y="797.1" textLength="8.72" lengthAdjust="spacingAndGlyphs">s</text>
<text x="1891.5" y="797.1" textLength="6.79" lengthAdjust="spacingAndGlyphs">t</text>
<text x="1899.0" y="797.1" textLength="4.01" lengthAdjust="spacingAndGlyphs">i</text>
<text x="1903.8" y="797.1" textLength="9.03" lengthAdjust="spacingAndGlyphs">c</text>
<text x="1913.9" y="797.1" textLength="8.72" lengthAdjust="spacingAndGlyphs">s</text>
<text x="1929.2" y="797.1" textLength="5.11" lengthAdjust="spacingAndGlyphs">(</text>
<text x="1935.8" y="797.1" textLength="12.12" lengthAdjust="spacingAndGlyphs">C</text>
<text x="1948.8" y="797.1" textLength="9.45" lengthAdjust="spacingAndGlyphs">F</text>
<text x="1958.7" y="797.1" textLength="10.79" lengthAdjust="spacingAndGlyphs">S</text>
<text x="1970.2" y="797.1" textLength="12.38" lengthAdjust="spacingAndGlyphs">R</text>
<text x="1983.7" y="797.1" textLength="5.11" lengthAdjust="spacingAndGlyphs">)</text>
</g>
<circle cx="1747.5" cy="855.42" r="10.6" fill="#7b5ea7"/>
<g font-size="23.56" font-weight="bold" fill="#eceff1" >
<text x="1791.3" y="847.8" textLength="14.21" lengthAdjust="spacingAndGlyphs">S</text>
<text x="1806.3" y="847.8" textLength="7.72" lengthAdjust="spacingAndGlyphs">i</text>
<text x="1814.2" y="847.8" textLength="22.73" lengthAdjust="spacingAndGlyphs">m</text>
<text x="1837.4" y="847.8" textLength="15.39" lengthAdjust="spacingAndGlyphs">u</text>
<text x="1852.9" y="847.8" textLength="7.72" lengthAdjust="spacingAndGlyphs">l</text>
<text x="1860.8" y="847.8" textLength="12.82" lengthAdjust="spacingAndGlyphs">a</text>
<text x="1875.6" y="847.8" textLength="10.50" lengthAdjust="spacingAndGlyphs">t</text>
<text x="1886.1" y="847.8" textLength="7.72" lengthAdjust="spacingAndGlyphs">i</text>
<text x="1893.7" y="847.8" textLength="15.50" lengthAdjust="spacingAndGlyphs">o</text>
<text x="1909.3" y="847.8" textLength="15.39" lengthAdjust="spacingAndGlyphs">n</text>
<text x="1933.1" y="847.8" textLength="16.68" lengthAdjust="spacingAndGlyphs">R</text>
<text x="1949.5" y="847.8" textLength="15.19" lengthAdjust="spacingAndGlyphs">e</text>
<text x="1965.1" y="847.8" textLength="12.87" lengthAdjust="spacingAndGlyphs">s</text>
<text x="1978.3" y="847.8" textLength="15.39" lengthAdjust="spacingAndGlyphs">u</text>
<text x="1993.8" y="847.8" textLength="7.72" lengthAdjust="spacingAndGlyphs">l</text>
<text x="2001.5" y="847.8" textLength="10.50" lengthAdjust="spacingAndGlyphs">t</text>
<text x="2012.4" y="847.8" textLength="12.87" lengthAdjust="spacingAndGlyphs">s</text>
</g>
<g font-size="19.14" fill="#b0bec5" >
<text x="1791.4" y="878.9" textLength="8.72" lengthAdjust="spacingAndGlyphs">s</text>
<text x="1800.9" y="878.9" textLength="4.01" lengthAdjust="spacingAndGlyphs">i</text>
<text x="1805.6" y="878.9" textLength="17.07" lengthAdjust="spacingAndGlyphs">m</text>
<text x="1823.2" y="878.9" textLength="10.87" lengthAdjust="spacingAndGlyphs">u</text>
<text x="1834.9" y="878.9" textLength="4.01" lengthAdjust="spacingAndGlyphs">l</text>
<text x="1839.8" y="878.9" textLength="8.97" lengthAdjust="spacingAndGlyphs">a</text>
<text x="1850.5" y="878.9" textLength="6.79" lengthAdjust="spacingAndGlyphs">t</text>
<text x="1858.1" y="878.9" textLength="4.01" lengthAdjust="spacingAndGlyphs">i</text>
<text x="1862.8" y="878.9" textLength="10.68" lengthAdjust="spacingAndGlyphs">o</text>
<text x="1873.9" y="878.9" textLength="10.87" lengthAdjust="spacingAndGlyphs">n</text>
<text x="1885.1" y="878.9" textLength="5.54" lengthAdjust="spacingAndGlyphs">.</text>
<text x="1891.0" y="878.9" textLength="10.68" lengthAdjust="spacingAndGlyphs">o</text>
<text x="1902.1" y="878.9" textLength="10.87" lengthAdjust="spacingAndGlyphs">u</text>
<text x="1913.3" y="878.9" textLength="6.79" lengthAdjust="spacingAndGlyphs">t</text>
<text x="1926.8" y="878.9" textLength="13.59" lengthAdjust="spacingAndGlyphs">+</text>
<text x="1947.2" y="878.9" textLength="10.68" lengthAdjust="spacingAndGlyphs">o</text>
<text x="1958.3" y="878.9" textLength="10.87" lengthAdjust="spacingAndGlyphs">u</text>
<text x="1969.5" y="878.9" textLength="6.79" lengthAdjust="spacingAndGlyphs">t</text>
<text x="1976.9" y="878.9" textLength="10.93" lengthAdjust="spacingAndGlyphs">p</text>
<text x="1988.2" y="878.9" textLength="10.87" lengthAdjust="spacingAndGlyphs">u</text>
<text x="1999.5" y="878.9" textLength="6.79" lengthAdjust="spacingAndGlyphs">t</text>
<text x="2007.0" y="878.9" textLength="8.72" lengthAdjust="spacingAndGlyphs">s</text>
</g>
<circle cx="1747.5" cy="937.24" r="10.6" fill="#7b5ea7"/>
<g font-size="23.56" font-weight="bold" fill="#eceff1" >
<text x="1791.3" y="929.6" textLength="14.21" lengthAdjust="spacingAndGlyphs">S</text>
<text x="1806.4" y="929.6" textLength="10.50" lengthAdjust="spacingAndGlyphs">t</text>
<text x="1817.0" y="929.6" textLength="11.30" lengthAdjust="spacingAndGlyphs">r</text>
<text x="1827.7" y="929.6" textLength="15.19" lengthAdjust="spacingAndGlyphs">e</text>
<text x="1843.2" y="929.6" textLength="12.82" lengthAdjust="spacingAndGlyphs">a</text>
<text x="1858.2" y="929.6" textLength="22.73" lengthAdjust="spacingAndGlyphs">m</text>
<text x="1881.2" y="929.6" textLength="9.83" lengthAdjust="spacingAndGlyphs">f</text>
<text x="1890.8" y="929.6" textLength="7.72" lengthAdjust="spacingAndGlyphs">l</text>
<text x="1898.3" y="929.6" textLength="15.50" lengthAdjust="spacingAndGlyphs">o</text>
<text x="1914.6" y="929.6" textLength="18.83" lengthAdjust="spacingAndGlyphs">w</text>
<text x="1942.5" y="929.6" textLength="16.68" lengthAdjust="spacingAndGlyphs">R</text>
<text x="1958.9" y="929.6" textLength="15.19" lengthAdjust="spacingAndGlyphs">e</text>
<text x="1974.2" y="929.6" textLength="12.36" lengthAdjust="spacingAndGlyphs">c</text>
<text x="1987.2" y="929.6" textLength="15.50" lengthAdjust="spacingAndGlyphs">o</text>
<text x="2002.6" y="929.6" textLength="11.30" lengthAdjust="spacingAndGlyphs">r</text>
<text x="2013.5" y="929.6" textLength="15.73" lengthAdjust="spacingAndGlyphs">d</text>
<text x="2029.8" y="929.6" textLength="12.87" lengthAdjust="spacingAndGlyphs">s</text>
</g>
<g font-size="19.14" fill="#b0bec5" >
<text x="1790.6" y="960.7" textLength="12.81" lengthAdjust="spacingAndGlyphs">U</text>
<text x="1804.0" y="960.7" textLength="10.79" lengthAdjust="spacingAndGlyphs">S</text>
<text x="1815.2" y="960.7" textLength="13.72" lengthAdjust="spacingAndGlyphs">G</text>
<text x="1829.5" y="960.7" textLength="10.79" lengthAdjust="spacingAndGlyphs">S</text>
<text x="1846.5" y="960.7" textLength="10.68" lengthAdjust="spacingAndGlyphs">o</text>
<text x="1857.6" y="960.7" textLength="10.93" lengthAdjust="spacingAndGlyphs">b</text>
<text x="1869.2" y="960.7" textLength="8.72" lengthAdjust="spacingAndGlyphs">s</text>
<text x="1878.4" y="960.7" textLength="10.90" lengthAdjust="spacingAndGlyphs">e</text>
<text x="1889.4" y="960.7" textLength="7.70" lengthAdjust="spacingAndGlyphs">r</text>
<text x="1897.1" y="960.7" textLength="9.76" lengthAdjust="spacingAndGlyphs">v</text>
<text x="1907.6" y="960.7" textLength="10.90" lengthAdjust="spacingAndGlyphs">e</text>
<text x="1918.7" y="960.7" textLength="10.93" lengthAdjust="spacingAndGlyphs">d</text>
<text x="1935.7" y="960.7" textLength="6.62" lengthAdjust="spacingAndGlyphs">f</text>
<text x="1942.3" y="960.7" textLength="10.68" lengthAdjust="spacingAndGlyphs">o</text>
<text x="1953.2" y="960.7" textLength="7.70" lengthAdjust="spacingAndGlyphs">r</text>
<text x="1966.5" y="960.7" textLength="9.03" lengthAdjust="spacingAndGlyphs">c</text>
<text x="1976.6" y="960.7" textLength="8.97" lengthAdjust="spacingAndGlyphs">a</text>
<text x="1987.8" y="960.7" textLength="4.01" lengthAdjust="spacingAndGlyphs">l</text>
<text x="1992.8" y="960.7" textLength="4.01" lengthAdjust="spacingAndGlyphs">i</text>
<text x="1997.6" y="960.7" textLength="10.93" lengthAdjust="spacingAndGlyphs">b</text>
<text x="2008.8" y="960.7" textLength="7.70" lengthAdjust="spacingAndGlyphs">r</text>
<text x="2016.6" y="960.7" textLength="8.97" lengthAdjust="spacingAndGlyphs">a</text>
<text x="2027.3" y="960.7" textLength="6.79" lengthAdjust="spacingAndGlyphs">t</text>
<text x="2034.8" y="960.7" textLength="4.01" lengthAdjust="spacingAndGlyphs">i</text>
<text x="2039.5" y="960.7" textLength="10.68" lengthAdjust="spacingAndGlyphs">o</text>
<text x="2050.7" y="960.7" textLength="10.87" lengthAdjust="spacingAndGlyphs">n</text>
</g>
<circle cx="1747.5" cy="1019.06" r="10.6" fill="#7b5ea7"/>
<g font-size="23.56" font-weight="bold" fill="#eceff1" >
<text x="1790.4" y="1011.5" textLength="16.68" lengthAdjust="spacingAndGlyphs">R</text>
<text x="1807.3" y="1011.5" textLength="15.39" lengthAdjust="spacingAndGlyphs">u</text>
<text x="1823.1" y="1011.5" textLength="15.39" lengthAdjust="spacingAndGlyphs">n</text>
<text x="1846.7" y="1011.5" textLength="21.55" lengthAdjust="spacingAndGlyphs">M</text>
<text x="1868.3" y="1011.5" textLength="15.19" lengthAdjust="spacingAndGlyphs">e</text>
<text x="1883.6" y="1011.5" textLength="10.50" lengthAdjust="spacingAndGlyphs">t</text>
<text x="1894.4" y="1011.5" textLength="12.82" lengthAdjust="spacingAndGlyphs">a</text>
<text x="1909.2" y="1011.5" textLength="15.73" lengthAdjust="spacingAndGlyphs">d</text>
<text x="1925.3" y="1011.5" textLength="12.82" lengthAdjust="spacingAndGlyphs">a</text>
<text x="1940.1" y="1011.5" textLength="10.50" lengthAdjust="spacingAndGlyphs">t</text>
<text x="1950.9" y="1011.5" textLength="12.82" lengthAdjust="spacingAndGlyphs">a</text>
</g>
<g font-size="19.14" fill="#b0bec5" >
<text x="1791.8" y="1042.6" textLength="12.23" lengthAdjust="spacingAndGlyphs">V</text>
<text x="1804.6" y="1042.6" textLength="10.58" lengthAdjust="spacingAndGlyphs">P</text>
<text x="1815.2" y="1042.6" textLength="12.81" lengthAdjust="spacingAndGlyphs">U</text>
<text x="1828.4" y="1042.6" textLength="5.02" lengthAdjust="spacingAndGlyphs">I</text>
<text x="1833.8" y="1042.6" textLength="13.37" lengthAdjust="spacingAndGlyphs">D</text>
<text x="1846.4" y="1042.6" textLength="7.27" lengthAdjust="spacingAndGlyphs">,</text>
<text x="1859.3" y="1042.6" textLength="12.92" lengthAdjust="spacingAndGlyphs">H</text>
<text x="1872.7" y="1042.6" textLength="12.81" lengthAdjust="spacingAndGlyphs">U</text>
<text x="1885.8" y="1042.6" textLength="12.12" lengthAdjust="spacingAndGlyphs">C</text>
<text x="1898.9" y="1042.6" textLength="10.04" lengthAdjust="spacingAndGlyphs">1</text>
<text x="1910.2" y="1042.6" textLength="10.15" lengthAdjust="spacingAndGlyphs">2</text>
<text x="1927.5" y="1042.6" textLength="4.01" lengthAdjust="spacingAndGlyphs">l</text>
<text x="1932.6" y="1042.6" textLength="4.01" lengthAdjust="spacingAndGlyphs">i</text>
<text x="1937.5" y="1042.6" textLength="8.72" lengthAdjust="spacingAndGlyphs">s</text>
<text x="1946.5" y="1042.6" textLength="6.79" lengthAdjust="spacingAndGlyphs">t</text>
<text x="1952.5" y="1042.6" textLength="7.27" lengthAdjust="spacingAndGlyphs">,</text>
<text x="1965.3" y="1042.6" textLength="9.03" lengthAdjust="spacingAndGlyphs">c</text>
<text x="1975.1" y="1042.6" textLength="10.68" lengthAdjust="spacingAndGlyphs">o</text>
<text x="1986.3" y="1042.6" textLength="10.87" lengthAdjust="spacingAndGlyphs">n</text>
<text x="1997.4" y="1042.6" textLength="6.62" lengthAdjust="spacingAndGlyphs">f</text>
<text x="2004.3" y="1042.6" textLength="4.01" lengthAdjust="spacingAndGlyphs">i</text>
<text x="2009.0" y="1042.6" textLength="10.93" lengthAdjust="spacingAndGlyphs">g</text>
</g>
<circle cx="1747.5" cy="1100.88" r="10.6" fill="#7b5ea7"/>
<g font-size="23.56" font-weight="bold" fill="#eceff1" >
<text x="1790.3" y="1093.3" textLength="18.01" lengthAdjust="spacingAndGlyphs">D</text>
<text x="1808.2" y="1093.3" textLength="15.50" lengthAdjust="spacingAndGlyphs">o</text>
<text x="1824.5" y="1093.3" textLength="18.83" lengthAdjust="spacingAndGlyphs">w</text>
<text x="1844.4" y="1093.3" textLength="15.39" lengthAdjust="spacingAndGlyphs">n</text>
<text x="1859.9" y="1093.3" textLength="7.72" lengthAdjust="spacingAndGlyphs">l</text>
<text x="1867.5" y="1093.3" textLength="15.50" lengthAdjust="spacingAndGlyphs">o</text>
<text x="1883.0" y="1093.3" textLength="12.82" lengthAdjust="spacingAndGlyphs">a</text>
<text x="1897.8" y="1093.3" textLength="15.73" lengthAdjust="spacingAndGlyphs">d</text>
<text x="1913.9" y="1093.3" textLength="12.82" lengthAdjust="spacingAndGlyphs">a</text>
<text x="1929.0" y="1093.3" textLength="15.73" lengthAdjust="spacingAndGlyphs">b</text>
<text x="1944.6" y="1093.3" textLength="7.72" lengthAdjust="spacingAndGlyphs">l</text>
<text x="1952.1" y="1093.3" textLength="15.19" lengthAdjust="spacingAndGlyphs">e</text>
<text x="1975.6" y="1093.3" textLength="15.60" lengthAdjust="spacingAndGlyphs">P</text>
<text x="1991.0" y="1093.3" textLength="12.82" lengthAdjust="spacingAndGlyphs">a</text>
<text x="2005.8" y="1093.3" textLength="12.36" lengthAdjust="spacingAndGlyphs">c</text>
<text x="2018.9" y="1093.3" textLength="15.16" lengthAdjust="spacingAndGlyphs">k</text>
<text x="2033.9" y="1093.3" textLength="12.82" lengthAdjust="spacingAndGlyphs">a</text>
<text x="2048.7" y="1093.3" textLength="15.73" lengthAdjust="spacingAndGlyphs">g</text>
<text x="2064.4" y="1093.3" textLength="15.19" lengthAdjust="spacingAndGlyphs">e</text>
</g>
<g font-size="19.14" fill="#b0bec5" >
<text x="1791.3" y="1124.4" textLength="11.93" lengthAdjust="spacingAndGlyphs">Z</text>
<text x="1804.0" y="1124.4" textLength="4.01" lengthAdjust="spacingAndGlyphs">i</text>
<text x="1808.8" y="1124.4" textLength="10.93" lengthAdjust="spacingAndGlyphs">p</text>
<text x="1820.3" y="1124.4" textLength="10.93" lengthAdjust="spacingAndGlyphs">p</text>
<text x="1831.6" y="1124.4" textLength="10.90" lengthAdjust="spacingAndGlyphs">e</text>
<text x="1842.7" y="1124.4" textLength="10.93" lengthAdjust="spacingAndGlyphs">d</text>
<text x="1860.1" y="1124.4" textLength="9.76" lengthAdjust="spacingAndGlyphs">v</text>
<text x="1870.9" y="1124.4" textLength="4.01" lengthAdjust="spacingAndGlyphs">i</text>
<text x="1875.8" y="1124.4" textLength="8.97" lengthAdjust="spacingAndGlyphs">a</text>
<text x="1892.9" y="1124.4" textLength="13.22" lengthAdjust="spacingAndGlyphs">w</text>
<text x="1907.2" y="1124.4" textLength="10.90" lengthAdjust="spacingAndGlyphs">e</text>
<text x="1918.4" y="1124.4" textLength="10.93" lengthAdjust="spacingAndGlyphs">b</text>
<text x="1935.7" y="1124.4" textLength="8.97" lengthAdjust="spacingAndGlyphs">a</text>
<text x="1946.7" y="1124.4" textLength="10.93" lengthAdjust="spacingAndGlyphs">p</text>
<text x="1958.2" y="1124.4" textLength="10.93" lengthAdjust="spacingAndGlyphs">p</text>
</g>
<circle cx="1747.5" cy="1182.70" r="10.6" fill="#7b5ea7"/>
<g font-size="23.56" font-weight="bold" fill="#eceff1" >
<text x="1790.6" y="1175.1" textLength="13.64" lengthAdjust="spacingAndGlyphs">E</text>
<text x="1805.3" y="1175.1" textLength="22.73" lengthAdjust="spacingAndGlyphs">m</text>
<text x="1828.4" y="1175.1" textLength="12.82" lengthAdjust="spacingAndGlyphs">a</text>
<text x="1843.2" y="1175.1" textLength="7.72" lengthAdjust="spacingAndGlyphs">i</text>
<text x="1850.8" y="1175.1" textLength="7.72" lengthAdjust="spacingAndGlyphs">l</text>
<text x="1866.6" y="1175.1" textLength="17.82" lengthAdjust="spacingAndGlyphs">N</text>
<text x="1884.7" y="1175.1" textLength="15.50" lengthAdjust="spacingAndGlyphs">o</text>
<text x="1900.1" y="1175.1" textLength="10.50" lengthAdjust="spacingAndGlyphs">t</text>
<text x="1910.6" y="1175.1" textLength="7.72" lengthAdjust="spacingAndGlyphs">i</text>
<text x="1918.3" y="1175.1" textLength="9.83" lengthAdjust="spacingAndGlyphs">f</text>
<text x="1927.9" y="1175.1" textLength="7.72" lengthAdjust="spacingAndGlyphs">i</text>
<text x="1935.6" y="1175.1" textLength="12.36" lengthAdjust="spacingAndGlyphs">c</text>
<text x="1949.0" y="1175.1" textLength="12.82" lengthAdjust="spacingAndGlyphs">a</text>
<text x="1963.8" y="1175.1" textLength="10.50" lengthAdjust="spacingAndGlyphs">t</text>
<text x="1974.3" y="1175.1" textLength="7.72" lengthAdjust="spacingAndGlyphs">i</text>
<text x="1981.9" y="1175.1" textLength="15.50" lengthAdjust="spacingAndGlyphs">o</text>
<text x="1997.5" y="1175.1" textLength="15.39" lengthAdjust="spacingAndGlyphs">n</text>
</g>
<g font-size="19.14" fill="#b0bec5" >
<text x="1791.2" y="1206.2" textLength="10.79" lengthAdjust="spacingAndGlyphs">S</text>
<text x="1802.3" y="1206.2" textLength="6.79" lengthAdjust="spacingAndGlyphs">t</text>
<text x="1809.7" y="1206.2" textLength="8.97" lengthAdjust="spacingAndGlyphs">a</text>
<text x="1820.5" y="1206.2" textLength="7.70" lengthAdjust="spacingAndGlyphs">r</text>
<text x="1827.8" y="1206.2" textLength="6.79" lengthAdjust="spacingAndGlyphs">t</text>
<text x="1840.6" y="1206.2" textLength="6.00" lengthAdjust="spacingAndGlyphs">/</text>
<text x="1852.7" y="1206.2" textLength="9.03" lengthAdjust="spacingAndGlyphs">c</text>
<text x="1862.5" y="1206.2" textLength="10.68" lengthAdjust="spacingAndGlyphs">o</text>
<text x="1873.7" y="1206.2" textLength="17.07" lengthAdjust="spacingAndGlyphs">m</text>
<text x="1891.3" y="1206.2" textLength="10.93" lengthAdjust="spacingAndGlyphs">p</text>
<text x="1903.0" y="1206.2" textLength="4.01" lengthAdjust="spacingAndGlyphs">l</text>
<text x="1907.6" y="1206.2" textLength="10.90" lengthAdjust="spacingAndGlyphs">e</text>
<text x="1918.6" y="1206.2" textLength="6.79" lengthAdjust="spacingAndGlyphs">t</text>
<text x="1926.2" y="1206.2" textLength="4.01" lengthAdjust="spacingAndGlyphs">i</text>
<text x="1930.9" y="1206.2" textLength="10.68" lengthAdjust="spacingAndGlyphs">o</text>
<text x="1942.0" y="1206.2" textLength="10.87" lengthAdjust="spacingAndGlyphs">n</text>
<text x="1959.3" y="1206.2" textLength="8.97" lengthAdjust="spacingAndGlyphs">a</text>
<text x="1970.5" y="1206.2" textLength="4.01" lengthAdjust="spacingAndGlyphs">l</text>
<text x="1975.2" y="1206.2" textLength="10.90" lengthAdjust="spacingAndGlyphs">e</text>
<text x="1986.2" y="1206.2" textLength="7.70" lengthAdjust="spacingAndGlyphs">r</text>
<text x="1993.6" y="1206.2" textLength="6.79" lengthAdjust="spacingAndGlyphs">t</text>
<text x="2001.0" y="1206.2" textLength="8.72" lengthAdjust="spacingAndGlyphs">s</text>
</g>
<rect x="1725.70" y="1226.20" width="431.60" height="238.50" rx="10" ry="10" fill="#0e1929" stroke="#1e3a5f" stroke-width="1.2" />
<g font-size="19.14" font-weight="bold" fill="#b0bec5" >
<text x="1900.3" y="1269.3" textLength="11.14" lengthAdjust="spacingAndGlyphs">L</text>
<text x="1911.9" y="1269.3" textLength="11.08" lengthAdjust="spacingAndGlyphs">E</text>
<text x="1923.9" y="1269.3" textLength="14.56" lengthAdjust="spacingAndGlyphs">G</text>
<text x="1939.1" y="1269.3" textLength="11.08" lengthAdjust="spacingAndGlyphs">E</text>
<text x="1951.2" y="1269.3" textLength="14.48" lengthAdjust="spacingAndGlyphs">N</text>
<text x="1966.3" y="1269.3" textLength="14.63" lengthAdjust="spacingAndGlyphs">D</text>
</g>
<rect x="1749.95" y="1285.75" width="48.70" height="29.20" rx="3" ry="3" fill="#2c6484" stroke="#d0d6da" stroke-width="1.5" />
<g font-size="17.67" fill="#eceff1" >
<text x="1817.5" y="1305.0" textLength="9.59" lengthAdjust="spacingAndGlyphs">E</text>
<text x="1827.8" y="1305.0" textLength="9.20" lengthAdjust="spacingAndGlyphs">x</text>
<text x="1837.4" y="1305.0" textLength="6.26" lengthAdjust="spacingAndGlyphs">t</text>
<text x="1844.1" y="1305.0" textLength="10.06" lengthAdjust="spacingAndGlyphs">e</text>
<text x="1854.2" y="1305.0" textLength="7.10" lengthAdjust="spacingAndGlyphs">r</text>
<text x="1861.0" y="1305.0" textLength="10.03" lengthAdjust="spacingAndGlyphs">n</text>
<text x="1871.6" y="1305.0" textLength="8.28" lengthAdjust="spacingAndGlyphs">a</text>
<text x="1882.0" y="1305.0" textLength="3.70" lengthAdjust="spacingAndGlyphs">l</text>
<text x="1891.7" y="1305.0" textLength="12.34" lengthAdjust="spacingAndGlyphs">D</text>
<text x="1904.6" y="1305.0" textLength="8.28" lengthAdjust="spacingAndGlyphs">a</text>
<text x="1914.5" y="1305.0" textLength="6.26" lengthAdjust="spacingAndGlyphs">t</text>
<text x="1921.4" y="1305.0" textLength="8.28" lengthAdjust="spacingAndGlyphs">a</text>
<text x="1936.9" y="1305.0" textLength="9.96" lengthAdjust="spacingAndGlyphs">S</text>
<text x="1947.3" y="1305.0" textLength="9.85" lengthAdjust="spacingAndGlyphs">o</text>
<text x="1957.5" y="1305.0" textLength="10.03" lengthAdjust="spacingAndGlyphs">u</text>
<text x="1967.9" y="1305.0" textLength="7.10" lengthAdjust="spacingAndGlyphs">r</text>
<text x="1974.5" y="1305.0" textLength="8.33" lengthAdjust="spacingAndGlyphs">c</text>
<text x="1983.7" y="1305.0" textLength="10.06" lengthAdjust="spacingAndGlyphs">e</text>
<text x="1994.1" y="1305.0" textLength="8.05" lengthAdjust="spacingAndGlyphs">s</text>
</g>
<rect x="1749.95" y="1323.95" width="48.70" height="29.20" rx="3" ry="3" fill="#1b6647" stroke="#d0d6da" stroke-width="1.5" />
<g font-size="17.67" fill="#eceff1" >
<text x="1817.9" y="1343.2" textLength="9.96" lengthAdjust="spacingAndGlyphs">S</text>
<text x="1828.6" y="1343.2" textLength="15.48" lengthAdjust="spacingAndGlyphs">W</text>
<text x="1843.8" y="1343.2" textLength="11.12" lengthAdjust="spacingAndGlyphs">A</text>
<text x="1853.3" y="1343.2" textLength="11.07" lengthAdjust="spacingAndGlyphs">T</text>
<text x="1864.1" y="1343.2" textLength="12.67" lengthAdjust="spacingAndGlyphs">G</text>
<text x="1877.1" y="1343.2" textLength="10.06" lengthAdjust="spacingAndGlyphs">e</text>
<text x="1887.4" y="1343.2" textLength="10.03" lengthAdjust="spacingAndGlyphs">n</text>
<text x="1897.8" y="1343.2" textLength="11.21" lengthAdjust="spacingAndGlyphs">X</text>
<text x="1914.9" y="1343.2" textLength="9.77" lengthAdjust="spacingAndGlyphs">P</text>
<text x="1924.3" y="1343.2" textLength="7.10" lengthAdjust="spacingAndGlyphs">r</text>
<text x="1930.9" y="1343.2" textLength="9.85" lengthAdjust="spacingAndGlyphs">o</text>
<text x="1941.1" y="1343.2" textLength="8.33" lengthAdjust="spacingAndGlyphs">c</text>
<text x="1950.2" y="1343.2" textLength="10.06" lengthAdjust="spacingAndGlyphs">e</text>
<text x="1960.7" y="1343.2" textLength="8.05" lengthAdjust="spacingAndGlyphs">s</text>
<text x="1969.4" y="1343.2" textLength="8.05" lengthAdjust="spacingAndGlyphs">s</text>
<text x="1978.1" y="1343.2" textLength="3.70" lengthAdjust="spacingAndGlyphs">i</text>
<text x="1982.6" y="1343.2" textLength="10.03" lengthAdjust="spacingAndGlyphs">n</text>
<text x="1993.0" y="1343.2" textLength="10.09" lengthAdjust="spacingAndGlyphs">g</text>
</g>
<rect x="1749.95" y="1362.15" width="48.70" height="29.20" rx="3" ry="3" fill="#4a5868" stroke="#d0d6da" stroke-width="1.5" />
<g font-size="17.67" fill="#eceff1" >
<text x="1818.2" y="1381.4" textLength="11.07" lengthAdjust="spacingAndGlyphs">T</text>
<text x="1829.1" y="1381.4" textLength="10.15" lengthAdjust="spacingAndGlyphs">h</text>
<text x="1839.9" y="1381.4" textLength="3.70" lengthAdjust="spacingAndGlyphs">i</text>
<text x="1844.2" y="1381.4" textLength="7.11" lengthAdjust="spacingAndGlyphs">r</text>
<text x="1850.8" y="1381.4" textLength="10.09" lengthAdjust="spacingAndGlyphs">d</text>
<text x="1861.2" y="1381.4" textLength="6.00" lengthAdjust="spacingAndGlyphs">-</text>
<text x="1867.7" y="1381.4" textLength="9.77" lengthAdjust="spacingAndGlyphs">P</text>
<text x="1876.9" y="1381.4" textLength="8.28" lengthAdjust="spacingAndGlyphs">a</text>
<text x="1886.8" y="1381.4" textLength="7.10" lengthAdjust="spacingAndGlyphs">r</text>
<text x="1893.7" y="1381.4" textLength="6.26" lengthAdjust="spacingAndGlyphs">t</text>
<text x="1900.5" y="1381.4" textLength="8.92" lengthAdjust="spacingAndGlyphs">y</text>
<text x="1915.7" y="1381.4" textLength="9.96" lengthAdjust="spacingAndGlyphs">S</text>
<text x="1926.1" y="1381.4" textLength="9.85" lengthAdjust="spacingAndGlyphs">o</text>
<text x="1936.1" y="1381.4" textLength="6.12" lengthAdjust="spacingAndGlyphs">f</text>
<text x="1941.7" y="1381.4" textLength="6.26" lengthAdjust="spacingAndGlyphs">t</text>
<text x="1948.8" y="1381.4" textLength="12.20" lengthAdjust="spacingAndGlyphs">w</text>
<text x="1962.2" y="1381.4" textLength="8.28" lengthAdjust="spacingAndGlyphs">a</text>
<text x="1972.1" y="1381.4" textLength="7.10" lengthAdjust="spacingAndGlyphs">r</text>
<text x="1978.7" y="1381.4" textLength="10.06" lengthAdjust="spacingAndGlyphs">e</text>
</g>
<rect x="1749.95" y="1400.35" width="48.70" height="29.20" rx="3" ry="3" fill="#1a2a4a" stroke="#d0d6da" stroke-width="1.5" />
<g font-size="17.67" fill="#eceff1" >
<text x="1817.9" y="1419.6" textLength="12.77" lengthAdjust="spacingAndGlyphs">O</text>
<text x="1830.9" y="1419.6" textLength="7.11" lengthAdjust="spacingAndGlyphs">r</text>
<text x="1837.5" y="1419.6" textLength="8.33" lengthAdjust="spacingAndGlyphs">c</text>
<text x="1846.7" y="1419.6" textLength="10.15" lengthAdjust="spacingAndGlyphs">h</text>
<text x="1857.2" y="1419.6" textLength="10.06" lengthAdjust="spacingAndGlyphs">e</text>
<text x="1867.7" y="1419.6" textLength="8.05" lengthAdjust="spacingAndGlyphs">s</text>
<text x="1876.0" y="1419.6" textLength="6.26" lengthAdjust="spacingAndGlyphs">t</text>
<text x="1882.6" y="1419.6" textLength="7.11" lengthAdjust="spacingAndGlyphs">r</text>
<text x="1889.7" y="1419.6" textLength="8.28" lengthAdjust="spacingAndGlyphs">a</text>
<text x="1899.6" y="1419.6" textLength="6.26" lengthAdjust="spacingAndGlyphs">t</text>
<text x="1906.6" y="1419.6" textLength="3.70" lengthAdjust="spacingAndGlyphs">i</text>
<text x="1910.9" y="1419.6" textLength="9.85" lengthAdjust="spacingAndGlyphs">o</text>
<text x="1921.2" y="1419.6" textLength="10.03" lengthAdjust="spacingAndGlyphs">n</text>
<text x="1937.2" y="1419.6" textLength="12.29" lengthAdjust="spacingAndGlyphs">&amp;</text>
<text x="1955.2" y="1419.6" textLength="11.18" lengthAdjust="spacingAndGlyphs">C</text>
<text x="1966.9" y="1419.6" textLength="9.85" lengthAdjust="spacingAndGlyphs">o</text>
<text x="1977.2" y="1419.6" textLength="10.03" lengthAdjust="spacingAndGlyphs">n</text>
<text x="1987.5" y="1419.6" textLength="6.26" lengthAdjust="spacingAndGlyphs">t</text>
<text x="1994.1" y="1419.6" textLength="7.10" lengthAdjust="spacingAndGlyphs">r</text>
<text x="2000.7" y="1419.6" textLength="9.85" lengthAdjust="spacingAndGlyphs">o</text>
<text x="2011.2" y="1419.6" textLength="3.70" lengthAdjust="spacingAndGlyphs">l</text>
</g>
<g font-size="19.14" font-style="italic" fill="#4f6478" >
<text x="752.6" y="1617.2" textLength="11.94" lengthAdjust="spacingAndGlyphs">B</text>
<text x="765.3" y="1617.2" textLength="10.85" lengthAdjust="spacingAndGlyphs">u</text>
<text x="776.9" y="1617.2" textLength="4.19" lengthAdjust="spacingAndGlyphs">i</text>
<text x="781.9" y="1617.2" textLength="4.19" lengthAdjust="spacingAndGlyphs">l</text>
<text x="786.6" y="1617.2" textLength="6.69" lengthAdjust="spacingAndGlyphs">t</text>
<text x="800.0" y="1617.2" textLength="13.22" lengthAdjust="spacingAndGlyphs">w</text>
<text x="814.5" y="1617.2" textLength="4.19" lengthAdjust="spacingAndGlyphs">i</text>
<text x="819.2" y="1617.2" textLength="6.69" lengthAdjust="spacingAndGlyphs">t</text>
<text x="826.6" y="1617.2" textLength="10.75" lengthAdjust="spacingAndGlyphs">h</text>
<text x="837.8" y="1617.2" textLength="5.14" lengthAdjust="spacingAndGlyphs">:</text>
<text x="855.2" y="1617.2" textLength="10.99" lengthAdjust="spacingAndGlyphs">P</text>
<text x="866.7" y="1617.2" textLength="9.33" lengthAdjust="spacingAndGlyphs">y</text>
<text x="876.9" y="1617.2" textLength="6.69" lengthAdjust="spacingAndGlyphs">t</text>
<text x="884.2" y="1617.2" textLength="10.75" lengthAdjust="spacingAndGlyphs">h</text>
<text x="895.6" y="1617.2" textLength="10.55" lengthAdjust="spacingAndGlyphs">o</text>
<text x="906.7" y="1617.2" textLength="10.75" lengthAdjust="spacingAndGlyphs">n</text>
<text x="923.5" y="1617.2" textLength="6.54" lengthAdjust="spacingAndGlyphs">·</text>
<text x="934.9" y="1617.2" textLength="13.94" lengthAdjust="spacingAndGlyphs">G</text>
<text x="948.9" y="1617.2" textLength="13.83" lengthAdjust="spacingAndGlyphs">D</text>
<text x="962.9" y="1617.2" textLength="12.04" lengthAdjust="spacingAndGlyphs">A</text>
<text x="975.2" y="1617.2" textLength="10.37" lengthAdjust="spacingAndGlyphs">L</text>
<text x="991.0" y="1617.2" textLength="6.54" lengthAdjust="spacingAndGlyphs">·</text>
<text x="1002.4" y="1617.2" textLength="14.35" lengthAdjust="spacingAndGlyphs">Q</text>
<text x="1016.7" y="1617.2" textLength="13.94" lengthAdjust="spacingAndGlyphs">G</text>
<text x="1030.4" y="1617.2" textLength="5.46" lengthAdjust="spacingAndGlyphs">I</text>
<text x="1035.7" y="1617.2" textLength="11.56" lengthAdjust="spacingAndGlyphs">S</text>
<text x="1053.2" y="1617.2" textLength="6.54" lengthAdjust="spacingAndGlyphs">·</text>
<text x="1064.3" y="1617.2" textLength="11.56" lengthAdjust="spacingAndGlyphs">S</text>
<text x="1076.4" y="1617.2" textLength="16.86" lengthAdjust="spacingAndGlyphs">W</text>
<text x="1093.2" y="1617.2" textLength="12.04" lengthAdjust="spacingAndGlyphs">A</text>
<text x="1103.3" y="1617.2" textLength="11.98" lengthAdjust="spacingAndGlyphs">T</text>
<text x="1115.6" y="1617.2" textLength="13.59" lengthAdjust="spacingAndGlyphs">+</text>
<text x="1136.0" y="1617.2" textLength="6.54" lengthAdjust="spacingAndGlyphs">·</text>
<text x="1147.6" y="1617.2" textLength="11.36" lengthAdjust="spacingAndGlyphs">R</text>
<text x="1160.3" y="1617.2" textLength="10.87" lengthAdjust="spacingAndGlyphs">e</text>
<text x="1171.6" y="1617.2" textLength="10.14" lengthAdjust="spacingAndGlyphs">a</text>
<text x="1182.5" y="1617.2" textLength="9.62" lengthAdjust="spacingAndGlyphs">c</text>
<text x="1192.3" y="1617.2" textLength="6.69" lengthAdjust="spacingAndGlyphs">t</text>
<text x="1205.0" y="1617.2" textLength="6.54" lengthAdjust="spacingAndGlyphs">·</text>
<text x="1216.5" y="1617.2" textLength="9.80" lengthAdjust="spacingAndGlyphs">F</text>
<text x="1227.3" y="1617.2" textLength="4.19" lengthAdjust="spacingAndGlyphs">l</text>
<text x="1232.3" y="1617.2" textLength="10.14" lengthAdjust="spacingAndGlyphs">a</text>
<text x="1243.1" y="1617.2" textLength="9.31" lengthAdjust="spacingAndGlyphs">s</text>
<text x="1252.7" y="1617.2" textLength="9.89" lengthAdjust="spacingAndGlyphs">k</text>
<text x="1268.5" y="1617.2" textLength="6.54" lengthAdjust="spacingAndGlyphs">·</text>
<text x="1279.8" y="1617.2" textLength="12.75" lengthAdjust="spacingAndGlyphs">C</text>
<text x="1292.8" y="1617.2" textLength="10.87" lengthAdjust="spacingAndGlyphs">e</text>
<text x="1304.1" y="1617.2" textLength="4.19" lengthAdjust="spacingAndGlyphs">l</text>
<text x="1308.9" y="1617.2" textLength="10.87" lengthAdjust="spacingAndGlyphs">e</text>
<text x="1320.2" y="1617.2" textLength="7.39" lengthAdjust="spacingAndGlyphs">r</text>
<text x="1327.9" y="1617.2" textLength="9.33" lengthAdjust="spacingAndGlyphs">y</text>
<text x="1343.7" y="1617.2" textLength="6.54" lengthAdjust="spacingAndGlyphs">·</text>
<text x="1355.2" y="1617.2" textLength="11.36" lengthAdjust="spacingAndGlyphs">R</text>
<text x="1367.9" y="1617.2" textLength="10.87" lengthAdjust="spacingAndGlyphs">e</text>
<text x="1379.0" y="1617.2" textLength="10.86" lengthAdjust="spacingAndGlyphs">d</text>
<text x="1390.7" y="1617.2" textLength="4.19" lengthAdjust="spacingAndGlyphs">i</text>
<text x="1395.5" y="1617.2" textLength="9.31" lengthAdjust="spacingAndGlyphs">s</text>
<text x="1410.4" y="1617.2" textLength="6.54" lengthAdjust="spacingAndGlyphs">·</text>
<text x="1421.9" y="1617.2" textLength="13.94" lengthAdjust="spacingAndGlyphs">G</text>
<text x="1435.9" y="1617.2" textLength="11.30" lengthAdjust="spacingAndGlyphs">E</text>
<text x="1447.3" y="1617.2" textLength="11.30" lengthAdjust="spacingAndGlyphs">E</text>
</g>
</svg></body></html>
